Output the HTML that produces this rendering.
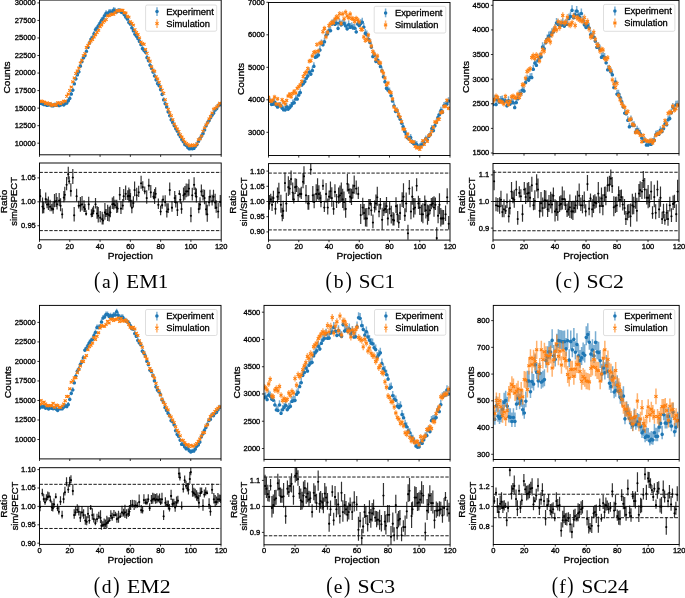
<!DOCTYPE html>
<html><head><meta charset="utf-8"><title>Figure</title>
<style>html,body{margin:0;padding:0;background:#fff;width:685px;height:598px;overflow:hidden;font-family:"Liberation Sans",sans-serif}svg{display:block;position:absolute;left:0;top:0}svg.t{will-change:transform}</style>
</head><body>
<svg width="685" height="598" viewBox="0 0 685 598"><clipPath id="ca"><rect x="39.50" y="0.05" width="181.70" height="154.75"/></clipPath>
<g clip-path="url(#ca)">
<path d="M39.50 100.57V102.35M41.01 100.72V102.49M42.53 101.32V103.09M44.04 101.96V103.72M45.56 102.07V103.83M47.07 102.69V104.45M48.59 102.44V104.19M50.10 101.99V103.75M51.61 103.09V104.84M53.13 103.17V104.92M54.64 102.55V104.30M56.16 102.54V104.30M57.67 102.56V104.32M59.18 102.96V104.72M60.70 102.30V104.06M62.21 101.70V103.46M63.73 102.31V104.07M65.24 100.89V102.66M66.75 100.42V102.20M68.27 98.18V99.97M69.78 95.83V97.64M71.30 91.42V93.26M72.81 87.47V89.34M74.33 81.16V83.08M75.84 76.16V78.11M77.35 72.05V74.03M78.87 69.09V71.10M80.38 63.37V65.41M81.90 58.86V60.94M83.41 55.15V57.25M84.92 52.84V54.96M86.44 48.59V50.73M87.95 44.47V46.64M89.47 40.26V42.46M90.98 36.27V38.50M92.50 34.90V37.13M94.01 30.97V33.23M95.52 26.82V29.10M97.04 25.23V27.52M98.55 22.76V25.06M100.07 20.13V22.45M101.58 17.34V19.68M103.09 15.81V18.15M104.61 12.73V15.09M106.12 10.34V12.72M107.64 11.50V13.88M109.15 9.06V11.45M110.67 9.07V11.46M112.18 9.28V11.66M113.69 7.11V9.51M115.21 7.77V10.17M116.72 9.03V11.42M118.24 8.05V10.44M119.75 7.93V10.32M121.27 9.21V11.60M122.78 9.64V12.02M124.29 11.79V14.16M125.81 14.15V16.51M127.32 16.14V18.49M128.84 19.50V21.83M130.35 21.12V23.43M131.86 24.88V27.18M133.38 27.87V30.14M134.89 31.35V33.60M136.41 33.26V35.50M137.92 35.70V37.92M139.44 38.51V40.72M140.95 41.73V43.92M142.46 45.79V47.95M143.98 47.63V49.78M145.49 49.40V51.54M147.01 54.73V56.84M148.52 57.91V59.99M150.03 62.41V64.47M151.55 65.73V67.75M153.06 69.30V71.30M154.58 73.21V75.19M156.09 77.13V79.08M157.60 80.88V82.80M159.12 82.86V84.77M160.63 86.92V88.80M162.15 91.75V93.59M163.66 97.21V99.01M165.18 101.06V102.83M166.69 104.46V106.20M168.20 109.28V110.98M169.72 113.09V114.76M171.23 117.25V118.89M172.75 119.97V121.58M174.26 123.16V124.74M175.77 126.14V127.70M177.29 128.51V130.05M178.80 131.85V133.36M180.32 134.08V135.57M181.83 137.11V138.57M183.35 139.23V140.66M184.86 142.15V143.56M186.37 143.02V144.42M187.89 145.21V146.58M189.40 146.39V147.75M190.92 146.04V147.40M192.43 146.28V147.65M193.94 145.84V147.21M195.46 144.03V145.42M196.97 142.03V143.44M198.49 138.86V140.30M200.00 136.22V137.69M201.52 133.74V135.23M203.03 131.04V132.56M204.54 127.40V128.94M206.06 123.22V124.80M207.57 120.07V121.69M209.09 118.13V119.76M210.60 115.16V116.81M212.11 112.61V114.28M213.63 110.57V112.26M215.14 107.43V109.15M216.66 105.94V107.66M218.17 103.24V104.99M219.69 102.20V103.96" stroke="#1f77b4" stroke-width="1.50" stroke-opacity="0.60" fill="none"/>
<path d="M39.49 101.46a1.75 1.75 0 1 0 0.01 0zM41.01 101.61a1.75 1.75 0 1 0 0.01 0zM42.52 102.20a1.75 1.75 0 1 0 0.01 0zM44.04 102.84a1.75 1.75 0 1 0 0.01 0zM45.55 102.95a1.75 1.75 0 1 0 0.01 0zM47.07 103.57a1.75 1.75 0 1 0 0.01 0zM48.58 103.31a1.75 1.75 0 1 0 0.01 0zM50.09 102.87a1.75 1.75 0 1 0 0.01 0zM51.61 103.97a1.75 1.75 0 1 0 0.01 0zM53.12 104.05a1.75 1.75 0 1 0 0.01 0zM54.64 103.43a1.75 1.75 0 1 0 0.01 0zM56.15 103.42a1.75 1.75 0 1 0 0.01 0zM57.66 103.44a1.75 1.75 0 1 0 0.01 0zM59.18 103.84a1.75 1.75 0 1 0 0.01 0zM60.69 103.18a1.75 1.75 0 1 0 0.01 0zM62.21 102.58a1.75 1.75 0 1 0 0.01 0zM63.72 103.19a1.75 1.75 0 1 0 0.01 0zM65.24 101.77a1.75 1.75 0 1 0 0.01 0zM66.75 101.31a1.75 1.75 0 1 0 0.01 0zM68.26 99.08a1.75 1.75 0 1 0 0.01 0zM69.78 96.73a1.75 1.75 0 1 0 0.01 0zM71.29 92.34a1.75 1.75 0 1 0 0.01 0zM72.81 88.40a1.75 1.75 0 1 0 0.01 0zM74.32 82.12a1.75 1.75 0 1 0 0.01 0zM75.84 77.14a1.75 1.75 0 1 0 0.01 0zM77.35 73.04a1.75 1.75 0 1 0 0.01 0zM78.86 70.09a1.75 1.75 0 1 0 0.01 0zM80.38 64.39a1.75 1.75 0 1 0 0.01 0zM81.89 59.90a1.75 1.75 0 1 0 0.01 0zM83.41 56.20a1.75 1.75 0 1 0 0.01 0zM84.92 53.90a1.75 1.75 0 1 0 0.01 0zM86.43 49.66a1.75 1.75 0 1 0 0.01 0zM87.95 45.55a1.75 1.75 0 1 0 0.01 0zM89.46 41.36a1.75 1.75 0 1 0 0.01 0zM90.98 37.39a1.75 1.75 0 1 0 0.01 0zM92.49 36.02a1.75 1.75 0 1 0 0.01 0zM94.00 32.10a1.75 1.75 0 1 0 0.01 0zM95.52 27.96a1.75 1.75 0 1 0 0.01 0zM97.03 26.37a1.75 1.75 0 1 0 0.01 0zM98.55 23.91a1.75 1.75 0 1 0 0.01 0zM100.06 21.29a1.75 1.75 0 1 0 0.01 0zM101.58 18.51a1.75 1.75 0 1 0 0.01 0zM103.09 16.98a1.75 1.75 0 1 0 0.01 0zM104.60 13.91a1.75 1.75 0 1 0 0.01 0zM106.12 11.53a1.75 1.75 0 1 0 0.01 0zM107.63 12.69a1.75 1.75 0 1 0 0.01 0zM109.15 10.26a1.75 1.75 0 1 0 0.01 0zM110.66 10.26a1.75 1.75 0 1 0 0.01 0zM112.17 10.47a1.75 1.75 0 1 0 0.01 0zM113.69 8.31a1.75 1.75 0 1 0 0.01 0zM115.20 8.97a1.75 1.75 0 1 0 0.01 0zM116.72 10.22a1.75 1.75 0 1 0 0.01 0zM118.23 9.24a1.75 1.75 0 1 0 0.01 0zM119.75 9.12a1.75 1.75 0 1 0 0.01 0zM121.26 10.40a1.75 1.75 0 1 0 0.01 0zM122.77 10.83a1.75 1.75 0 1 0 0.01 0zM124.29 12.97a1.75 1.75 0 1 0 0.01 0zM125.80 15.33a1.75 1.75 0 1 0 0.01 0zM127.32 17.31a1.75 1.75 0 1 0 0.01 0zM128.83 20.66a1.75 1.75 0 1 0 0.01 0zM130.34 22.28a1.75 1.75 0 1 0 0.01 0zM131.86 26.03a1.75 1.75 0 1 0 0.01 0zM133.37 29.01a1.75 1.75 0 1 0 0.01 0zM134.89 32.47a1.75 1.75 0 1 0 0.01 0zM136.40 34.38a1.75 1.75 0 1 0 0.01 0zM137.92 36.81a1.75 1.75 0 1 0 0.01 0zM139.43 39.61a1.75 1.75 0 1 0 0.01 0zM140.94 42.82a1.75 1.75 0 1 0 0.01 0zM142.46 46.87a1.75 1.75 0 1 0 0.01 0zM143.97 48.70a1.75 1.75 0 1 0 0.01 0zM145.49 50.47a1.75 1.75 0 1 0 0.01 0zM147.00 55.78a1.75 1.75 0 1 0 0.01 0zM148.51 58.95a1.75 1.75 0 1 0 0.01 0zM150.03 63.44a1.75 1.75 0 1 0 0.01 0zM151.54 66.74a1.75 1.75 0 1 0 0.01 0zM153.06 70.30a1.75 1.75 0 1 0 0.01 0zM154.57 74.20a1.75 1.75 0 1 0 0.01 0zM156.09 78.10a1.75 1.75 0 1 0 0.01 0zM157.60 81.84a1.75 1.75 0 1 0 0.01 0zM159.11 83.81a1.75 1.75 0 1 0 0.01 0zM160.63 87.86a1.75 1.75 0 1 0 0.01 0zM162.14 92.67a1.75 1.75 0 1 0 0.01 0zM163.66 98.11a1.75 1.75 0 1 0 0.01 0zM165.17 101.94a1.75 1.75 0 1 0 0.01 0zM166.69 105.33a1.75 1.75 0 1 0 0.01 0zM168.20 110.13a1.75 1.75 0 1 0 0.01 0zM169.71 113.93a1.75 1.75 0 1 0 0.01 0zM171.23 118.07a1.75 1.75 0 1 0 0.01 0zM172.74 120.77a1.75 1.75 0 1 0 0.01 0zM174.26 123.95a1.75 1.75 0 1 0 0.01 0zM175.77 126.92a1.75 1.75 0 1 0 0.01 0zM177.28 129.28a1.75 1.75 0 1 0 0.01 0zM178.80 132.61a1.75 1.75 0 1 0 0.01 0zM180.31 134.82a1.75 1.75 0 1 0 0.01 0zM181.83 137.84a1.75 1.75 0 1 0 0.01 0zM183.34 139.94a1.75 1.75 0 1 0 0.01 0zM184.85 142.85a1.75 1.75 0 1 0 0.01 0zM186.37 143.72a1.75 1.75 0 1 0 0.01 0zM187.88 145.90a1.75 1.75 0 1 0 0.01 0zM189.40 147.07a1.75 1.75 0 1 0 0.01 0zM190.91 146.72a1.75 1.75 0 1 0 0.01 0zM192.43 146.96a1.75 1.75 0 1 0 0.01 0zM193.94 146.53a1.75 1.75 0 1 0 0.01 0zM195.45 144.72a1.75 1.75 0 1 0 0.01 0zM196.97 142.73a1.75 1.75 0 1 0 0.01 0zM198.48 139.58a1.75 1.75 0 1 0 0.01 0zM200.00 136.96a1.75 1.75 0 1 0 0.01 0zM201.51 134.49a1.75 1.75 0 1 0 0.01 0zM203.03 131.80a1.75 1.75 0 1 0 0.01 0zM204.54 128.17a1.75 1.75 0 1 0 0.01 0zM206.05 124.01a1.75 1.75 0 1 0 0.01 0zM207.57 120.88a1.75 1.75 0 1 0 0.01 0zM209.08 118.94a1.75 1.75 0 1 0 0.01 0zM210.60 115.99a1.75 1.75 0 1 0 0.01 0zM212.11 113.44a1.75 1.75 0 1 0 0.01 0zM213.62 111.42a1.75 1.75 0 1 0 0.01 0zM215.14 108.29a1.75 1.75 0 1 0 0.01 0zM216.65 106.80a1.75 1.75 0 1 0 0.01 0zM218.17 104.12a1.75 1.75 0 1 0 0.01 0zM219.68 103.08a1.75 1.75 0 1 0 0.01 0z" fill="#1f77b4"/>
<path d="M39.50 100.54V102.32M41.01 100.08V101.85M42.53 100.49V102.26M44.04 101.10V102.87M45.56 102.62V104.38M47.07 101.98V103.74M48.59 103.50V105.25M50.10 102.57V104.33M51.61 104.72V106.46M53.13 103.86V105.60M54.64 103.68V105.43M56.16 104.57V106.31M57.67 101.93V103.69M59.18 101.82V103.58M60.70 102.95V104.70M62.21 101.49V103.25M63.73 100.38V102.15M65.24 100.18V101.95M66.75 95.38V97.19M68.27 93.01V94.84M69.78 89.59V91.44M71.30 86.10V87.99M72.81 80.82V82.74M74.33 77.01V78.96M75.84 72.46V74.44M77.35 69.93V71.93M78.87 67.06V69.08M80.38 62.02V64.07M81.90 59.18V61.25M83.41 54.58V56.68M84.92 52.60V54.72M86.44 46.40V48.56M87.95 44.33V46.51M89.47 41.90V44.09M90.98 39.97V42.17M92.50 38.39V40.59M94.01 35.84V38.06M95.52 33.75V35.98M97.04 31.31V33.57M98.55 29.03V31.29M100.07 25.50V27.79M101.58 23.85V26.15M103.09 21.16V23.48M104.61 19.78V22.11M106.12 18.44V20.77M107.64 14.76V17.12M109.15 14.45V16.80M110.67 13.46V15.83M112.18 12.80V15.16M113.69 13.07V15.43M115.21 11.52V13.89M116.72 9.57V11.96M118.24 9.83V12.21M119.75 8.99V11.38M121.27 9.07V11.46M122.78 9.13V11.52M124.29 11.59V13.97M125.81 11.82V14.19M127.32 15.12V17.48M128.84 15.96V18.30M130.35 20.58V22.89M131.86 22.17V24.48M133.38 23.98V26.28M134.89 28.49V30.76M136.41 31.39V33.64M137.92 33.39V35.63M139.44 36.77V38.99M140.95 40.99V43.18M142.46 42.39V44.58M143.98 43.27V45.44M145.49 48.33V50.48M147.01 52.23V54.35M148.52 57.17V59.26M150.03 60.20V62.27M151.55 65.76V67.79M153.06 69.14V71.14M154.58 70.23V72.23M156.09 75.80V77.75M157.60 77.96V79.90M159.12 81.32V83.24M160.63 85.83V87.72M162.15 89.28V91.14M163.66 92.42V94.26M165.18 98.74V100.53M166.69 103.51V105.26M168.20 108.47V110.18M169.72 111.79V113.47M171.23 114.86V116.52M172.75 118.87V120.49M174.26 123.24V124.83M175.77 125.86V127.42M177.29 128.33V129.87M178.80 130.69V132.20M180.32 133.91V135.40M181.83 136.26V137.72M183.35 138.72V140.16M184.86 141.36V142.77M186.37 142.78V144.18M187.89 143.89V145.28M189.40 145.04V146.41M190.92 145.01V146.38M192.43 144.16V145.54M193.94 144.95V146.33M195.46 144.54V145.92M196.97 143.00V144.40M198.49 138.95V140.39M200.00 138.07V139.52M201.52 135.13V136.60M203.03 130.55V132.07M204.54 127.10V128.65M206.06 124.09V125.67M207.57 121.99V123.59M209.09 118.16V119.79M210.60 115.71V117.36M212.11 112.13V113.80M213.63 108.27V109.98M215.14 107.38V109.10M216.66 106.10V107.83M218.17 104.68V106.41M219.69 102.34V104.10" stroke="#ff7f0e" stroke-width="1.50" stroke-opacity="0.60" fill="none"/>
<path d="M37.95 100.13l3.10 2.60M37.95 102.73l3.10 -2.60M39.46 99.66l3.10 2.60M39.46 102.26l3.10 -2.60M40.98 100.07l3.10 2.60M40.98 102.67l3.10 -2.60M42.49 100.69l3.10 2.60M42.49 103.29l3.10 -2.60M44.01 102.20l3.10 2.60M44.01 104.80l3.10 -2.60M45.52 101.56l3.10 2.60M45.52 104.16l3.10 -2.60M47.04 103.08l3.10 2.60M47.04 105.68l3.10 -2.60M48.55 102.15l3.10 2.60M48.55 104.75l3.10 -2.60M50.06 104.29l3.10 2.60M50.06 106.89l3.10 -2.60M51.58 103.43l3.10 2.60M51.58 106.03l3.10 -2.60M53.09 103.25l3.10 2.60M53.09 105.85l3.10 -2.60M54.61 104.14l3.10 2.60M54.61 106.74l3.10 -2.60M56.12 101.51l3.10 2.60M56.12 104.11l3.10 -2.60M57.63 101.40l3.10 2.60M57.63 104.00l3.10 -2.60M59.15 102.52l3.10 2.60M59.15 105.12l3.10 -2.60M60.66 101.07l3.10 2.60M60.66 103.67l3.10 -2.60M62.18 99.97l3.10 2.60M62.18 102.57l3.10 -2.60M63.69 99.76l3.10 2.60M63.69 102.36l3.10 -2.60M65.20 94.98l3.10 2.60M65.20 97.58l3.10 -2.60M66.72 92.62l3.10 2.60M66.72 95.22l3.10 -2.60M68.23 89.21l3.10 2.60M68.23 91.81l3.10 -2.60M69.75 85.75l3.10 2.60M69.75 88.35l3.10 -2.60M71.26 80.48l3.10 2.60M71.26 83.08l3.10 -2.60M72.78 76.68l3.10 2.60M72.78 79.28l3.10 -2.60M74.29 72.15l3.10 2.60M74.29 74.75l3.10 -2.60M75.80 69.63l3.10 2.60M75.80 72.23l3.10 -2.60M77.32 66.77l3.10 2.60M77.32 69.37l3.10 -2.60M78.83 61.74l3.10 2.60M78.83 64.34l3.10 -2.60M80.35 58.91l3.10 2.60M80.35 61.51l3.10 -2.60M81.86 54.33l3.10 2.60M81.86 56.93l3.10 -2.60M83.38 52.36l3.10 2.60M83.38 54.96l3.10 -2.60M84.89 46.18l3.10 2.60M84.89 48.78l3.10 -2.60M86.40 44.12l3.10 2.60M86.40 46.72l3.10 -2.60M87.92 41.70l3.10 2.60M87.92 44.30l3.10 -2.60M89.43 39.77l3.10 2.60M89.43 42.37l3.10 -2.60M90.95 38.19l3.10 2.60M90.95 40.79l3.10 -2.60M92.46 35.65l3.10 2.60M92.46 38.25l3.10 -2.60M93.97 33.56l3.10 2.60M93.97 36.16l3.10 -2.60M95.49 31.14l3.10 2.60M95.49 33.74l3.10 -2.60M97.00 28.86l3.10 2.60M97.00 31.46l3.10 -2.60M98.52 25.34l3.10 2.60M98.52 27.94l3.10 -2.60M100.03 23.70l3.10 2.60M100.03 26.30l3.10 -2.60M101.55 21.02l3.10 2.60M101.55 23.62l3.10 -2.60M103.06 19.64l3.10 2.60M103.06 22.24l3.10 -2.60M104.57 18.30l3.10 2.60M104.57 20.90l3.10 -2.60M106.09 14.64l3.10 2.60M106.09 17.24l3.10 -2.60M107.60 14.32l3.10 2.60M107.60 16.92l3.10 -2.60M109.12 13.34l3.10 2.60M109.12 15.94l3.10 -2.60M110.63 12.68l3.10 2.60M110.63 15.28l3.10 -2.60M112.14 12.95l3.10 2.60M112.14 15.55l3.10 -2.60M113.66 11.40l3.10 2.60M113.66 14.00l3.10 -2.60M115.17 9.47l3.10 2.60M115.17 12.07l3.10 -2.60M116.69 9.72l3.10 2.60M116.69 12.32l3.10 -2.60M118.20 8.88l3.10 2.60M118.20 11.48l3.10 -2.60M119.72 8.97l3.10 2.60M119.72 11.57l3.10 -2.60M121.23 9.03l3.10 2.60M121.23 11.63l3.10 -2.60M122.74 11.48l3.10 2.60M122.74 14.08l3.10 -2.60M124.26 11.71l3.10 2.60M124.26 14.31l3.10 -2.60M125.77 15.00l3.10 2.60M125.77 17.60l3.10 -2.60M127.29 15.83l3.10 2.60M127.29 18.43l3.10 -2.60M128.80 20.44l3.10 2.60M128.80 23.04l3.10 -2.60M130.31 22.02l3.10 2.60M130.31 24.62l3.10 -2.60M131.83 23.83l3.10 2.60M131.83 26.43l3.10 -2.60M133.34 28.32l3.10 2.60M133.34 30.92l3.10 -2.60M134.86 31.22l3.10 2.60M134.86 33.82l3.10 -2.60M136.37 33.21l3.10 2.60M136.37 35.81l3.10 -2.60M137.88 36.58l3.10 2.60M137.88 39.18l3.10 -2.60M139.40 40.79l3.10 2.60M139.40 43.39l3.10 -2.60M140.91 42.19l3.10 2.60M140.91 44.79l3.10 -2.60M142.43 43.06l3.10 2.60M142.43 45.66l3.10 -2.60M143.94 48.10l3.10 2.60M143.94 50.70l3.10 -2.60M145.46 51.99l3.10 2.60M145.46 54.59l3.10 -2.60M146.97 56.92l3.10 2.60M146.97 59.52l3.10 -2.60M148.48 59.93l3.10 2.60M148.48 62.53l3.10 -2.60M150.00 65.47l3.10 2.60M150.00 68.07l3.10 -2.60M151.51 68.84l3.10 2.60M151.51 71.44l3.10 -2.60M153.03 69.93l3.10 2.60M153.03 72.53l3.10 -2.60M154.54 75.48l3.10 2.60M154.54 78.08l3.10 -2.60M156.05 77.63l3.10 2.60M156.05 80.23l3.10 -2.60M157.57 80.98l3.10 2.60M157.57 83.58l3.10 -2.60M159.08 85.48l3.10 2.60M159.08 88.08l3.10 -2.60M160.60 88.91l3.10 2.60M160.60 91.51l3.10 -2.60M162.11 92.04l3.10 2.60M162.11 94.64l3.10 -2.60M163.63 98.34l3.10 2.60M163.63 100.94l3.10 -2.60M165.14 103.08l3.10 2.60M165.14 105.68l3.10 -2.60M166.65 108.02l3.10 2.60M166.65 110.62l3.10 -2.60M168.17 111.33l3.10 2.60M168.17 113.93l3.10 -2.60M169.68 114.39l3.10 2.60M169.68 116.99l3.10 -2.60M171.20 118.38l3.10 2.60M171.20 120.98l3.10 -2.60M172.71 122.74l3.10 2.60M172.71 125.34l3.10 -2.60M174.22 125.34l3.10 2.60M174.22 127.94l3.10 -2.60M175.74 127.80l3.10 2.60M175.74 130.40l3.10 -2.60M177.25 130.15l3.10 2.60M177.25 132.75l3.10 -2.60M178.77 133.36l3.10 2.60M178.77 135.96l3.10 -2.60M180.28 135.69l3.10 2.60M180.28 138.29l3.10 -2.60M181.80 138.14l3.10 2.60M181.80 140.74l3.10 -2.60M183.31 140.77l3.10 2.60M183.31 143.37l3.10 -2.60M184.82 142.18l3.10 2.60M184.82 144.78l3.10 -2.60M186.34 143.29l3.10 2.60M186.34 145.89l3.10 -2.60M187.85 144.42l3.10 2.60M187.85 147.02l3.10 -2.60M189.37 144.39l3.10 2.60M189.37 146.99l3.10 -2.60M190.88 143.55l3.10 2.60M190.88 146.15l3.10 -2.60M192.39 144.34l3.10 2.60M192.39 146.94l3.10 -2.60M193.91 143.93l3.10 2.60M193.91 146.53l3.10 -2.60M195.42 142.40l3.10 2.60M195.42 145.00l3.10 -2.60M196.94 138.37l3.10 2.60M196.94 140.97l3.10 -2.60M198.45 137.49l3.10 2.60M198.45 140.09l3.10 -2.60M199.97 134.57l3.10 2.60M199.97 137.17l3.10 -2.60M201.48 130.01l3.10 2.60M201.48 132.61l3.10 -2.60M202.99 126.57l3.10 2.60M202.99 129.17l3.10 -2.60M204.51 123.58l3.10 2.60M204.51 126.18l3.10 -2.60M206.02 121.49l3.10 2.60M206.02 124.09l3.10 -2.60M207.54 117.68l3.10 2.60M207.54 120.28l3.10 -2.60M209.05 115.24l3.10 2.60M209.05 117.84l3.10 -2.60M210.56 111.67l3.10 2.60M210.56 114.27l3.10 -2.60M212.08 107.83l3.10 2.60M212.08 110.43l3.10 -2.60M213.59 106.94l3.10 2.60M213.59 109.54l3.10 -2.60M215.11 105.66l3.10 2.60M215.11 108.26l3.10 -2.60M216.62 104.25l3.10 2.60M216.62 106.85l3.10 -2.60M218.14 101.92l3.10 2.60M218.14 104.52l3.10 -2.60" stroke="#ff7f0e" stroke-width="1.15" fill="none"/>
</g>
<clipPath id="ra"><rect x="39.50" y="163.00" width="181.70" height="76.80"/></clipPath>
<g clip-path="url(#ra)">
<path d="M39.50 230.62H221.20" stroke="#000" stroke-width="0.9" stroke-dasharray="3.4 1.5" fill="none"/>
<path d="M39.50 172.40H221.20" stroke="#000" stroke-width="0.9" stroke-dasharray="3.4 1.5" fill="none"/>
<path d="M39.50 201.80H221.20" stroke="#000" stroke-width="1.0" fill="none"/>
<path d="M40.26 188.92V201.30M43.74 201.72V213.35M45.71 192.56V203.40M48.43 196.50V209.96M51.76 203.73V211.34M54.49 194.00V207.21M57.06 196.91V209.55M59.18 193.04V205.78M60.55 198.16V211.17M62.21 208.13V218.41M63.88 190.88V202.20M64.79 186.83V200.51M66.60 177.07V190.20M68.27 166.85V179.39M69.18 176.29V184.29M70.84 183.14V196.56M72.81 168.92V184.01M74.17 206.90V221.56M76.60 188.80V201.42M78.72 200.72V208.61M82.05 195.99V210.48M84.02 200.30V211.91M86.14 210.14V215.45M88.71 196.74V209.73M91.44 209.24V217.30M93.56 205.64V214.21M95.52 198.07V208.40M98.25 207.03V222.39M100.22 211.11V222.13M102.19 211.69V224.41M104.91 203.05V219.67M107.64 204.69V220.90M110.36 205.50V217.22M112.33 197.55V208.92M115.06 199.85V208.53M117.63 202.45V212.62M119.75 187.11V200.24M120.96 201.01V214.06M123.69 188.96V201.25M125.66 185.40V200.03M127.78 190.13V200.09M129.90 189.18V201.03M130.50 192.92V206.85M131.86 199.81V213.35M134.59 181.48V196.31M136.71 187.63V200.68M138.68 185.69V196.88M141.10 175.72V188.68M142.77 181.35V190.70M144.73 186.49V194.16M146.70 190.25V203.79M148.82 178.66V190.52M150.79 184.88V197.69M153.52 191.83V199.35M155.64 187.20V198.24M158.36 198.50V208.92M160.63 205.54V215.26M163.06 195.43V201.48M165.18 195.29V206.40M166.84 203.22V217.59M169.72 182.39V195.40M171.99 201.37V211.79M174.72 191.04V203.00M177.44 201.97V215.97M179.41 190.36V195.07M181.53 202.18V213.85M183.50 187.43V200.87M186.22 183.43V197.23M188.95 179.22V195.70M190.92 207.21V222.20M192.28 187.74V200.56M194.10 177.24V190.03M196.37 188.55V202.62M198.79 202.73V213.30M201.36 184.38V196.27M204.54 189.82V204.22M207.27 204.69V221.86M210.00 189.80V201.38M213.48 189.65V201.52M216.20 200.32V212.84M218.17 202.63V218.18M220.29 194.88V206.80M42.53 197.60V213.48M47.07 198.72V208.17M50.10 199.85V211.36M53.13 202.32V213.80M56.16 192.95V207.03M80.38 196.97V211.73M84.92 204.01V212.02M92.50 207.51V217.09M97.04 205.94V218.83M103.09 214.32V224.58M106.12 208.91V216.90M109.15 206.72V221.47M113.69 196.17V209.47M116.72 199.72V213.02M122.78 199.09V209.83M128.84 187.49V202.21M133.38 196.21V207.57M154.58 189.06V203.96M162.15 199.26V208.86M168.20 203.28V213.02M175.77 195.05V207.59M180.32 193.62V203.77M184.86 185.95V199.74M187.89 183.85V196.54M195.46 187.45V197.02M200.00 197.33V209.52M203.03 189.33V200.40M206.06 200.95V215.37M209.09 195.97V206.30M212.11 194.77V205.61M215.14 193.80V209.00" stroke="#000" stroke-width="1.2" stroke-opacity="0.8" fill="none"/>
<path d="M40.25 195.11a1.05 1.05 0 1 0 0.01 0zM43.73 207.54a1.05 1.05 0 1 0 0.01 0zM45.70 197.98a1.05 1.05 0 1 0 0.01 0zM48.43 203.23a1.05 1.05 0 1 0 0.01 0zM51.76 207.54a1.05 1.05 0 1 0 0.01 0zM54.49 200.61a1.05 1.05 0 1 0 0.01 0zM57.06 203.23a1.05 1.05 0 1 0 0.01 0zM59.18 199.41a1.05 1.05 0 1 0 0.01 0zM60.54 204.67a1.05 1.05 0 1 0 0.01 0zM62.21 213.27a1.05 1.05 0 1 0 0.01 0zM63.87 196.54a1.05 1.05 0 1 0 0.01 0zM64.78 193.67a1.05 1.05 0 1 0 0.01 0zM66.60 183.64a1.05 1.05 0 1 0 0.01 0zM68.26 173.12a1.05 1.05 0 1 0 0.01 0zM69.17 180.29a1.05 1.05 0 1 0 0.01 0zM70.84 189.85a1.05 1.05 0 1 0 0.01 0zM72.81 176.47a1.05 1.05 0 1 0 0.01 0zM74.17 214.23a1.05 1.05 0 1 0 0.01 0zM76.59 195.11a1.05 1.05 0 1 0 0.01 0zM78.71 204.67a1.05 1.05 0 1 0 0.01 0zM82.04 203.23a1.05 1.05 0 1 0 0.01 0zM84.01 206.10a1.05 1.05 0 1 0 0.01 0zM86.13 212.79a1.05 1.05 0 1 0 0.01 0zM88.71 203.23a1.05 1.05 0 1 0 0.01 0zM91.43 213.27a1.05 1.05 0 1 0 0.01 0zM93.55 209.93a1.05 1.05 0 1 0 0.01 0zM95.52 203.23a1.05 1.05 0 1 0 0.01 0zM98.24 214.71a1.05 1.05 0 1 0 0.01 0zM100.21 216.62a1.05 1.05 0 1 0 0.01 0zM102.18 218.05a1.05 1.05 0 1 0 0.01 0zM104.91 211.36a1.05 1.05 0 1 0 0.01 0zM107.63 212.79a1.05 1.05 0 1 0 0.01 0zM110.36 211.36a1.05 1.05 0 1 0 0.01 0zM112.33 203.23a1.05 1.05 0 1 0 0.01 0zM115.05 204.19a1.05 1.05 0 1 0 0.01 0zM117.63 207.54a1.05 1.05 0 1 0 0.01 0zM119.75 193.67a1.05 1.05 0 1 0 0.01 0zM120.96 207.54a1.05 1.05 0 1 0 0.01 0zM123.68 195.11a1.05 1.05 0 1 0 0.01 0zM125.65 192.72a1.05 1.05 0 1 0 0.01 0zM127.77 195.11a1.05 1.05 0 1 0 0.01 0zM129.89 195.11a1.05 1.05 0 1 0 0.01 0zM130.50 199.89a1.05 1.05 0 1 0 0.01 0zM131.86 206.58a1.05 1.05 0 1 0 0.01 0zM134.58 188.89a1.05 1.05 0 1 0 0.01 0zM136.70 194.15a1.05 1.05 0 1 0 0.01 0zM138.67 191.28a1.05 1.05 0 1 0 0.01 0zM141.10 182.20a1.05 1.05 0 1 0 0.01 0zM142.76 186.03a1.05 1.05 0 1 0 0.01 0zM144.73 190.33a1.05 1.05 0 1 0 0.01 0zM146.70 197.02a1.05 1.05 0 1 0 0.01 0zM148.82 184.59a1.05 1.05 0 1 0 0.01 0zM150.79 191.28a1.05 1.05 0 1 0 0.01 0zM153.51 195.59a1.05 1.05 0 1 0 0.01 0zM155.63 192.72a1.05 1.05 0 1 0 0.01 0zM158.36 203.71a1.05 1.05 0 1 0 0.01 0zM160.63 210.40a1.05 1.05 0 1 0 0.01 0zM163.05 198.45a1.05 1.05 0 1 0 0.01 0zM165.17 200.84a1.05 1.05 0 1 0 0.01 0zM166.84 210.40a1.05 1.05 0 1 0 0.01 0zM169.71 188.89a1.05 1.05 0 1 0 0.01 0zM171.98 206.58a1.05 1.05 0 1 0 0.01 0zM174.71 197.02a1.05 1.05 0 1 0 0.01 0zM177.44 208.97a1.05 1.05 0 1 0 0.01 0zM179.40 192.72a1.05 1.05 0 1 0 0.01 0zM181.52 208.01a1.05 1.05 0 1 0 0.01 0zM183.49 194.15a1.05 1.05 0 1 0 0.01 0zM186.22 190.33a1.05 1.05 0 1 0 0.01 0zM188.94 187.46a1.05 1.05 0 1 0 0.01 0zM190.91 214.71a1.05 1.05 0 1 0 0.01 0zM192.27 194.15a1.05 1.05 0 1 0 0.01 0zM194.09 183.64a1.05 1.05 0 1 0 0.01 0zM196.36 195.59a1.05 1.05 0 1 0 0.01 0zM198.79 208.01a1.05 1.05 0 1 0 0.01 0zM201.36 190.33a1.05 1.05 0 1 0 0.01 0zM204.54 197.02a1.05 1.05 0 1 0 0.01 0zM207.26 213.27a1.05 1.05 0 1 0 0.01 0zM209.99 195.59a1.05 1.05 0 1 0 0.01 0zM213.47 195.59a1.05 1.05 0 1 0 0.01 0zM216.20 206.58a1.05 1.05 0 1 0 0.01 0zM218.17 210.40a1.05 1.05 0 1 0 0.01 0zM220.29 200.84a1.05 1.05 0 1 0 0.01 0zM42.52 205.54a1.05 1.05 0 1 0 0.01 0zM47.07 203.44a1.05 1.05 0 1 0 0.01 0zM50.09 205.61a1.05 1.05 0 1 0 0.01 0zM53.12 208.06a1.05 1.05 0 1 0 0.01 0zM56.15 199.99a1.05 1.05 0 1 0 0.01 0zM80.38 204.35a1.05 1.05 0 1 0 0.01 0zM84.92 208.01a1.05 1.05 0 1 0 0.01 0zM92.49 212.30a1.05 1.05 0 1 0 0.01 0zM97.03 212.39a1.05 1.05 0 1 0 0.01 0zM103.09 219.45a1.05 1.05 0 1 0 0.01 0zM106.12 212.90a1.05 1.05 0 1 0 0.01 0zM109.15 214.10a1.05 1.05 0 1 0 0.01 0zM113.69 202.82a1.05 1.05 0 1 0 0.01 0zM116.72 206.37a1.05 1.05 0 1 0 0.01 0zM122.77 204.46a1.05 1.05 0 1 0 0.01 0zM128.83 194.85a1.05 1.05 0 1 0 0.01 0zM133.37 201.89a1.05 1.05 0 1 0 0.01 0zM154.57 196.51a1.05 1.05 0 1 0 0.01 0zM162.14 204.06a1.05 1.05 0 1 0 0.01 0zM168.20 208.15a1.05 1.05 0 1 0 0.01 0zM175.77 201.32a1.05 1.05 0 1 0 0.01 0zM180.31 198.70a1.05 1.05 0 1 0 0.01 0zM184.85 192.84a1.05 1.05 0 1 0 0.01 0zM187.88 190.20a1.05 1.05 0 1 0 0.01 0zM195.45 192.23a1.05 1.05 0 1 0 0.01 0zM200.00 203.43a1.05 1.05 0 1 0 0.01 0zM203.03 194.86a1.05 1.05 0 1 0 0.01 0zM206.05 208.16a1.05 1.05 0 1 0 0.01 0zM209.08 201.13a1.05 1.05 0 1 0 0.01 0zM212.11 200.19a1.05 1.05 0 1 0 0.01 0zM215.14 201.40a1.05 1.05 0 1 0 0.01 0z" fill="#000"/>
</g>
<rect x="39.50" y="0.05" width="181.70" height="154.75" fill="none" stroke="#000" stroke-width="0.95"/>
<rect x="39.50" y="163.00" width="181.70" height="76.80" fill="none" stroke="#000" stroke-width="0.95"/>
<path d="M39.50 154.80v2.1M39.50 239.80v2.1M69.78 154.80v2.1M69.78 239.80v2.1M100.07 154.80v2.1M100.07 239.80v2.1M130.35 154.80v2.1M130.35 239.80v2.1M160.63 154.80v2.1M160.63 239.80v2.1M190.92 154.80v2.1M190.92 239.80v2.1M221.20 154.80v2.1M221.20 239.80v2.1M39.50 143.20h-2.1M39.50 125.66h-2.1M39.50 108.12h-2.1M39.50 90.59h-2.1M39.50 73.05h-2.1M39.50 55.51h-2.1M39.50 37.97h-2.1M39.50 20.44h-2.1M39.50 2.90h-2.1M39.50 225.70h-2.1M39.50 201.80h-2.1M39.50 177.90h-2.1" stroke="#000" stroke-width="0.8" fill="none"/>
<rect x="145.60" y="5.00" width="71.10" height="26.20" rx="1.6" fill="#fff" fill-opacity="0.85" stroke="#d6d6d6" stroke-width="0.8"/>
<path d="M157.00 7.20V16.00" stroke="#1f77b4" stroke-width="1.50" stroke-opacity="0.60"/>
<circle cx="157.00" cy="11.60" r="1.75" fill="#1f77b4"/>
<path d="M157.00 19.20V28.00" stroke="#ff7f0e" stroke-width="1.50" stroke-opacity="0.60"/>
<path d="M155.45 22.30l3.10 2.60M155.45 24.90l3.10 -2.60" stroke="#ff7f0e" stroke-width="1.15"/>
<clipPath id="cb"><rect x="268.50" y="2.50" width="181.50" height="153.00"/></clipPath>
<g clip-path="url(#cb)">
<path d="M268.50 97.36V101.47M270.01 97.57V101.68M271.52 100.67V104.73M273.04 100.40V104.47M274.55 98.37V102.47M276.06 101.44V105.49M277.57 103.32V107.34M279.09 102.05V106.09M280.60 101.92V105.97M282.11 104.38V108.39M283.62 106.12V110.09M285.14 106.15V110.12M286.65 103.02V107.04M288.16 105.42V109.41M289.68 103.95V107.97M291.19 102.11V106.15M292.70 99.59V103.67M294.21 98.96V103.05M295.73 95.24V99.39M297.24 95.18V99.33M298.75 91.20V95.41M300.26 88.73V92.98M301.77 81.19V85.55M303.29 79.57V83.96M304.80 77.71V82.13M306.31 74.48V78.95M307.82 72.01V76.51M309.34 68.19V72.74M310.85 70.14V74.66M312.36 66.53V71.11M313.88 62.20V66.84M315.39 53.19V57.95M316.90 52.48V57.25M318.41 50.96V55.75M319.93 45.82V50.67M321.44 39.57V44.51M322.95 40.58V45.51M324.46 37.57V42.54M325.98 31.31V36.35M327.49 29.63V34.70M329.00 26.37V31.48M330.51 26.40V31.51M332.02 19.73V24.92M333.54 18.79V23.99M335.05 19.97V25.16M336.56 18.86V24.06M338.07 24.16V29.30M339.59 18.65V23.86M341.10 20.59V25.77M342.61 19.53V24.73M344.12 19.27V24.47M345.64 21.60V26.77M347.15 24.57V29.70M348.66 20.43V25.61M350.18 22.93V28.08M351.69 22.34V27.51M353.20 23.71V28.86M354.71 23.83V28.97M356.23 27.67V32.77M357.74 19.75V24.94M359.25 21.16V26.33M360.76 19.19V24.39M362.27 17.87V23.09M363.79 22.91V28.07M365.30 28.99V34.06M366.81 30.48V35.54M368.32 34.96V39.96M369.84 38.19V43.15M371.35 43.04V47.93M372.86 52.47V57.24M374.38 51.33V56.11M375.89 57.32V62.02M377.40 55.98V60.70M378.91 59.07V63.75M380.43 62.51V67.14M381.94 66.67V71.24M383.45 72.83V77.32M384.96 77.81V82.22M386.48 84.43V88.75M387.99 86.16V90.45M389.50 87.47V91.74M391.01 91.78V95.98M392.52 97.20V101.32M394.04 102.14V106.18M395.55 107.72V111.67M397.06 107.28V111.24M398.57 112.49V116.36M400.09 115.57V119.39M401.60 119.58V123.33M403.11 123.10V126.79M404.62 127.79V131.40M406.14 130.41V133.98M407.65 134.39V137.88M409.16 135.70V139.17M410.68 134.01V137.51M412.19 138.88V142.28M413.70 140.30V143.68M415.21 140.34V143.72M416.73 141.06V144.43M418.24 144.22V147.52M419.75 143.32V146.64M421.26 141.47V144.83M422.77 141.11V144.47M424.29 139.48V142.87M425.80 135.39V138.86M427.31 136.40V139.85M428.82 132.93V136.45M430.34 130.98V134.53M431.85 125.02V128.68M433.36 127.03V130.65M434.88 122.15V125.86M436.39 118.84V122.60M437.90 113.87V117.72M439.41 110.95V114.85M440.93 106.81V110.78M442.44 108.55V112.49M443.95 101.96V106.00M445.46 101.26V105.32M446.98 100.22V104.29M448.49 97.19V101.31" stroke="#1f77b4" stroke-width="1.50" stroke-opacity="0.60" fill="none"/>
<path d="M268.50 99.42a1.75 1.75 0 1 0 0.01 0zM270.01 99.62a1.75 1.75 0 1 0 0.01 0zM271.52 102.70a1.75 1.75 0 1 0 0.01 0zM273.03 102.43a1.75 1.75 0 1 0 0.01 0zM274.55 100.42a1.75 1.75 0 1 0 0.01 0zM276.06 103.47a1.75 1.75 0 1 0 0.01 0zM277.57 105.33a1.75 1.75 0 1 0 0.01 0zM279.08 104.07a1.75 1.75 0 1 0 0.01 0zM280.60 103.95a1.75 1.75 0 1 0 0.01 0zM282.11 106.39a1.75 1.75 0 1 0 0.01 0zM283.62 108.11a1.75 1.75 0 1 0 0.01 0zM285.13 108.14a1.75 1.75 0 1 0 0.01 0zM286.64 105.03a1.75 1.75 0 1 0 0.01 0zM288.16 107.42a1.75 1.75 0 1 0 0.01 0zM289.67 105.96a1.75 1.75 0 1 0 0.01 0zM291.18 104.13a1.75 1.75 0 1 0 0.01 0zM292.69 101.63a1.75 1.75 0 1 0 0.01 0zM294.21 101.00a1.75 1.75 0 1 0 0.01 0zM295.72 97.32a1.75 1.75 0 1 0 0.01 0zM297.23 97.25a1.75 1.75 0 1 0 0.01 0zM298.75 93.31a1.75 1.75 0 1 0 0.01 0zM300.26 90.85a1.75 1.75 0 1 0 0.01 0zM301.77 83.37a1.75 1.75 0 1 0 0.01 0zM303.28 81.77a1.75 1.75 0 1 0 0.01 0zM304.80 79.92a1.75 1.75 0 1 0 0.01 0zM306.31 76.72a1.75 1.75 0 1 0 0.01 0zM307.82 74.26a1.75 1.75 0 1 0 0.01 0zM309.33 70.46a1.75 1.75 0 1 0 0.01 0zM310.85 72.40a1.75 1.75 0 1 0 0.01 0zM312.36 68.82a1.75 1.75 0 1 0 0.01 0zM313.87 64.52a1.75 1.75 0 1 0 0.01 0zM315.38 55.57a1.75 1.75 0 1 0 0.01 0zM316.89 54.87a1.75 1.75 0 1 0 0.01 0zM318.41 53.36a1.75 1.75 0 1 0 0.01 0zM319.92 48.25a1.75 1.75 0 1 0 0.01 0zM321.43 42.04a1.75 1.75 0 1 0 0.01 0zM322.94 43.04a1.75 1.75 0 1 0 0.01 0zM324.46 40.05a1.75 1.75 0 1 0 0.01 0zM325.97 33.83a1.75 1.75 0 1 0 0.01 0zM327.48 32.17a1.75 1.75 0 1 0 0.01 0zM329.00 28.92a1.75 1.75 0 1 0 0.01 0zM330.51 28.96a1.75 1.75 0 1 0 0.01 0zM332.02 22.33a1.75 1.75 0 1 0 0.01 0zM333.53 21.39a1.75 1.75 0 1 0 0.01 0zM335.05 22.56a1.75 1.75 0 1 0 0.01 0zM336.56 21.46a1.75 1.75 0 1 0 0.01 0zM338.07 26.73a1.75 1.75 0 1 0 0.01 0zM339.58 21.26a1.75 1.75 0 1 0 0.01 0zM341.10 23.18a1.75 1.75 0 1 0 0.01 0zM342.61 22.13a1.75 1.75 0 1 0 0.01 0zM344.12 21.87a1.75 1.75 0 1 0 0.01 0zM345.63 24.19a1.75 1.75 0 1 0 0.01 0zM347.14 27.13a1.75 1.75 0 1 0 0.01 0zM348.66 23.02a1.75 1.75 0 1 0 0.01 0zM350.17 25.50a1.75 1.75 0 1 0 0.01 0zM351.68 24.93a1.75 1.75 0 1 0 0.01 0zM353.19 26.29a1.75 1.75 0 1 0 0.01 0zM354.71 26.40a1.75 1.75 0 1 0 0.01 0zM356.22 30.22a1.75 1.75 0 1 0 0.01 0zM357.73 22.34a1.75 1.75 0 1 0 0.01 0zM359.25 23.75a1.75 1.75 0 1 0 0.01 0zM360.76 21.79a1.75 1.75 0 1 0 0.01 0zM362.27 20.48a1.75 1.75 0 1 0 0.01 0zM363.78 25.49a1.75 1.75 0 1 0 0.01 0zM365.30 31.53a1.75 1.75 0 1 0 0.01 0zM366.81 33.01a1.75 1.75 0 1 0 0.01 0zM368.32 37.46a1.75 1.75 0 1 0 0.01 0zM369.83 40.67a1.75 1.75 0 1 0 0.01 0zM371.35 45.48a1.75 1.75 0 1 0 0.01 0zM372.86 54.86a1.75 1.75 0 1 0 0.01 0zM374.37 53.72a1.75 1.75 0 1 0 0.01 0zM375.88 59.67a1.75 1.75 0 1 0 0.01 0zM377.39 58.34a1.75 1.75 0 1 0 0.01 0zM378.91 61.41a1.75 1.75 0 1 0 0.01 0zM380.42 64.83a1.75 1.75 0 1 0 0.01 0zM381.93 68.95a1.75 1.75 0 1 0 0.01 0zM383.44 75.07a1.75 1.75 0 1 0 0.01 0zM384.96 80.01a1.75 1.75 0 1 0 0.01 0zM386.47 86.59a1.75 1.75 0 1 0 0.01 0zM387.98 88.30a1.75 1.75 0 1 0 0.01 0zM389.50 89.60a1.75 1.75 0 1 0 0.01 0zM391.01 93.88a1.75 1.75 0 1 0 0.01 0zM392.52 99.26a1.75 1.75 0 1 0 0.01 0zM394.03 104.16a1.75 1.75 0 1 0 0.01 0zM395.55 109.69a1.75 1.75 0 1 0 0.01 0zM397.06 109.26a1.75 1.75 0 1 0 0.01 0zM398.57 114.43a1.75 1.75 0 1 0 0.01 0zM400.08 117.48a1.75 1.75 0 1 0 0.01 0zM401.60 121.45a1.75 1.75 0 1 0 0.01 0zM403.11 124.95a1.75 1.75 0 1 0 0.01 0zM404.62 129.60a1.75 1.75 0 1 0 0.01 0zM406.13 132.20a1.75 1.75 0 1 0 0.01 0zM407.64 136.14a1.75 1.75 0 1 0 0.01 0zM409.16 137.43a1.75 1.75 0 1 0 0.01 0zM410.67 135.76a1.75 1.75 0 1 0 0.01 0zM412.18 140.58a1.75 1.75 0 1 0 0.01 0zM413.69 141.99a1.75 1.75 0 1 0 0.01 0zM415.21 142.03a1.75 1.75 0 1 0 0.01 0zM416.72 142.75a1.75 1.75 0 1 0 0.01 0zM418.23 145.87a1.75 1.75 0 1 0 0.01 0zM419.75 144.98a1.75 1.75 0 1 0 0.01 0zM421.26 143.15a1.75 1.75 0 1 0 0.01 0zM422.77 142.79a1.75 1.75 0 1 0 0.01 0zM424.28 141.18a1.75 1.75 0 1 0 0.01 0zM425.80 137.12a1.75 1.75 0 1 0 0.01 0zM427.31 138.13a1.75 1.75 0 1 0 0.01 0zM428.82 134.69a1.75 1.75 0 1 0 0.01 0zM430.33 132.76a1.75 1.75 0 1 0 0.01 0zM431.85 126.85a1.75 1.75 0 1 0 0.01 0zM433.36 128.84a1.75 1.75 0 1 0 0.01 0zM434.87 124.01a1.75 1.75 0 1 0 0.01 0zM436.38 120.72a1.75 1.75 0 1 0 0.01 0zM437.89 115.80a1.75 1.75 0 1 0 0.01 0zM439.41 112.90a1.75 1.75 0 1 0 0.01 0zM440.92 108.79a1.75 1.75 0 1 0 0.01 0zM442.43 110.52a1.75 1.75 0 1 0 0.01 0zM443.94 103.98a1.75 1.75 0 1 0 0.01 0zM445.46 103.29a1.75 1.75 0 1 0 0.01 0zM446.97 102.26a1.75 1.75 0 1 0 0.01 0zM448.48 99.25a1.75 1.75 0 1 0 0.01 0z" fill="#1f77b4"/>
<path d="M268.50 95.17V99.32M270.01 98.68V102.77M271.52 99.22V103.31M273.04 97.92V102.03M274.55 94.81V98.97M276.06 102.08V106.12M277.57 96.78V100.91M279.09 102.21V106.25M280.60 103.72V107.74M282.11 97.64V101.75M283.62 100.22V104.29M285.14 102.11V106.15M286.65 98.49V102.59M288.16 93.90V98.07M289.68 91.93V96.13M291.19 94.76V98.92M292.70 91.31V95.52M294.21 89.03V93.28M295.73 90.79V95.01M297.24 86.17V90.46M298.75 84.50V88.81M300.26 82.69V87.03M301.77 79.20V83.59M303.29 74.29V78.76M304.80 71.17V75.68M306.31 69.73V74.26M307.82 66.25V70.83M309.34 58.87V63.55M310.85 58.39V63.08M312.36 53.61V58.36M313.88 50.08V54.88M315.39 49.44V54.25M316.90 42.16V47.07M318.41 48.62V53.44M319.93 40.85V45.78M321.44 40.19V45.13M322.95 29.12V34.19M324.46 25.70V30.82M325.98 34.48V39.49M327.49 29.62V34.69M329.00 23.01V28.16M330.51 21.09V26.27M332.02 19.57V24.77M333.54 20.11V25.30M335.05 16.42V21.66M336.56 14.04V19.30M338.07 15.20V20.45M339.59 11.06V16.36M341.10 20.94V26.11M342.61 11.24V16.54M344.12 16.15V21.39M345.64 9.51V14.83M347.15 13.13V18.41M348.66 15.21V20.46M350.18 11.34V16.64M351.69 15.78V21.02M353.20 16.27V21.51M354.71 18.98V24.18M356.23 15.66V20.91M357.74 17.20V22.42M359.25 19.42V24.61M360.76 26.61V31.71M362.27 26.97V32.07M363.79 34.46V39.47M365.30 38.11V43.07M366.81 36.93V41.90M368.32 32.55V37.58M369.84 38.42V43.37M371.35 43.63V48.52M372.86 49.06V53.87M374.38 51.65V56.43M375.89 56.89V61.60M377.40 53.53V58.29M378.91 59.97V64.64M380.43 60.63V65.29M381.94 68.81V73.36M383.45 70.88V75.39M384.96 75.67V80.11M386.48 82.58V86.93M387.99 80.87V85.24M389.50 89.66V93.90M391.01 90.63V94.85M392.52 97.01V101.13M394.04 104.90V108.89M395.55 107.55V111.51M397.06 108.53V112.47M398.57 112.26V116.13M400.09 115.35V119.18M401.60 119.76V123.51M403.11 127.20V130.82M404.62 127.57V131.18M406.14 135.10V138.57M407.65 132.32V135.84M409.16 137.25V140.68M410.68 139.47V142.86M412.19 140.18V143.57M413.70 140.33V143.71M415.21 144.80V148.09M416.73 146.27V149.54M418.24 145.50V148.78M419.75 147.73V150.97M421.26 145.27V148.55M422.77 138.97V142.38M424.29 142.68V146.01M425.80 137.25V140.69M427.31 139.57V142.96M428.82 133.95V137.45M430.34 132.80V136.32M431.85 129.57V133.15M433.36 125.44V129.09M434.88 120.01V123.75M436.39 120.49V124.23M437.90 117.60V121.39M439.41 117.21V121.00M440.93 110.80V114.71M442.44 109.88V113.80M443.95 104.56V108.56M445.46 104.32V108.32M446.98 98.28V102.38M448.49 106.27V110.24" stroke="#ff7f0e" stroke-width="1.50" stroke-opacity="0.60" fill="none"/>
<path d="M266.95 95.94l3.10 2.60M266.95 98.54l3.10 -2.60M268.46 99.43l3.10 2.60M268.46 102.03l3.10 -2.60M269.97 99.97l3.10 2.60M269.97 102.57l3.10 -2.60M271.49 98.67l3.10 2.60M271.49 101.27l3.10 -2.60M273.00 95.59l3.10 2.60M273.00 98.19l3.10 -2.60M274.51 102.80l3.10 2.60M274.51 105.40l3.10 -2.60M276.02 97.54l3.10 2.60M276.02 100.14l3.10 -2.60M277.54 102.93l3.10 2.60M277.54 105.53l3.10 -2.60M279.05 104.43l3.10 2.60M279.05 107.03l3.10 -2.60M280.56 98.40l3.10 2.60M280.56 101.00l3.10 -2.60M282.07 100.96l3.10 2.60M282.07 103.56l3.10 -2.60M283.59 102.83l3.10 2.60M283.59 105.43l3.10 -2.60M285.10 99.24l3.10 2.60M285.10 101.84l3.10 -2.60M286.61 94.69l3.10 2.60M286.61 97.29l3.10 -2.60M288.12 92.73l3.10 2.60M288.12 95.33l3.10 -2.60M289.64 95.54l3.10 2.60M289.64 98.14l3.10 -2.60M291.15 92.12l3.10 2.60M291.15 94.72l3.10 -2.60M292.66 89.85l3.10 2.60M292.66 92.45l3.10 -2.60M294.18 91.60l3.10 2.60M294.18 94.20l3.10 -2.60M295.69 87.02l3.10 2.60M295.69 89.62l3.10 -2.60M297.20 85.36l3.10 2.60M297.20 87.96l3.10 -2.60M298.71 83.56l3.10 2.60M298.71 86.16l3.10 -2.60M300.22 80.10l3.10 2.60M300.22 82.70l3.10 -2.60M301.74 75.23l3.10 2.60M301.74 77.83l3.10 -2.60M303.25 72.13l3.10 2.60M303.25 74.73l3.10 -2.60M304.76 70.69l3.10 2.60M304.76 73.29l3.10 -2.60M306.27 67.24l3.10 2.60M306.27 69.84l3.10 -2.60M307.79 59.91l3.10 2.60M307.79 62.51l3.10 -2.60M309.30 59.43l3.10 2.60M309.30 62.03l3.10 -2.60M310.81 54.69l3.10 2.60M310.81 57.29l3.10 -2.60M312.32 51.18l3.10 2.60M312.32 53.78l3.10 -2.60M313.84 50.55l3.10 2.60M313.84 53.15l3.10 -2.60M315.35 43.31l3.10 2.60M315.35 45.91l3.10 -2.60M316.86 49.73l3.10 2.60M316.86 52.33l3.10 -2.60M318.38 42.02l3.10 2.60M318.38 44.62l3.10 -2.60M319.89 41.36l3.10 2.60M319.89 43.96l3.10 -2.60M321.40 30.35l3.10 2.60M321.40 32.95l3.10 -2.60M322.91 26.96l3.10 2.60M322.91 29.56l3.10 -2.60M324.43 35.68l3.10 2.60M324.43 38.28l3.10 -2.60M325.94 30.86l3.10 2.60M325.94 33.46l3.10 -2.60M327.45 24.28l3.10 2.60M327.45 26.88l3.10 -2.60M328.96 22.38l3.10 2.60M328.96 24.98l3.10 -2.60M330.47 20.87l3.10 2.60M330.47 23.47l3.10 -2.60M331.99 21.40l3.10 2.60M331.99 24.00l3.10 -2.60M333.50 17.74l3.10 2.60M333.50 20.34l3.10 -2.60M335.01 15.37l3.10 2.60M335.01 17.97l3.10 -2.60M336.52 16.52l3.10 2.60M336.52 19.12l3.10 -2.60M338.04 12.41l3.10 2.60M338.04 15.01l3.10 -2.60M339.55 22.22l3.10 2.60M339.55 24.82l3.10 -2.60M341.06 12.59l3.10 2.60M341.06 15.19l3.10 -2.60M342.57 17.47l3.10 2.60M342.57 20.07l3.10 -2.60M344.09 10.87l3.10 2.60M344.09 13.47l3.10 -2.60M345.60 14.47l3.10 2.60M345.60 17.07l3.10 -2.60M347.11 16.53l3.10 2.60M347.11 19.13l3.10 -2.60M348.62 12.69l3.10 2.60M348.62 15.29l3.10 -2.60M350.14 17.10l3.10 2.60M350.14 19.70l3.10 -2.60M351.65 17.59l3.10 2.60M351.65 20.19l3.10 -2.60M353.16 20.28l3.10 2.60M353.16 22.88l3.10 -2.60M354.68 16.99l3.10 2.60M354.68 19.59l3.10 -2.60M356.19 18.51l3.10 2.60M356.19 21.11l3.10 -2.60M357.70 20.72l3.10 2.60M357.70 23.32l3.10 -2.60M359.21 27.86l3.10 2.60M359.21 30.46l3.10 -2.60M360.72 28.22l3.10 2.60M360.72 30.82l3.10 -2.60M362.24 35.66l3.10 2.60M362.24 38.26l3.10 -2.60M363.75 39.29l3.10 2.60M363.75 41.89l3.10 -2.60M365.26 38.12l3.10 2.60M365.26 40.72l3.10 -2.60M366.77 33.76l3.10 2.60M366.77 36.36l3.10 -2.60M368.29 39.60l3.10 2.60M368.29 42.20l3.10 -2.60M369.80 44.77l3.10 2.60M369.80 47.37l3.10 -2.60M371.31 50.17l3.10 2.60M371.31 52.77l3.10 -2.60M372.82 52.74l3.10 2.60M372.82 55.34l3.10 -2.60M374.34 57.94l3.10 2.60M374.34 60.54l3.10 -2.60M375.85 54.61l3.10 2.60M375.85 57.21l3.10 -2.60M377.36 61.00l3.10 2.60M377.36 63.60l3.10 -2.60M378.88 61.66l3.10 2.60M378.88 64.26l3.10 -2.60M380.39 69.79l3.10 2.60M380.39 72.39l3.10 -2.60M381.90 71.83l3.10 2.60M381.90 74.43l3.10 -2.60M383.41 76.59l3.10 2.60M383.41 79.19l3.10 -2.60M384.93 83.46l3.10 2.60M384.93 86.06l3.10 -2.60M386.44 81.75l3.10 2.60M386.44 84.35l3.10 -2.60M387.95 90.48l3.10 2.60M387.95 93.08l3.10 -2.60M389.46 91.44l3.10 2.60M389.46 94.04l3.10 -2.60M390.97 97.77l3.10 2.60M390.97 100.37l3.10 -2.60M392.49 105.59l3.10 2.60M392.49 108.19l3.10 -2.60M394.00 108.23l3.10 2.60M394.00 110.83l3.10 -2.60M395.51 109.20l3.10 2.60M395.51 111.80l3.10 -2.60M397.02 112.90l3.10 2.60M397.02 115.50l3.10 -2.60M398.54 115.96l3.10 2.60M398.54 118.56l3.10 -2.60M400.05 120.34l3.10 2.60M400.05 122.94l3.10 -2.60M401.56 127.71l3.10 2.60M401.56 130.31l3.10 -2.60M403.07 128.07l3.10 2.60M403.07 130.67l3.10 -2.60M404.59 135.54l3.10 2.60M404.59 138.14l3.10 -2.60M406.10 132.78l3.10 2.60M406.10 135.38l3.10 -2.60M407.61 137.66l3.10 2.60M407.61 140.26l3.10 -2.60M409.12 139.87l3.10 2.60M409.12 142.47l3.10 -2.60M410.64 140.58l3.10 2.60M410.64 143.18l3.10 -2.60M412.15 140.72l3.10 2.60M412.15 143.32l3.10 -2.60M413.66 145.14l3.10 2.60M413.66 147.74l3.10 -2.60M415.18 146.61l3.10 2.60M415.18 149.21l3.10 -2.60M416.69 145.84l3.10 2.60M416.69 148.44l3.10 -2.60M418.20 148.05l3.10 2.60M418.20 150.65l3.10 -2.60M419.71 145.61l3.10 2.60M419.71 148.21l3.10 -2.60M421.22 139.37l3.10 2.60M421.22 141.97l3.10 -2.60M422.74 143.05l3.10 2.60M422.74 145.65l3.10 -2.60M424.25 137.67l3.10 2.60M424.25 140.27l3.10 -2.60M425.76 139.97l3.10 2.60M425.76 142.57l3.10 -2.60M427.27 134.40l3.10 2.60M427.27 137.00l3.10 -2.60M428.79 133.26l3.10 2.60M428.79 135.86l3.10 -2.60M430.30 130.06l3.10 2.60M430.30 132.66l3.10 -2.60M431.81 125.97l3.10 2.60M431.81 128.57l3.10 -2.60M433.32 120.58l3.10 2.60M433.32 123.18l3.10 -2.60M434.84 121.06l3.10 2.60M434.84 123.66l3.10 -2.60M436.35 118.19l3.10 2.60M436.35 120.79l3.10 -2.60M437.86 117.81l3.10 2.60M437.86 120.41l3.10 -2.60M439.38 111.45l3.10 2.60M439.38 114.05l3.10 -2.60M440.89 110.54l3.10 2.60M440.89 113.14l3.10 -2.60M442.40 105.26l3.10 2.60M442.40 107.86l3.10 -2.60M443.91 105.02l3.10 2.60M443.91 107.62l3.10 -2.60M445.43 99.03l3.10 2.60M445.43 101.63l3.10 -2.60M446.94 106.96l3.10 2.60M446.94 109.56l3.10 -2.60" stroke="#ff7f0e" stroke-width="1.15" fill="none"/>
</g>
<clipPath id="rb"><rect x="268.50" y="163.60" width="181.50" height="76.50"/></clipPath>
<g clip-path="url(#rb)">
<path d="M268.50 229.92H450.00" stroke="#000" stroke-width="0.9" stroke-dasharray="3.4 1.5" fill="none"/>
<path d="M268.50 173.08H450.00" stroke="#000" stroke-width="0.9" stroke-dasharray="3.4 1.5" fill="none"/>
<path d="M268.50 201.50H450.00" stroke="#000" stroke-width="1.0" fill="none"/>
<path d="M269.36 194.91V209.83M270.72 193.84V202.76M272.07 196.37V211.08M273.43 190.77V203.11M275.47 201.12V214.48M277.50 187.60V203.56M278.86 182.84V200.18M280.90 194.63V212.83M282.25 207.82V221.36M283.20 200.69V218.98M284.97 172.44V191.57M286.33 192.87V211.87M288.36 176.16V196.00M289.72 180.08V194.79M291.08 170.62V185.24M292.71 182.53V200.49M293.79 192.98V203.61M295.15 178.13V194.03M296.51 178.69V192.11M298.14 187.24V201.21M299.90 188.18V197.56M301.26 186.76V198.98M303.03 173.08V188.21M303.98 166.13V184.30M306.01 184.97V203.48M308.05 194.90V209.84M308.73 195.09V209.65M310.76 162.22V174.64M312.80 185.95V202.50M314.16 193.83V208.20M316.19 184.25V201.48M317.55 178.27V199.32M318.91 185.32V200.41M320.27 191.84V202.04M320.95 194.85V207.17M322.98 179.56V189.88M324.34 200.84V212.04M326.10 183.08V202.65M327.73 198.46V214.42M329.09 190.52V200.64M330.45 181.46V198.84M331.81 187.23V206.65M333.57 200.80V214.80M334.93 184.36V197.30M336.56 193.98V208.05M338.59 187.51V203.66M339.95 185.55V202.89M341.31 182.61V201.76M342.67 188.67V207.92M344.02 191.43V210.59M345.65 197.92V217.68M347.42 173.98V191.39M348.78 183.75V193.83M350.13 188.20V202.96M351.49 188.81V205.06M352.85 184.55V198.47M354.21 175.60V193.85M356.24 180.44V194.43M358.28 186.81V198.92M360.72 203.89V223.92M362.75 197.73V215.16M364.11 203.91V219.84M365.47 208.15V226.45M366.82 207.93V226.68M368.86 198.95V215.29M370.22 198.88V205.86M371.30 202.69V215.63M372.93 214.54V228.21M374.56 200.49V212.40M375.92 194.44V210.30M377.28 186.67V205.85M379.04 203.73V217.30M380.40 198.03V209.43M382.17 207.67V229.65M383.79 202.31V216.00M385.15 202.26V213.34M386.51 197.09V213.08M387.87 208.99V225.62M389.63 201.38V214.22M391.26 205.67V223.51M393.03 211.88V225.45M393.98 213.28V225.40M396.01 197.19V212.98M397.37 204.34V222.12M398.73 214.84V227.92M400.09 203.72V220.03M402.12 192.21V207.10M403.48 183.26V207.90M404.84 208.17V221.00M406.19 192.46V212.28M407.96 224.72V239.75M409.32 180.05V194.82M410.95 201.71V219.32M412.30 186.49V204.68M413.66 198.08V217.52M415.02 198.29V214.59M416.65 178.13V191.32M418.41 195.67V209.07M419.77 197.99V214.89M421.54 204.66V221.80M422.89 203.29V223.17M424.79 195.43V212.03M425.88 199.79V218.53M427.51 204.45V224.72M428.59 205.36V221.11M429.95 204.04V214.27M431.31 198.10V209.36M432.67 197.17V207.57M434.02 196.18V216.70M435.38 197.54V209.91M436.74 227.33V246.65M438.10 206.01V223.17M439.46 193.26V214.20M440.81 208.03V226.58M442.17 209.87V224.73M443.53 210.04V224.57M445.56 205.49V220.97M447.19 188.37V204.15M448.69 216.02V229.45" stroke="#000" stroke-width="1.2" stroke-opacity="0.8" fill="none"/>
<path d="M269.35 202.37a1.05 1.05 0 1 0 0.01 0zM270.71 198.30a1.05 1.05 0 1 0 0.01 0zM272.07 203.73a1.05 1.05 0 1 0 0.01 0zM273.43 196.94a1.05 1.05 0 1 0 0.01 0zM275.46 207.80a1.05 1.05 0 1 0 0.01 0zM277.50 195.58a1.05 1.05 0 1 0 0.01 0zM278.86 191.51a1.05 1.05 0 1 0 0.01 0zM280.89 203.73a1.05 1.05 0 1 0 0.01 0zM282.25 214.59a1.05 1.05 0 1 0 0.01 0zM283.20 209.84a1.05 1.05 0 1 0 0.01 0zM284.96 182.01a1.05 1.05 0 1 0 0.01 0zM286.32 202.37a1.05 1.05 0 1 0 0.01 0zM288.36 186.08a1.05 1.05 0 1 0 0.01 0zM289.72 187.44a1.05 1.05 0 1 0 0.01 0zM291.07 177.93a1.05 1.05 0 1 0 0.01 0zM292.70 191.51a1.05 1.05 0 1 0 0.01 0zM293.79 198.30a1.05 1.05 0 1 0 0.01 0zM295.15 186.08a1.05 1.05 0 1 0 0.01 0zM296.50 185.40a1.05 1.05 0 1 0 0.01 0zM298.13 194.22a1.05 1.05 0 1 0 0.01 0zM299.90 192.87a1.05 1.05 0 1 0 0.01 0zM301.26 192.87a1.05 1.05 0 1 0 0.01 0zM303.02 180.65a1.05 1.05 0 1 0 0.01 0zM303.97 175.22a1.05 1.05 0 1 0 0.01 0zM306.01 194.22a1.05 1.05 0 1 0 0.01 0zM308.04 202.37a1.05 1.05 0 1 0 0.01 0zM308.72 202.37a1.05 1.05 0 1 0 0.01 0zM310.76 168.43a1.05 1.05 0 1 0 0.01 0zM312.80 194.22a1.05 1.05 0 1 0 0.01 0zM314.15 201.01a1.05 1.05 0 1 0 0.01 0zM316.19 192.87a1.05 1.05 0 1 0 0.01 0zM317.55 188.79a1.05 1.05 0 1 0 0.01 0zM318.90 192.87a1.05 1.05 0 1 0 0.01 0zM320.26 196.94a1.05 1.05 0 1 0 0.01 0zM320.94 201.01a1.05 1.05 0 1 0 0.01 0zM322.98 184.72a1.05 1.05 0 1 0 0.01 0zM324.33 206.44a1.05 1.05 0 1 0 0.01 0zM326.10 192.87a1.05 1.05 0 1 0 0.01 0zM327.73 206.44a1.05 1.05 0 1 0 0.01 0zM329.09 195.58a1.05 1.05 0 1 0 0.01 0zM330.44 190.15a1.05 1.05 0 1 0 0.01 0zM331.80 196.94a1.05 1.05 0 1 0 0.01 0zM333.57 207.80a1.05 1.05 0 1 0 0.01 0zM334.92 190.83a1.05 1.05 0 1 0 0.01 0zM336.55 201.01a1.05 1.05 0 1 0 0.01 0zM338.59 195.58a1.05 1.05 0 1 0 0.01 0zM339.95 194.22a1.05 1.05 0 1 0 0.01 0zM341.30 192.19a1.05 1.05 0 1 0 0.01 0zM342.66 198.30a1.05 1.05 0 1 0 0.01 0zM344.02 201.01a1.05 1.05 0 1 0 0.01 0zM345.65 207.80a1.05 1.05 0 1 0 0.01 0zM347.41 182.69a1.05 1.05 0 1 0 0.01 0zM348.77 188.79a1.05 1.05 0 1 0 0.01 0zM350.13 195.58a1.05 1.05 0 1 0 0.01 0zM351.49 196.94a1.05 1.05 0 1 0 0.01 0zM352.84 191.51a1.05 1.05 0 1 0 0.01 0zM354.20 184.72a1.05 1.05 0 1 0 0.01 0zM356.24 187.44a1.05 1.05 0 1 0 0.01 0zM358.27 192.87a1.05 1.05 0 1 0 0.01 0zM360.71 213.91a1.05 1.05 0 1 0 0.01 0zM362.75 206.44a1.05 1.05 0 1 0 0.01 0zM364.10 211.87a1.05 1.05 0 1 0 0.01 0zM365.46 217.30a1.05 1.05 0 1 0 0.01 0zM366.82 217.30a1.05 1.05 0 1 0 0.01 0zM368.86 207.12a1.05 1.05 0 1 0 0.01 0zM370.21 202.37a1.05 1.05 0 1 0 0.01 0zM371.30 209.16a1.05 1.05 0 1 0 0.01 0zM372.93 221.38a1.05 1.05 0 1 0 0.01 0zM374.56 206.44a1.05 1.05 0 1 0 0.01 0zM375.92 202.37a1.05 1.05 0 1 0 0.01 0zM377.27 196.26a1.05 1.05 0 1 0 0.01 0zM379.04 210.52a1.05 1.05 0 1 0 0.01 0zM380.40 203.73a1.05 1.05 0 1 0 0.01 0zM382.16 218.66a1.05 1.05 0 1 0 0.01 0zM383.79 209.16a1.05 1.05 0 1 0 0.01 0zM385.15 207.80a1.05 1.05 0 1 0 0.01 0zM386.50 205.09a1.05 1.05 0 1 0 0.01 0zM387.86 217.30a1.05 1.05 0 1 0 0.01 0zM389.63 207.80a1.05 1.05 0 1 0 0.01 0zM391.26 214.59a1.05 1.05 0 1 0 0.01 0zM393.02 218.66a1.05 1.05 0 1 0 0.01 0zM393.97 219.34a1.05 1.05 0 1 0 0.01 0zM396.01 205.09a1.05 1.05 0 1 0 0.01 0zM397.37 213.23a1.05 1.05 0 1 0 0.01 0zM398.72 221.38a1.05 1.05 0 1 0 0.01 0zM400.08 211.87a1.05 1.05 0 1 0 0.01 0zM402.12 199.65a1.05 1.05 0 1 0 0.01 0zM403.47 195.58a1.05 1.05 0 1 0 0.01 0zM404.83 214.59a1.05 1.05 0 1 0 0.01 0zM406.19 202.37a1.05 1.05 0 1 0 0.01 0zM407.95 232.24a1.05 1.05 0 1 0 0.01 0zM409.31 187.44a1.05 1.05 0 1 0 0.01 0zM410.94 210.52a1.05 1.05 0 1 0 0.01 0zM412.30 195.58a1.05 1.05 0 1 0 0.01 0zM413.66 207.80a1.05 1.05 0 1 0 0.01 0zM415.01 206.44a1.05 1.05 0 1 0 0.01 0zM416.64 184.72a1.05 1.05 0 1 0 0.01 0zM418.41 202.37a1.05 1.05 0 1 0 0.01 0zM419.77 206.44a1.05 1.05 0 1 0 0.01 0zM421.53 213.23a1.05 1.05 0 1 0 0.01 0zM422.89 213.23a1.05 1.05 0 1 0 0.01 0zM424.79 203.73a1.05 1.05 0 1 0 0.01 0zM425.87 209.16a1.05 1.05 0 1 0 0.01 0zM427.50 214.59a1.05 1.05 0 1 0 0.01 0zM428.59 213.23a1.05 1.05 0 1 0 0.01 0zM429.95 209.16a1.05 1.05 0 1 0 0.01 0zM431.30 203.73a1.05 1.05 0 1 0 0.01 0zM432.66 202.37a1.05 1.05 0 1 0 0.01 0zM434.02 206.44a1.05 1.05 0 1 0 0.01 0zM435.38 203.73a1.05 1.05 0 1 0 0.01 0zM436.74 236.99a1.05 1.05 0 1 0 0.01 0zM438.09 214.59a1.05 1.05 0 1 0 0.01 0zM439.45 203.73a1.05 1.05 0 1 0 0.01 0zM440.81 217.30a1.05 1.05 0 1 0 0.01 0zM442.17 217.30a1.05 1.05 0 1 0 0.01 0zM443.52 217.30a1.05 1.05 0 1 0 0.01 0zM445.56 213.23a1.05 1.05 0 1 0 0.01 0zM447.19 196.26a1.05 1.05 0 1 0 0.01 0zM448.68 222.73a1.05 1.05 0 1 0 0.01 0z" fill="#000"/>
</g>
<rect x="268.50" y="2.50" width="181.50" height="153.00" fill="none" stroke="#000" stroke-width="0.95"/>
<rect x="268.50" y="163.60" width="181.50" height="76.50" fill="none" stroke="#000" stroke-width="0.95"/>
<path d="M268.50 155.50v2.1M268.50 240.10v2.1M298.75 155.50v2.1M298.75 240.10v2.1M329.00 155.50v2.1M329.00 240.10v2.1M359.25 155.50v2.1M359.25 240.10v2.1M389.50 155.50v2.1M389.50 240.10v2.1M419.75 155.50v2.1M419.75 240.10v2.1M450.00 155.50v2.1M450.00 240.10v2.1M268.50 132.30h-2.1M268.50 99.80h-2.1M268.50 67.30h-2.1M268.50 34.80h-2.1M268.50 2.30h-2.1M268.50 231.90h-2.1M268.50 216.70h-2.1M268.50 201.50h-2.1M268.50 186.30h-2.1M268.50 171.10h-2.1" stroke="#000" stroke-width="0.8" fill="none"/>
<rect x="374.20" y="6.30" width="71.60" height="26.70" rx="1.6" fill="#fff" fill-opacity="0.85" stroke="#d6d6d6" stroke-width="0.8"/>
<path d="M385.60 8.50V17.30" stroke="#1f77b4" stroke-width="1.50" stroke-opacity="0.60"/>
<circle cx="385.60" cy="12.90" r="1.75" fill="#1f77b4"/>
<path d="M385.60 20.50V29.30" stroke="#ff7f0e" stroke-width="1.50" stroke-opacity="0.60"/>
<path d="M384.05 23.60l3.10 2.60M384.05 26.20l3.10 -2.60" stroke="#ff7f0e" stroke-width="1.15"/>
<clipPath id="cc"><rect x="493.00" y="0.40" width="186.00" height="153.20"/></clipPath>
<g clip-path="url(#cc)">
<path d="M493.00 100.38V105.32M494.55 95.15V100.19M496.10 100.35V105.29M497.65 95.51V100.55M499.20 97.78V102.77M500.75 96.04V101.07M502.30 95.44V100.48M503.85 97.89V102.88M505.40 96.54V101.55M506.95 101.56V106.48M508.50 96.37V101.39M510.05 99.99V104.94M511.60 97.64V102.64M513.15 98.51V103.49M514.70 103.36V108.24M516.25 98.29V103.27M517.80 94.53V99.59M519.35 89.75V94.90M520.90 89.18V94.34M522.45 85.84V91.06M524.00 86.67V91.87M525.55 78.13V83.49M527.10 74.77V80.20M528.65 75.77V81.18M530.20 73.14V78.59M531.75 73.10V78.56M533.30 64.78V70.38M534.85 58.50V64.21M536.40 60.67V66.34M537.95 56.00V61.75M539.50 53.10V58.91M541.05 52.18V58.00M542.60 42.15V48.13M544.15 43.92V49.87M545.70 37.96V44.01M547.25 34.57V40.67M548.80 31.45V37.61M550.35 30.86V37.03M551.90 28.24V34.44M553.45 26.99V33.22M555.00 24.19V30.46M556.55 18.05V24.42M558.10 19.48V25.82M559.65 20.78V27.11M561.20 20.51V26.83M562.75 18.26V24.62M564.30 21.31V27.62M565.85 19.32V25.67M567.40 19.21V25.56M568.95 13.53V19.97M570.50 11.49V17.95M572.05 5.29V11.84M573.60 12.65V19.10M575.15 9.73V16.22M576.70 6.06V12.60M578.25 10.28V16.77M579.80 12.21V18.67M581.35 8.58V15.09M582.90 15.68V22.08M584.45 19.85V26.18M586.00 22.48V28.77M587.55 20.55V26.88M589.10 22.99V29.28M590.65 29.83V36.01M592.20 32.05V38.20M593.75 32.33V38.47M595.30 36.31V42.39M596.85 42.56V48.53M598.40 42.18V48.16M599.95 44.71V50.65M601.50 52.67V58.47M603.05 51.75V57.57M604.60 52.91V58.71M606.15 58.25V63.96M607.70 65.22V70.81M609.25 64.99V70.59M610.80 67.35V72.91M612.35 70.36V75.86M613.90 83.15V88.42M615.45 77.44V82.82M617.00 89.87V95.01M618.55 89.79V94.93M620.10 93.17V98.25M621.65 97.40V102.40M623.20 102.72V107.61M624.75 109.01V113.78M626.30 109.65V114.41M627.85 116.20V120.82M629.40 122.76V127.24M630.95 115.39V120.03M632.50 121.40V125.91M634.05 121.34V125.85M635.60 128.09V132.45M637.15 125.83V130.24M638.70 127.68V132.05M640.25 129.74V134.06M641.80 134.19V138.41M643.35 137.53V141.68M644.90 136.90V141.06M646.45 141.34V145.39M648.00 141.32V145.37M649.55 138.81V142.93M651.10 140.53V144.61M652.65 138.12V142.26M654.20 136.32V140.49M655.75 130.81V135.11M657.30 129.90V134.22M658.85 130.39V134.70M660.40 126.24V130.65M661.95 127.67V132.04M663.50 124.61V129.05M665.05 119.84V124.38M666.60 120.82V125.34M668.15 115.77V120.40M669.70 114.46V119.12M671.25 108.65V113.43M672.80 102.97V107.86M674.35 105.05V109.90M675.90 100.67V105.61M677.45 100.62V105.56" stroke="#1f77b4" stroke-width="1.50" stroke-opacity="0.60" fill="none"/>
<path d="M493.00 102.85a1.75 1.75 0 1 0 0.01 0zM494.55 97.67a1.75 1.75 0 1 0 0.01 0zM496.10 102.82a1.75 1.75 0 1 0 0.01 0zM497.64 98.03a1.75 1.75 0 1 0 0.01 0zM499.19 100.28a1.75 1.75 0 1 0 0.01 0zM500.75 98.55a1.75 1.75 0 1 0 0.01 0zM502.30 97.96a1.75 1.75 0 1 0 0.01 0zM503.85 100.38a1.75 1.75 0 1 0 0.01 0zM505.39 99.05a1.75 1.75 0 1 0 0.01 0zM506.94 104.02a1.75 1.75 0 1 0 0.01 0zM508.50 98.88a1.75 1.75 0 1 0 0.01 0zM510.05 102.47a1.75 1.75 0 1 0 0.01 0zM511.60 100.14a1.75 1.75 0 1 0 0.01 0zM513.14 101.00a1.75 1.75 0 1 0 0.01 0zM514.70 105.80a1.75 1.75 0 1 0 0.01 0zM516.25 100.78a1.75 1.75 0 1 0 0.01 0zM517.79 97.06a1.75 1.75 0 1 0 0.01 0zM519.35 92.32a1.75 1.75 0 1 0 0.01 0zM520.89 91.76a1.75 1.75 0 1 0 0.01 0zM522.45 88.45a1.75 1.75 0 1 0 0.01 0zM524.00 89.27a1.75 1.75 0 1 0 0.01 0zM525.54 80.81a1.75 1.75 0 1 0 0.01 0zM527.10 77.49a1.75 1.75 0 1 0 0.01 0zM528.64 78.47a1.75 1.75 0 1 0 0.01 0zM530.20 75.86a1.75 1.75 0 1 0 0.01 0zM531.75 75.83a1.75 1.75 0 1 0 0.01 0zM533.29 67.58a1.75 1.75 0 1 0 0.01 0zM534.85 61.35a1.75 1.75 0 1 0 0.01 0zM536.39 63.51a1.75 1.75 0 1 0 0.01 0zM537.95 58.88a1.75 1.75 0 1 0 0.01 0zM539.50 56.01a1.75 1.75 0 1 0 0.01 0zM541.04 55.09a1.75 1.75 0 1 0 0.01 0zM542.60 45.14a1.75 1.75 0 1 0 0.01 0zM544.14 46.90a1.75 1.75 0 1 0 0.01 0zM545.70 40.98a1.75 1.75 0 1 0 0.01 0zM547.25 37.62a1.75 1.75 0 1 0 0.01 0zM548.79 34.53a1.75 1.75 0 1 0 0.01 0zM550.35 33.95a1.75 1.75 0 1 0 0.01 0zM551.89 31.34a1.75 1.75 0 1 0 0.01 0zM553.45 30.11a1.75 1.75 0 1 0 0.01 0zM555.00 27.32a1.75 1.75 0 1 0 0.01 0zM556.54 21.24a1.75 1.75 0 1 0 0.01 0zM558.10 22.65a1.75 1.75 0 1 0 0.01 0zM559.64 23.94a1.75 1.75 0 1 0 0.01 0zM561.20 23.67a1.75 1.75 0 1 0 0.01 0zM562.75 21.44a1.75 1.75 0 1 0 0.01 0zM564.29 24.47a1.75 1.75 0 1 0 0.01 0zM565.85 22.50a1.75 1.75 0 1 0 0.01 0zM567.39 22.38a1.75 1.75 0 1 0 0.01 0zM568.95 16.75a1.75 1.75 0 1 0 0.01 0zM570.50 14.72a1.75 1.75 0 1 0 0.01 0zM572.04 8.56a1.75 1.75 0 1 0 0.01 0zM573.60 15.88a1.75 1.75 0 1 0 0.01 0zM575.14 12.98a1.75 1.75 0 1 0 0.01 0zM576.70 9.33a1.75 1.75 0 1 0 0.01 0zM578.25 13.52a1.75 1.75 0 1 0 0.01 0zM579.79 15.44a1.75 1.75 0 1 0 0.01 0zM581.35 11.84a1.75 1.75 0 1 0 0.01 0zM582.89 18.88a1.75 1.75 0 1 0 0.01 0zM584.45 23.01a1.75 1.75 0 1 0 0.01 0zM586.00 25.63a1.75 1.75 0 1 0 0.01 0zM587.54 23.72a1.75 1.75 0 1 0 0.01 0zM589.10 26.13a1.75 1.75 0 1 0 0.01 0zM590.64 32.92a1.75 1.75 0 1 0 0.01 0zM592.20 35.12a1.75 1.75 0 1 0 0.01 0zM593.75 35.40a1.75 1.75 0 1 0 0.01 0zM595.29 39.35a1.75 1.75 0 1 0 0.01 0zM596.85 45.55a1.75 1.75 0 1 0 0.01 0zM598.39 45.17a1.75 1.75 0 1 0 0.01 0zM599.95 47.68a1.75 1.75 0 1 0 0.01 0zM601.50 55.57a1.75 1.75 0 1 0 0.01 0zM603.04 54.66a1.75 1.75 0 1 0 0.01 0zM604.60 55.81a1.75 1.75 0 1 0 0.01 0zM606.14 61.11a1.75 1.75 0 1 0 0.01 0zM607.70 68.02a1.75 1.75 0 1 0 0.01 0zM609.25 67.79a1.75 1.75 0 1 0 0.01 0zM610.79 70.13a1.75 1.75 0 1 0 0.01 0zM612.35 73.11a1.75 1.75 0 1 0 0.01 0zM613.89 85.78a1.75 1.75 0 1 0 0.01 0zM615.45 80.13a1.75 1.75 0 1 0 0.01 0zM617.00 92.44a1.75 1.75 0 1 0 0.01 0zM618.54 92.36a1.75 1.75 0 1 0 0.01 0zM620.10 95.71a1.75 1.75 0 1 0 0.01 0zM621.64 99.90a1.75 1.75 0 1 0 0.01 0zM623.20 105.16a1.75 1.75 0 1 0 0.01 0zM624.75 111.39a1.75 1.75 0 1 0 0.01 0zM626.29 112.03a1.75 1.75 0 1 0 0.01 0zM627.85 118.51a1.75 1.75 0 1 0 0.01 0zM629.39 125.00a1.75 1.75 0 1 0 0.01 0zM630.95 117.71a1.75 1.75 0 1 0 0.01 0zM632.50 123.66a1.75 1.75 0 1 0 0.01 0zM634.04 123.59a1.75 1.75 0 1 0 0.01 0zM635.60 130.27a1.75 1.75 0 1 0 0.01 0zM637.14 128.04a1.75 1.75 0 1 0 0.01 0zM638.70 129.87a1.75 1.75 0 1 0 0.01 0zM640.25 131.90a1.75 1.75 0 1 0 0.01 0zM641.79 136.30a1.75 1.75 0 1 0 0.01 0zM643.35 139.61a1.75 1.75 0 1 0 0.01 0zM644.89 138.98a1.75 1.75 0 1 0 0.01 0zM646.45 143.36a1.75 1.75 0 1 0 0.01 0zM648.00 143.35a1.75 1.75 0 1 0 0.01 0zM649.54 140.87a1.75 1.75 0 1 0 0.01 0zM651.10 142.57a1.75 1.75 0 1 0 0.01 0zM652.64 140.19a1.75 1.75 0 1 0 0.01 0zM654.20 138.40a1.75 1.75 0 1 0 0.01 0zM655.75 132.96a1.75 1.75 0 1 0 0.01 0zM657.29 132.06a1.75 1.75 0 1 0 0.01 0zM658.85 132.55a1.75 1.75 0 1 0 0.01 0zM660.39 128.44a1.75 1.75 0 1 0 0.01 0zM661.95 129.85a1.75 1.75 0 1 0 0.01 0zM663.50 126.83a1.75 1.75 0 1 0 0.01 0zM665.04 122.11a1.75 1.75 0 1 0 0.01 0zM666.60 123.08a1.75 1.75 0 1 0 0.01 0zM668.14 118.09a1.75 1.75 0 1 0 0.01 0zM669.70 116.79a1.75 1.75 0 1 0 0.01 0zM671.25 111.04a1.75 1.75 0 1 0 0.01 0zM672.79 105.42a1.75 1.75 0 1 0 0.01 0zM674.35 107.48a1.75 1.75 0 1 0 0.01 0zM675.89 103.14a1.75 1.75 0 1 0 0.01 0zM677.45 103.09a1.75 1.75 0 1 0 0.01 0z" fill="#1f77b4"/>
<path d="M493.00 98.65V103.63M494.55 96.88V101.89M496.10 93.55V98.63M497.65 95.08V100.12M499.20 98.52V103.50M500.75 98.91V103.88M502.30 99.86V104.82M503.85 101.57V106.49M505.40 93.77V98.84M506.95 99.27V104.24M508.50 102.06V106.97M510.05 99.11V104.08M511.60 94.33V99.39M513.15 93.56V98.64M514.70 94.87V99.92M516.25 95.21V100.25M517.80 91.45V96.57M519.35 95.08V100.12M520.90 91.81V96.92M522.45 82.02V87.31M524.00 82.38V87.66M525.55 75.42V80.84M527.10 68.72V74.25M528.65 67.28V72.84M530.20 66.04V71.62M531.75 54.54V60.32M533.30 52.60V58.41M534.85 55.52V61.28M536.40 52.12V57.94M537.95 53.77V59.56M539.50 58.04V63.75M541.05 51.16V56.99M542.60 46.59V52.50M544.15 48.25V54.13M545.70 38.68V44.72M547.25 37.22V43.28M548.80 36.21V42.29M550.35 39.10V45.13M551.90 31.92V38.07M553.45 27.83V34.04M555.00 24.36V30.63M556.55 26.88V33.10M558.10 18.46V24.81M559.65 24.37V30.63M561.20 19.28V25.62M562.75 12.33V18.78M564.30 19.74V26.08M565.85 19.13V25.48M567.40 14.01V20.44M568.95 21.28V27.59M570.50 22.00V28.30M572.05 19.44V25.78M573.60 13.10V19.54M575.15 22.30V28.59M576.70 14.38V20.80M578.25 15.23V21.63M579.80 16.69V23.08M581.35 17.20V23.57M582.90 18.21V24.57M584.45 14.41V20.83M586.00 20.08V26.41M587.55 18.23V24.59M589.10 25.95V32.19M590.65 33.87V39.98M592.20 33.03V39.16M593.75 29.27V35.45M595.30 36.15V42.22M596.85 42.09V48.07M598.40 42.45V48.43M599.95 48.12V54.01M601.50 46.38V52.29M603.05 46.95V52.85M604.60 55.75V61.51M606.15 56.35V62.10M607.70 54.91V60.68M609.25 64.81V70.41M610.80 67.72V73.27M612.35 77.18V82.56M613.90 81.23V86.53M615.45 84.79V90.03M617.00 80.71V86.03M618.55 93.03V98.11M620.10 97.29V102.29M621.65 101.07V106.00M623.20 103.50V108.38M624.75 104.84V109.69M626.30 110.31V115.05M627.85 109.06V113.83M629.40 117.50V122.09M630.95 116.59V121.20M632.50 121.93V126.43M634.05 122.97V127.45M635.60 130.32V134.63M637.15 128.75V133.10M638.70 130.63V134.94M640.25 133.05V137.29M641.80 139.67V143.77M643.35 133.25V137.50M644.90 137.58V141.72M646.45 138.74V142.86M648.00 139.12V143.22M649.55 139.53V143.63M651.10 137.87V142.00M652.65 141.04V145.10M654.20 138.50V142.62M655.75 133.36V137.60M657.30 131.76V136.04M658.85 131.30V135.59M660.40 129.89V134.21M661.95 128.51V132.86M663.50 124.16V128.61M665.05 118.27V122.85M666.60 121.46V125.96M668.15 110.97V115.69M669.70 109.54V114.30M671.25 110.19V114.93M672.80 103.86V108.74M674.35 107.90V112.70M675.90 106.29V111.12M677.45 102.71V107.60" stroke="#ff7f0e" stroke-width="1.50" stroke-opacity="0.60" fill="none"/>
<path d="M491.45 99.84l3.10 2.60M491.45 102.44l3.10 -2.60M493.00 98.08l3.10 2.60M493.00 100.68l3.10 -2.60M494.55 94.79l3.10 2.60M494.55 97.39l3.10 -2.60M496.10 96.30l3.10 2.60M496.10 98.90l3.10 -2.60M497.65 99.71l3.10 2.60M497.65 102.31l3.10 -2.60M499.20 100.09l3.10 2.60M499.20 102.69l3.10 -2.60M500.75 101.04l3.10 2.60M500.75 103.64l3.10 -2.60M502.30 102.73l3.10 2.60M502.30 105.33l3.10 -2.60M503.85 95.01l3.10 2.60M503.85 97.61l3.10 -2.60M505.40 100.45l3.10 2.60M505.40 103.05l3.10 -2.60M506.95 103.22l3.10 2.60M506.95 105.82l3.10 -2.60M508.50 100.29l3.10 2.60M508.50 102.89l3.10 -2.60M510.05 95.56l3.10 2.60M510.05 98.16l3.10 -2.60M511.60 94.80l3.10 2.60M511.60 97.40l3.10 -2.60M513.15 96.09l3.10 2.60M513.15 98.69l3.10 -2.60M514.70 96.43l3.10 2.60M514.70 99.03l3.10 -2.60M516.25 92.71l3.10 2.60M516.25 95.31l3.10 -2.60M517.80 96.30l3.10 2.60M517.80 98.90l3.10 -2.60M519.35 93.06l3.10 2.60M519.35 95.66l3.10 -2.60M520.90 83.36l3.10 2.60M520.90 85.96l3.10 -2.60M522.45 83.72l3.10 2.60M522.45 86.32l3.10 -2.60M524.00 76.83l3.10 2.60M524.00 79.43l3.10 -2.60M525.55 70.18l3.10 2.60M525.55 72.78l3.10 -2.60M527.10 68.76l3.10 2.60M527.10 71.36l3.10 -2.60M528.65 67.53l3.10 2.60M528.65 70.13l3.10 -2.60M530.20 56.13l3.10 2.60M530.20 58.73l3.10 -2.60M531.75 54.21l3.10 2.60M531.75 56.81l3.10 -2.60M533.30 57.10l3.10 2.60M533.30 59.70l3.10 -2.60M534.85 53.73l3.10 2.60M534.85 56.33l3.10 -2.60M536.40 55.37l3.10 2.60M536.40 57.97l3.10 -2.60M537.95 59.59l3.10 2.60M537.95 62.19l3.10 -2.60M539.50 52.77l3.10 2.60M539.50 55.37l3.10 -2.60M541.05 48.25l3.10 2.60M541.05 50.85l3.10 -2.60M542.60 49.89l3.10 2.60M542.60 52.49l3.10 -2.60M544.15 40.40l3.10 2.60M544.15 43.00l3.10 -2.60M545.70 38.95l3.10 2.60M545.70 41.55l3.10 -2.60M547.25 37.95l3.10 2.60M547.25 40.55l3.10 -2.60M548.80 40.81l3.10 2.60M548.80 43.41l3.10 -2.60M550.35 33.69l3.10 2.60M550.35 36.29l3.10 -2.60M551.90 29.63l3.10 2.60M551.90 32.23l3.10 -2.60M553.45 26.20l3.10 2.60M553.45 28.80l3.10 -2.60M555.00 28.69l3.10 2.60M555.00 31.29l3.10 -2.60M556.55 20.33l3.10 2.60M556.55 22.93l3.10 -2.60M558.10 26.20l3.10 2.60M558.10 28.80l3.10 -2.60M559.65 21.15l3.10 2.60M559.65 23.75l3.10 -2.60M561.20 14.25l3.10 2.60M561.20 16.85l3.10 -2.60M562.75 21.61l3.10 2.60M562.75 24.21l3.10 -2.60M564.30 21.01l3.10 2.60M564.30 23.61l3.10 -2.60M565.85 15.92l3.10 2.60M565.85 18.52l3.10 -2.60M567.40 23.14l3.10 2.60M567.40 25.74l3.10 -2.60M568.95 23.85l3.10 2.60M568.95 26.45l3.10 -2.60M570.50 21.31l3.10 2.60M570.50 23.91l3.10 -2.60M572.05 15.02l3.10 2.60M572.05 17.62l3.10 -2.60M573.60 24.15l3.10 2.60M573.60 26.75l3.10 -2.60M575.15 16.29l3.10 2.60M575.15 18.89l3.10 -2.60M576.70 17.13l3.10 2.60M576.70 19.73l3.10 -2.60M578.25 18.59l3.10 2.60M578.25 21.19l3.10 -2.60M579.80 19.08l3.10 2.60M579.80 21.68l3.10 -2.60M581.35 20.09l3.10 2.60M581.35 22.69l3.10 -2.60M582.90 16.32l3.10 2.60M582.90 18.92l3.10 -2.60M584.45 21.95l3.10 2.60M584.45 24.55l3.10 -2.60M586.00 20.11l3.10 2.60M586.00 22.71l3.10 -2.60M587.55 27.77l3.10 2.60M587.55 30.37l3.10 -2.60M589.10 35.63l3.10 2.60M589.10 38.23l3.10 -2.60M590.65 34.80l3.10 2.60M590.65 37.40l3.10 -2.60M592.20 31.06l3.10 2.60M592.20 33.66l3.10 -2.60M593.75 37.88l3.10 2.60M593.75 40.48l3.10 -2.60M595.30 43.78l3.10 2.60M595.30 46.38l3.10 -2.60M596.85 44.14l3.10 2.60M596.85 46.74l3.10 -2.60M598.40 49.77l3.10 2.60M598.40 52.37l3.10 -2.60M599.95 48.03l3.10 2.60M599.95 50.63l3.10 -2.60M601.50 48.60l3.10 2.60M601.50 51.20l3.10 -2.60M603.05 57.33l3.10 2.60M603.05 59.93l3.10 -2.60M604.60 57.92l3.10 2.60M604.60 60.52l3.10 -2.60M606.15 56.49l3.10 2.60M606.15 59.09l3.10 -2.60M607.70 66.31l3.10 2.60M607.70 68.91l3.10 -2.60M609.25 69.20l3.10 2.60M609.25 71.80l3.10 -2.60M610.80 78.57l3.10 2.60M610.80 81.17l3.10 -2.60M612.35 82.58l3.10 2.60M612.35 85.18l3.10 -2.60M613.90 86.11l3.10 2.60M613.90 88.71l3.10 -2.60M615.45 82.07l3.10 2.60M615.45 84.67l3.10 -2.60M617.00 94.27l3.10 2.60M617.00 96.87l3.10 -2.60M618.55 98.49l3.10 2.60M618.55 101.09l3.10 -2.60M620.10 102.23l3.10 2.60M620.10 104.83l3.10 -2.60M621.65 104.64l3.10 2.60M621.65 107.24l3.10 -2.60M623.20 105.96l3.10 2.60M623.20 108.56l3.10 -2.60M624.75 111.38l3.10 2.60M624.75 113.98l3.10 -2.60M626.30 110.15l3.10 2.60M626.30 112.75l3.10 -2.60M627.85 118.49l3.10 2.60M627.85 121.09l3.10 -2.60M629.40 117.60l3.10 2.60M629.40 120.20l3.10 -2.60M630.95 122.88l3.10 2.60M630.95 125.48l3.10 -2.60M632.50 123.91l3.10 2.60M632.50 126.51l3.10 -2.60M634.05 131.17l3.10 2.60M634.05 133.77l3.10 -2.60M635.60 129.62l3.10 2.60M635.60 132.22l3.10 -2.60M637.15 131.48l3.10 2.60M637.15 134.08l3.10 -2.60M638.70 133.87l3.10 2.60M638.70 136.47l3.10 -2.60M640.25 140.42l3.10 2.60M640.25 143.02l3.10 -2.60M641.80 134.07l3.10 2.60M641.80 136.67l3.10 -2.60M643.35 138.35l3.10 2.60M643.35 140.95l3.10 -2.60M644.90 139.50l3.10 2.60M644.90 142.10l3.10 -2.60M646.45 139.87l3.10 2.60M646.45 142.47l3.10 -2.60M648.00 140.28l3.10 2.60M648.00 142.88l3.10 -2.60M649.55 138.64l3.10 2.60M649.55 141.24l3.10 -2.60M651.10 141.77l3.10 2.60M651.10 144.37l3.10 -2.60M652.65 139.26l3.10 2.60M652.65 141.86l3.10 -2.60M654.20 134.18l3.10 2.60M654.20 136.78l3.10 -2.60M655.75 132.60l3.10 2.60M655.75 135.20l3.10 -2.60M657.30 132.15l3.10 2.60M657.30 134.75l3.10 -2.60M658.85 130.75l3.10 2.60M658.85 133.35l3.10 -2.60M660.40 129.38l3.10 2.60M660.40 131.98l3.10 -2.60M661.95 125.09l3.10 2.60M661.95 127.69l3.10 -2.60M663.50 119.26l3.10 2.60M663.50 121.86l3.10 -2.60M665.05 122.41l3.10 2.60M665.05 125.01l3.10 -2.60M666.60 112.03l3.10 2.60M666.60 114.63l3.10 -2.60M668.15 110.62l3.10 2.60M668.15 113.22l3.10 -2.60M669.70 111.26l3.10 2.60M669.70 113.86l3.10 -2.60M671.25 105.00l3.10 2.60M671.25 107.60l3.10 -2.60M672.80 109.00l3.10 2.60M672.80 111.60l3.10 -2.60M674.35 107.41l3.10 2.60M674.35 110.01l3.10 -2.60M675.90 103.85l3.10 2.60M675.90 106.45l3.10 -2.60" stroke="#ff7f0e" stroke-width="1.15" fill="none"/>
</g>
<clipPath id="rc"><rect x="493.00" y="163.50" width="186.00" height="76.50"/></clipPath>
<g clip-path="url(#rc)">
<path d="M493.00 230.76H679.00" stroke="#000" stroke-width="0.9" stroke-dasharray="3.4 1.5" fill="none"/>
<path d="M493.00 172.24H679.00" stroke="#000" stroke-width="0.9" stroke-dasharray="3.4 1.5" fill="none"/>
<path d="M493.00 201.50H679.00" stroke="#000" stroke-width="1.0" fill="none"/>
<path d="M494.10 170.03V190.28M496.02 197.18V211.16M497.80 197.96V211.75M499.59 197.23V213.85M500.96 190.66V206.70M502.33 204.75V217.31M503.98 199.29V217.29M505.63 205.25V214.06M507.00 193.50V207.98M508.78 207.86V222.44M509.88 199.39V214.43M511.53 181.91V198.99M512.90 191.47V203.15M514.27 189.64V207.72M516.33 180.70V196.07M517.70 211.04V224.75M519.35 186.22V197.41M520.86 189.33V201.17M522.50 204.46V221.72M524.29 182.08V194.69M525.66 187.82V204.05M527.31 182.64V202.37M528.68 182.00V201.64M530.05 185.88V207.37M531.84 176.79V191.75M533.48 198.08V210.26M534.86 190.26V209.85M536.64 174.35V191.44M538.01 178.41V198.37M539.66 201.64V217.68M541.03 192.01V212.22M542.68 197.42V216.40M544.46 190.11V208.63M545.83 190.48V208.25M547.62 199.59V216.99M548.99 195.07V211.89M550.64 191.65V208.45M552.01 193.74V213.23M553.38 187.46V201.66M555.03 199.29V221.40M556.40 200.47V216.10M557.77 201.30V220.77M559.56 196.33V212.01M560.93 195.23V210.36M562.30 186.42V209.57M564.09 190.54V205.45M565.46 198.42V209.92M567.10 203.60V217.09M568.48 200.84V215.73M569.85 194.43V218.02M571.50 201.98V218.71M572.87 200.70V219.99M574.24 200.68V213.15M575.61 195.55V212.79M577.40 190.87V209.23M579.18 183.39V205.73M580.83 197.39V210.94M582.47 195.11V213.23M584.26 191.52V208.58M585.69 204.14V216.55M587.47 174.93V190.86M589.12 200.06V215.14M590.49 193.40V201.22M592.14 199.23V217.34M593.51 195.22V213.12M594.88 194.20V208.65M596.25 196.47V207.75M598.31 181.90V203.11M599.82 196.39V213.32M601.47 187.52V207.10M602.84 194.37V215.34M604.49 186.79V200.96M605.86 186.51V205.36M607.64 176.70V191.85M609.43 175.69V191.47M610.80 169.56V185.26M612.17 176.96V192.95M613.82 196.27V216.19M615.47 196.64V213.07M616.84 196.44V211.90M618.62 186.36V201.39M619.99 190.08V207.28M621.37 189.51V202.36M622.74 196.37V210.60M624.52 199.01V214.82M625.89 210.89V224.90M627.54 204.61V220.19M628.91 204.11V217.96M630.56 203.62V226.67M632.34 193.83V214.51M633.72 196.75V214.33M635.50 192.83V208.64M636.87 197.80V221.51M638.93 183.94V201.07M640.17 181.23V196.92M641.95 181.91V198.98M643.32 170.93V188.01M644.70 177.91V198.87M646.75 188.65V204.59M648.13 184.93V208.32M649.50 194.29V207.19M651.15 181.22V199.67M652.52 206.17V218.64M654.30 184.74V207.13M655.67 204.30V219.14M657.46 180.49V196.29M659.10 198.66V217.91M660.48 186.41V206.83M662.12 211.85V223.94M663.50 203.64V218.42M664.87 213.72V224.81M666.65 203.48V219.96M668.02 210.07V225.71M669.81 196.78V211.56M671.46 208.35V221.94M673.10 195.48V210.12M674.47 194.74V208.11M676.26 204.16V222.02M677.63 179.78V201.11" stroke="#000" stroke-width="1.2" stroke-opacity="0.8" fill="none"/>
<path d="M494.09 180.15a1.05 1.05 0 1 0 0.01 0zM496.01 204.17a1.05 1.05 0 1 0 0.01 0zM497.80 204.86a1.05 1.05 0 1 0 0.01 0zM499.58 205.54a1.05 1.05 0 1 0 0.01 0zM500.95 198.68a1.05 1.05 0 1 0 0.01 0zM502.33 211.03a1.05 1.05 0 1 0 0.01 0zM503.97 208.29a1.05 1.05 0 1 0 0.01 0zM505.62 209.66a1.05 1.05 0 1 0 0.01 0zM506.99 200.74a1.05 1.05 0 1 0 0.01 0zM508.78 215.15a1.05 1.05 0 1 0 0.01 0zM509.87 206.91a1.05 1.05 0 1 0 0.01 0zM511.52 190.45a1.05 1.05 0 1 0 0.01 0zM512.89 197.31a1.05 1.05 0 1 0 0.01 0zM514.27 198.68a1.05 1.05 0 1 0 0.01 0zM516.32 188.39a1.05 1.05 0 1 0 0.01 0zM517.70 217.89a1.05 1.05 0 1 0 0.01 0zM519.34 191.82a1.05 1.05 0 1 0 0.01 0zM520.85 195.25a1.05 1.05 0 1 0 0.01 0zM522.50 213.09a1.05 1.05 0 1 0 0.01 0zM524.28 188.39a1.05 1.05 0 1 0 0.01 0zM525.66 195.94a1.05 1.05 0 1 0 0.01 0zM527.30 192.50a1.05 1.05 0 1 0 0.01 0zM528.67 191.82a1.05 1.05 0 1 0 0.01 0zM530.05 196.62a1.05 1.05 0 1 0 0.01 0zM531.83 184.27a1.05 1.05 0 1 0 0.01 0zM533.48 204.17a1.05 1.05 0 1 0 0.01 0zM534.85 200.05a1.05 1.05 0 1 0 0.01 0zM536.63 182.90a1.05 1.05 0 1 0 0.01 0zM538.01 188.39a1.05 1.05 0 1 0 0.01 0zM539.65 209.66a1.05 1.05 0 1 0 0.01 0zM541.03 202.11a1.05 1.05 0 1 0 0.01 0zM542.67 206.91a1.05 1.05 0 1 0 0.01 0zM544.46 199.37a1.05 1.05 0 1 0 0.01 0zM545.83 199.37a1.05 1.05 0 1 0 0.01 0zM547.61 208.29a1.05 1.05 0 1 0 0.01 0zM548.99 203.48a1.05 1.05 0 1 0 0.01 0zM550.63 200.05a1.05 1.05 0 1 0 0.01 0zM552.00 203.48a1.05 1.05 0 1 0 0.01 0zM553.38 194.56a1.05 1.05 0 1 0 0.01 0zM555.02 210.34a1.05 1.05 0 1 0 0.01 0zM556.40 208.29a1.05 1.05 0 1 0 0.01 0zM557.77 211.03a1.05 1.05 0 1 0 0.01 0zM559.55 204.17a1.05 1.05 0 1 0 0.01 0zM560.92 202.80a1.05 1.05 0 1 0 0.01 0zM562.30 197.99a1.05 1.05 0 1 0 0.01 0zM564.08 197.99a1.05 1.05 0 1 0 0.01 0zM565.45 204.17a1.05 1.05 0 1 0 0.01 0zM567.10 210.34a1.05 1.05 0 1 0 0.01 0zM568.47 208.29a1.05 1.05 0 1 0 0.01 0zM569.84 206.23a1.05 1.05 0 1 0 0.01 0zM571.49 210.34a1.05 1.05 0 1 0 0.01 0zM572.86 210.34a1.05 1.05 0 1 0 0.01 0zM574.24 206.91a1.05 1.05 0 1 0 0.01 0zM575.61 204.17a1.05 1.05 0 1 0 0.01 0zM577.39 200.05a1.05 1.05 0 1 0 0.01 0zM579.18 194.56a1.05 1.05 0 1 0 0.01 0zM580.82 204.17a1.05 1.05 0 1 0 0.01 0zM582.47 204.17a1.05 1.05 0 1 0 0.01 0zM584.25 200.05a1.05 1.05 0 1 0 0.01 0zM585.68 210.34a1.05 1.05 0 1 0 0.01 0zM587.47 182.90a1.05 1.05 0 1 0 0.01 0zM589.11 207.60a1.05 1.05 0 1 0 0.01 0zM590.48 197.31a1.05 1.05 0 1 0 0.01 0zM592.13 208.29a1.05 1.05 0 1 0 0.01 0zM593.50 204.17a1.05 1.05 0 1 0 0.01 0zM594.88 201.42a1.05 1.05 0 1 0 0.01 0zM596.25 202.11a1.05 1.05 0 1 0 0.01 0zM598.31 192.50a1.05 1.05 0 1 0 0.01 0zM599.82 204.86a1.05 1.05 0 1 0 0.01 0zM601.46 197.31a1.05 1.05 0 1 0 0.01 0zM602.83 204.86a1.05 1.05 0 1 0 0.01 0zM604.48 193.88a1.05 1.05 0 1 0 0.01 0zM605.85 195.94a1.05 1.05 0 1 0 0.01 0zM607.64 184.27a1.05 1.05 0 1 0 0.01 0zM609.42 183.58a1.05 1.05 0 1 0 0.01 0zM610.79 177.41a1.05 1.05 0 1 0 0.01 0zM612.17 184.96a1.05 1.05 0 1 0 0.01 0zM613.81 206.23a1.05 1.05 0 1 0 0.01 0zM615.46 204.86a1.05 1.05 0 1 0 0.01 0zM616.83 204.17a1.05 1.05 0 1 0 0.01 0zM618.62 193.88a1.05 1.05 0 1 0 0.01 0zM619.99 198.68a1.05 1.05 0 1 0 0.01 0zM621.36 195.94a1.05 1.05 0 1 0 0.01 0zM622.73 203.48a1.05 1.05 0 1 0 0.01 0zM624.52 206.91a1.05 1.05 0 1 0 0.01 0zM625.89 217.89a1.05 1.05 0 1 0 0.01 0zM627.54 212.40a1.05 1.05 0 1 0 0.01 0zM628.91 211.03a1.05 1.05 0 1 0 0.01 0zM630.56 215.15a1.05 1.05 0 1 0 0.01 0zM632.34 204.17a1.05 1.05 0 1 0 0.01 0zM633.71 205.54a1.05 1.05 0 1 0 0.01 0zM635.50 200.74a1.05 1.05 0 1 0 0.01 0zM636.87 209.66a1.05 1.05 0 1 0 0.01 0zM638.93 192.50a1.05 1.05 0 1 0 0.01 0zM640.16 189.07a1.05 1.05 0 1 0 0.01 0zM641.95 190.45a1.05 1.05 0 1 0 0.01 0zM643.32 179.47a1.05 1.05 0 1 0 0.01 0zM644.69 188.39a1.05 1.05 0 1 0 0.01 0zM646.75 196.62a1.05 1.05 0 1 0 0.01 0zM648.12 196.62a1.05 1.05 0 1 0 0.01 0zM649.49 200.74a1.05 1.05 0 1 0 0.01 0zM651.14 190.45a1.05 1.05 0 1 0 0.01 0zM652.51 212.40a1.05 1.05 0 1 0 0.01 0zM654.30 195.94a1.05 1.05 0 1 0 0.01 0zM655.67 211.72a1.05 1.05 0 1 0 0.01 0zM657.45 188.39a1.05 1.05 0 1 0 0.01 0zM659.10 208.29a1.05 1.05 0 1 0 0.01 0zM660.47 196.62a1.05 1.05 0 1 0 0.01 0zM662.12 217.89a1.05 1.05 0 1 0 0.01 0zM663.49 211.03a1.05 1.05 0 1 0 0.01 0zM664.86 219.26a1.05 1.05 0 1 0 0.01 0zM666.65 211.72a1.05 1.05 0 1 0 0.01 0zM668.02 217.89a1.05 1.05 0 1 0 0.01 0zM669.80 204.17a1.05 1.05 0 1 0 0.01 0zM671.45 215.15a1.05 1.05 0 1 0 0.01 0zM673.10 202.80a1.05 1.05 0 1 0 0.01 0zM674.47 201.42a1.05 1.05 0 1 0 0.01 0zM676.25 213.09a1.05 1.05 0 1 0 0.01 0zM677.63 190.45a1.05 1.05 0 1 0 0.01 0z" fill="#000"/>
</g>
<rect x="493.00" y="0.40" width="186.00" height="153.20" fill="none" stroke="#000" stroke-width="0.95"/>
<rect x="493.00" y="163.50" width="186.00" height="76.50" fill="none" stroke="#000" stroke-width="0.95"/>
<path d="M493.00 153.60v2.1M493.00 240.00v2.1M524.00 153.60v2.1M524.00 240.00v2.1M555.00 153.60v2.1M555.00 240.00v2.1M586.00 153.60v2.1M586.00 240.00v2.1M617.00 153.60v2.1M617.00 240.00v2.1M648.00 153.60v2.1M648.00 240.00v2.1M679.00 153.60v2.1M679.00 240.00v2.1M493.00 153.00h-2.1M493.00 128.38h-2.1M493.00 103.77h-2.1M493.00 79.15h-2.1M493.00 54.53h-2.1M493.00 29.92h-2.1M493.00 5.30h-2.1M493.00 228.10h-2.1M493.00 201.50h-2.1M493.00 174.90h-2.1" stroke="#000" stroke-width="0.8" fill="none"/>
<rect x="603.50" y="4.40" width="71.40" height="26.90" rx="1.6" fill="#fff" fill-opacity="0.85" stroke="#d6d6d6" stroke-width="0.8"/>
<path d="M614.90 6.60V15.40" stroke="#1f77b4" stroke-width="1.50" stroke-opacity="0.60"/>
<circle cx="614.90" cy="11.00" r="1.75" fill="#1f77b4"/>
<path d="M614.90 18.60V27.40" stroke="#ff7f0e" stroke-width="1.50" stroke-opacity="0.60"/>
<path d="M613.35 21.70l3.10 2.60M613.35 24.30l3.10 -2.60" stroke="#ff7f0e" stroke-width="1.15"/>
<clipPath id="cd"><rect x="39.50" y="305.40" width="181.50" height="153.50"/></clipPath>
<g clip-path="url(#cd)">
<path d="M39.50 405.49V407.35M41.01 403.94V405.82M42.52 404.43V406.30M44.04 403.80V405.68M45.55 405.46V407.32M47.06 405.05V406.92M48.58 406.21V408.06M50.09 404.83V406.69M51.60 405.59V407.45M53.11 406.00V407.86M54.62 405.66V407.52M56.14 406.38V408.24M57.65 407.74V409.59M59.16 405.84V407.70M60.67 406.11V407.97M62.19 406.19V408.04M63.70 404.52V406.39M65.21 403.40V405.28M66.72 403.91V405.79M68.24 401.88V403.77M69.75 396.75V398.68M71.26 390.73V392.72M72.78 387.18V389.19M74.29 380.01V382.07M75.80 373.35V375.46M77.31 368.54V370.69M78.83 366.20V368.37M80.34 361.66V363.86M81.85 359.37V361.59M83.36 354.92V357.17M84.88 347.26V349.55M86.39 345.59V347.90M87.90 342.58V344.91M89.41 339.84V342.18M90.92 337.70V340.06M92.44 336.54V338.91M93.95 332.67V335.07M95.46 329.46V331.87M96.97 324.55V327.00M98.49 324.56V327.01M100.00 323.96V326.41M101.51 319.02V321.50M103.03 315.02V317.53M104.54 314.07V316.59M106.05 311.45V313.98M107.56 311.39V313.92M109.08 313.44V315.96M110.59 312.68V315.21M112.10 314.04V316.55M113.61 311.98V314.50M115.12 312.01V314.54M116.64 308.74V311.29M118.15 312.12V314.65M119.66 315.36V317.87M121.17 314.32V316.83M122.69 314.23V316.74M124.20 316.96V319.46M125.71 317.87V320.36M127.22 318.95V321.43M128.74 319.96V322.44M130.25 322.60V325.06M131.76 325.77V328.21M133.28 326.25V328.68M134.79 330.59V333.00M136.30 333.42V335.81M137.81 337.48V339.84M139.32 340.06V342.41M140.84 341.94V344.27M142.35 348.30V350.59M143.86 350.31V352.58M145.38 353.23V355.49M146.89 358.41V360.64M148.40 361.77V363.96M149.91 367.31V369.47M151.43 368.72V370.87M152.94 372.99V375.11M154.45 377.97V380.05M155.96 384.06V386.10M157.47 387.27V389.28M158.99 389.05V391.05M160.50 392.07V394.04M162.01 397.11V399.04M163.53 399.75V401.66M165.04 404.94V406.81M166.55 407.80V409.64M168.06 410.68V412.50M169.57 413.27V415.07M171.09 418.03V419.79M172.60 419.03V420.78M174.11 422.23V423.95M175.62 428.05V429.72M177.14 431.89V433.52M178.65 433.90V435.51M180.16 437.65V439.23M181.68 441.79V443.32M183.19 441.89V443.42M184.70 444.46V445.96M186.21 446.38V447.86M187.72 445.74V447.23M189.24 448.23V449.70M190.75 449.46V450.91M192.26 448.71V450.16M193.78 448.52V449.98M195.29 446.63V448.11M196.80 443.71V445.22M198.31 442.25V443.78M199.82 439.50V441.05M201.34 434.38V435.99M202.85 431.35V432.98M204.36 427.98V429.65M205.88 424.97V426.67M207.39 421.80V423.52M208.90 417.95V419.71M210.41 416.64V418.41M211.93 412.66V414.46M213.44 413.09V414.88M214.95 410.51V412.33M216.46 409.74V411.57M217.97 407.10V408.94M219.49 404.76V406.63" stroke="#1f77b4" stroke-width="1.50" stroke-opacity="0.60" fill="none"/>
<path d="M39.49 406.42a1.75 1.75 0 1 0 0.01 0zM41.01 404.88a1.75 1.75 0 1 0 0.01 0zM42.52 405.36a1.75 1.75 0 1 0 0.01 0zM44.03 404.74a1.75 1.75 0 1 0 0.01 0zM45.54 406.39a1.75 1.75 0 1 0 0.01 0zM47.06 405.98a1.75 1.75 0 1 0 0.01 0zM48.57 407.14a1.75 1.75 0 1 0 0.01 0zM50.08 405.76a1.75 1.75 0 1 0 0.01 0zM51.59 406.52a1.75 1.75 0 1 0 0.01 0zM53.11 406.93a1.75 1.75 0 1 0 0.01 0zM54.62 406.59a1.75 1.75 0 1 0 0.01 0zM56.13 407.31a1.75 1.75 0 1 0 0.01 0zM57.64 408.66a1.75 1.75 0 1 0 0.01 0zM59.16 406.77a1.75 1.75 0 1 0 0.01 0zM60.67 407.04a1.75 1.75 0 1 0 0.01 0zM62.18 407.11a1.75 1.75 0 1 0 0.01 0zM63.70 405.45a1.75 1.75 0 1 0 0.01 0zM65.21 404.34a1.75 1.75 0 1 0 0.01 0zM66.72 404.85a1.75 1.75 0 1 0 0.01 0zM68.23 402.83a1.75 1.75 0 1 0 0.01 0zM69.75 397.72a1.75 1.75 0 1 0 0.01 0zM71.26 391.73a1.75 1.75 0 1 0 0.01 0zM72.77 388.18a1.75 1.75 0 1 0 0.01 0zM74.28 381.04a1.75 1.75 0 1 0 0.01 0zM75.80 374.40a1.75 1.75 0 1 0 0.01 0zM77.31 369.61a1.75 1.75 0 1 0 0.01 0zM78.82 367.29a1.75 1.75 0 1 0 0.01 0zM80.33 362.76a1.75 1.75 0 1 0 0.01 0zM81.84 360.48a1.75 1.75 0 1 0 0.01 0zM83.36 356.05a1.75 1.75 0 1 0 0.01 0zM84.87 348.41a1.75 1.75 0 1 0 0.01 0zM86.38 346.75a1.75 1.75 0 1 0 0.01 0zM87.90 343.75a1.75 1.75 0 1 0 0.01 0zM89.41 341.01a1.75 1.75 0 1 0 0.01 0zM90.92 338.88a1.75 1.75 0 1 0 0.01 0zM92.43 337.73a1.75 1.75 0 1 0 0.01 0zM93.95 333.87a1.75 1.75 0 1 0 0.01 0zM95.46 330.67a1.75 1.75 0 1 0 0.01 0zM96.97 325.77a1.75 1.75 0 1 0 0.01 0zM98.48 325.78a1.75 1.75 0 1 0 0.01 0zM100.00 325.19a1.75 1.75 0 1 0 0.01 0zM101.51 320.26a1.75 1.75 0 1 0 0.01 0zM103.02 316.28a1.75 1.75 0 1 0 0.01 0zM104.53 315.33a1.75 1.75 0 1 0 0.01 0zM106.05 312.71a1.75 1.75 0 1 0 0.01 0zM107.56 312.65a1.75 1.75 0 1 0 0.01 0zM109.07 314.70a1.75 1.75 0 1 0 0.01 0zM110.58 313.95a1.75 1.75 0 1 0 0.01 0zM112.09 315.29a1.75 1.75 0 1 0 0.01 0zM113.61 313.24a1.75 1.75 0 1 0 0.01 0zM115.12 313.28a1.75 1.75 0 1 0 0.01 0zM116.63 310.01a1.75 1.75 0 1 0 0.01 0zM118.15 313.39a1.75 1.75 0 1 0 0.01 0zM119.66 316.62a1.75 1.75 0 1 0 0.01 0zM121.17 315.58a1.75 1.75 0 1 0 0.01 0zM122.68 315.49a1.75 1.75 0 1 0 0.01 0zM124.20 318.21a1.75 1.75 0 1 0 0.01 0zM125.71 319.11a1.75 1.75 0 1 0 0.01 0zM127.22 320.19a1.75 1.75 0 1 0 0.01 0zM128.73 321.20a1.75 1.75 0 1 0 0.01 0zM130.25 323.83a1.75 1.75 0 1 0 0.01 0zM131.76 326.99a1.75 1.75 0 1 0 0.01 0zM133.27 327.46a1.75 1.75 0 1 0 0.01 0zM134.78 331.79a1.75 1.75 0 1 0 0.01 0zM136.30 334.62a1.75 1.75 0 1 0 0.01 0zM137.81 338.66a1.75 1.75 0 1 0 0.01 0zM139.32 341.23a1.75 1.75 0 1 0 0.01 0zM140.83 343.11a1.75 1.75 0 1 0 0.01 0zM142.34 349.45a1.75 1.75 0 1 0 0.01 0zM143.86 351.45a1.75 1.75 0 1 0 0.01 0zM145.37 354.36a1.75 1.75 0 1 0 0.01 0zM146.88 359.52a1.75 1.75 0 1 0 0.01 0zM148.40 362.86a1.75 1.75 0 1 0 0.01 0zM149.91 368.39a1.75 1.75 0 1 0 0.01 0zM151.42 369.79a1.75 1.75 0 1 0 0.01 0zM152.93 374.05a1.75 1.75 0 1 0 0.01 0zM154.44 379.01a1.75 1.75 0 1 0 0.01 0zM155.96 385.08a1.75 1.75 0 1 0 0.01 0zM157.47 388.28a1.75 1.75 0 1 0 0.01 0zM158.98 390.05a1.75 1.75 0 1 0 0.01 0zM160.50 393.06a1.75 1.75 0 1 0 0.01 0zM162.01 398.08a1.75 1.75 0 1 0 0.01 0zM163.52 400.71a1.75 1.75 0 1 0 0.01 0zM165.03 405.87a1.75 1.75 0 1 0 0.01 0zM166.55 408.72a1.75 1.75 0 1 0 0.01 0zM168.06 411.59a1.75 1.75 0 1 0 0.01 0zM169.57 414.17a1.75 1.75 0 1 0 0.01 0zM171.08 418.91a1.75 1.75 0 1 0 0.01 0zM172.59 419.91a1.75 1.75 0 1 0 0.01 0zM174.11 423.09a1.75 1.75 0 1 0 0.01 0zM175.62 428.89a1.75 1.75 0 1 0 0.01 0zM177.13 432.71a1.75 1.75 0 1 0 0.01 0zM178.65 434.71a1.75 1.75 0 1 0 0.01 0zM180.16 438.44a1.75 1.75 0 1 0 0.01 0zM181.67 442.56a1.75 1.75 0 1 0 0.01 0zM183.18 442.65a1.75 1.75 0 1 0 0.01 0zM184.69 445.21a1.75 1.75 0 1 0 0.01 0zM186.21 447.12a1.75 1.75 0 1 0 0.01 0zM187.72 446.48a1.75 1.75 0 1 0 0.01 0zM189.23 448.96a1.75 1.75 0 1 0 0.01 0zM190.75 450.19a1.75 1.75 0 1 0 0.01 0zM192.26 449.44a1.75 1.75 0 1 0 0.01 0zM193.77 449.25a1.75 1.75 0 1 0 0.01 0zM195.28 447.37a1.75 1.75 0 1 0 0.01 0zM196.80 444.46a1.75 1.75 0 1 0 0.01 0zM198.31 443.02a1.75 1.75 0 1 0 0.01 0zM199.82 440.28a1.75 1.75 0 1 0 0.01 0zM201.33 435.19a1.75 1.75 0 1 0 0.01 0zM202.84 432.16a1.75 1.75 0 1 0 0.01 0zM204.36 428.81a1.75 1.75 0 1 0 0.01 0zM205.87 425.82a1.75 1.75 0 1 0 0.01 0zM207.38 422.66a1.75 1.75 0 1 0 0.01 0zM208.90 418.83a1.75 1.75 0 1 0 0.01 0zM210.41 417.53a1.75 1.75 0 1 0 0.01 0zM211.92 413.56a1.75 1.75 0 1 0 0.01 0zM213.43 413.98a1.75 1.75 0 1 0 0.01 0zM214.94 411.42a1.75 1.75 0 1 0 0.01 0zM216.46 410.65a1.75 1.75 0 1 0 0.01 0zM217.97 408.02a1.75 1.75 0 1 0 0.01 0zM219.48 405.69a1.75 1.75 0 1 0 0.01 0z" fill="#1f77b4"/>
<path d="M39.50 403.33V405.21M41.01 399.45V401.36M42.52 402.51V404.40M44.04 401.13V403.03M45.55 403.04V404.93M47.06 405.06V406.93M48.58 404.48V406.35M50.09 404.60V406.47M51.60 405.08V406.95M53.11 402.37V404.26M54.62 406.34V408.20M56.14 403.98V405.86M57.65 404.57V406.44M59.16 406.44V408.30M60.67 406.36V408.22M62.19 404.95V406.82M63.70 403.09V404.97M65.21 399.75V401.66M66.72 395.64V397.58M68.24 395.38V397.33M69.75 387.78V389.78M71.26 381.14V383.20M72.78 379.65V381.71M74.29 376.74V378.83M75.80 376.67V378.76M77.31 371.57V373.70M78.83 368.34V370.49M80.34 364.87V367.05M81.85 360.27V362.48M83.36 360.40V362.60M84.88 356.66V358.89M86.39 354.47V356.72M87.90 348.68V350.97M89.41 345.50V347.81M90.92 344.10V346.42M92.44 341.86V344.19M93.95 336.38V338.75M95.46 338.28V340.64M96.97 335.13V337.51M98.49 331.54V333.94M100.00 326.85V329.29M101.51 324.25V326.70M103.03 325.08V327.52M104.54 324.97V327.41M106.05 323.32V325.78M107.56 320.11V322.59M109.08 321.83V324.30M110.59 318.04V320.53M112.10 317.76V320.25M113.61 319.32V321.80M115.12 318.30V320.78M116.64 317.99V320.47M118.15 316.79V319.28M119.66 320.34V322.81M121.17 317.28V319.77M122.69 319.41V321.89M124.20 319.95V322.42M125.71 318.82V321.31M127.22 320.33V322.81M128.74 323.24V325.70M130.25 326.04V328.47M131.76 327.08V329.51M133.28 326.04V328.47M134.79 327.76V330.19M136.30 332.11V334.51M137.81 334.23V336.62M139.32 339.68V342.03M140.84 342.70V345.03M142.35 346.03V348.33M143.86 351.58V353.85M145.38 355.27V357.52M146.89 357.87V360.10M148.40 362.42V364.61M149.91 367.37V369.52M151.43 369.67V371.81M152.94 374.46V376.57M154.45 377.05V379.13M155.96 382.26V384.31M157.47 386.55V388.56M158.99 389.89V391.88M160.50 393.98V395.94M162.01 398.20V400.12M163.53 401.47V403.37M165.04 403.63V405.51M166.55 406.83V408.68M168.06 408.99V410.83M169.57 414.66V416.44M171.09 416.09V417.86M172.60 419.03V420.78M174.11 421.76V423.48M175.62 425.86V427.54M177.14 429.42V431.07M178.65 431.54V433.17M180.16 435.00V436.60M181.68 439.13V440.69M183.19 439.71V441.26M184.70 442.01V443.54M186.21 444.30V445.81M187.72 443.84V445.35M189.24 445.66V447.15M190.75 444.39V445.90M192.26 445.42V446.91M193.78 445.28V446.77M195.29 443.87V445.37M196.80 442.84V444.36M198.31 440.52V442.06M199.82 438.26V439.82M201.34 435.11V436.70M202.85 432.03V433.65M204.36 431.58V433.21M205.88 425.05V426.74M207.39 423.87V425.57M208.90 418.94V420.69M210.41 415.53V417.31M211.93 414.08V415.87M213.44 412.63V414.44M214.95 410.47V412.29M216.46 408.60V410.44M217.97 407.34V409.18M219.49 405.85V407.71" stroke="#ff7f0e" stroke-width="1.50" stroke-opacity="0.60" fill="none"/>
<path d="M37.95 402.97l3.10 2.60M37.95 405.57l3.10 -2.60M39.46 399.11l3.10 2.60M39.46 401.71l3.10 -2.60M40.98 402.16l3.10 2.60M40.98 404.76l3.10 -2.60M42.49 400.78l3.10 2.60M42.49 403.38l3.10 -2.60M44.00 402.68l3.10 2.60M44.00 405.28l3.10 -2.60M45.51 404.69l3.10 2.60M45.51 407.29l3.10 -2.60M47.03 404.12l3.10 2.60M47.03 406.72l3.10 -2.60M48.54 404.23l3.10 2.60M48.54 406.83l3.10 -2.60M50.05 404.72l3.10 2.60M50.05 407.32l3.10 -2.60M51.56 402.02l3.10 2.60M51.56 404.62l3.10 -2.60M53.08 405.97l3.10 2.60M53.08 408.57l3.10 -2.60M54.59 403.62l3.10 2.60M54.59 406.22l3.10 -2.60M56.10 404.20l3.10 2.60M56.10 406.80l3.10 -2.60M57.61 406.07l3.10 2.60M57.61 408.67l3.10 -2.60M59.12 405.99l3.10 2.60M59.12 408.59l3.10 -2.60M60.64 404.58l3.10 2.60M60.64 407.18l3.10 -2.60M62.15 402.73l3.10 2.60M62.15 405.33l3.10 -2.60M63.66 399.40l3.10 2.60M63.66 402.00l3.10 -2.60M65.17 395.31l3.10 2.60M65.17 397.91l3.10 -2.60M66.69 395.06l3.10 2.60M66.69 397.66l3.10 -2.60M68.20 387.48l3.10 2.60M68.20 390.08l3.10 -2.60M69.71 380.87l3.10 2.60M69.71 383.47l3.10 -2.60M71.23 379.38l3.10 2.60M71.23 381.98l3.10 -2.60M72.74 376.49l3.10 2.60M72.74 379.09l3.10 -2.60M74.25 376.41l3.10 2.60M74.25 379.01l3.10 -2.60M75.76 371.34l3.10 2.60M75.76 373.94l3.10 -2.60M77.28 368.11l3.10 2.60M77.28 370.71l3.10 -2.60M78.79 364.66l3.10 2.60M78.79 367.26l3.10 -2.60M80.30 360.08l3.10 2.60M80.30 362.68l3.10 -2.60M81.81 360.20l3.10 2.60M81.81 362.80l3.10 -2.60M83.33 356.48l3.10 2.60M83.33 359.08l3.10 -2.60M84.84 354.30l3.10 2.60M84.84 356.90l3.10 -2.60M86.35 348.53l3.10 2.60M86.35 351.13l3.10 -2.60M87.86 345.36l3.10 2.60M87.86 347.96l3.10 -2.60M89.38 343.96l3.10 2.60M89.38 346.56l3.10 -2.60M90.89 341.72l3.10 2.60M90.89 344.32l3.10 -2.60M92.40 336.27l3.10 2.60M92.40 338.87l3.10 -2.60M93.91 338.16l3.10 2.60M93.91 340.76l3.10 -2.60M95.42 335.02l3.10 2.60M95.42 337.62l3.10 -2.60M96.94 331.44l3.10 2.60M96.94 334.04l3.10 -2.60M98.45 326.77l3.10 2.60M98.45 329.37l3.10 -2.60M99.96 324.18l3.10 2.60M99.96 326.78l3.10 -2.60M101.48 325.00l3.10 2.60M101.48 327.60l3.10 -2.60M102.99 324.89l3.10 2.60M102.99 327.49l3.10 -2.60M104.50 323.25l3.10 2.60M104.50 325.85l3.10 -2.60M106.01 320.05l3.10 2.60M106.01 322.65l3.10 -2.60M107.53 321.77l3.10 2.60M107.53 324.37l3.10 -2.60M109.04 317.99l3.10 2.60M109.04 320.59l3.10 -2.60M110.55 317.71l3.10 2.60M110.55 320.31l3.10 -2.60M112.06 319.26l3.10 2.60M112.06 321.86l3.10 -2.60M113.58 318.24l3.10 2.60M113.58 320.84l3.10 -2.60M115.09 317.93l3.10 2.60M115.09 320.53l3.10 -2.60M116.60 316.73l3.10 2.60M116.60 319.33l3.10 -2.60M118.11 320.27l3.10 2.60M118.11 322.87l3.10 -2.60M119.62 317.22l3.10 2.60M119.62 319.82l3.10 -2.60M121.14 319.35l3.10 2.60M121.14 321.95l3.10 -2.60M122.65 319.88l3.10 2.60M122.65 322.48l3.10 -2.60M124.16 318.77l3.10 2.60M124.16 321.37l3.10 -2.60M125.67 320.27l3.10 2.60M125.67 322.87l3.10 -2.60M127.19 323.17l3.10 2.60M127.19 325.77l3.10 -2.60M128.70 325.95l3.10 2.60M128.70 328.55l3.10 -2.60M130.21 326.99l3.10 2.60M130.21 329.59l3.10 -2.60M131.72 325.96l3.10 2.60M131.72 328.56l3.10 -2.60M133.24 327.67l3.10 2.60M133.24 330.27l3.10 -2.60M134.75 332.01l3.10 2.60M134.75 334.61l3.10 -2.60M136.26 334.12l3.10 2.60M136.26 336.72l3.10 -2.60M137.77 339.56l3.10 2.60M137.77 342.16l3.10 -2.60M139.29 342.56l3.10 2.60M139.29 345.16l3.10 -2.60M140.80 345.88l3.10 2.60M140.80 348.48l3.10 -2.60M142.31 351.42l3.10 2.60M142.31 354.02l3.10 -2.60M143.82 355.09l3.10 2.60M143.82 357.69l3.10 -2.60M145.34 357.69l3.10 2.60M145.34 360.29l3.10 -2.60M146.85 362.21l3.10 2.60M146.85 364.81l3.10 -2.60M148.36 367.14l3.10 2.60M148.36 369.74l3.10 -2.60M149.88 369.44l3.10 2.60M149.88 372.04l3.10 -2.60M151.39 374.21l3.10 2.60M151.39 376.81l3.10 -2.60M152.90 376.79l3.10 2.60M152.90 379.39l3.10 -2.60M154.41 381.99l3.10 2.60M154.41 384.59l3.10 -2.60M155.92 386.25l3.10 2.60M155.92 388.85l3.10 -2.60M157.44 389.59l3.10 2.60M157.44 392.19l3.10 -2.60M158.95 393.66l3.10 2.60M158.95 396.26l3.10 -2.60M160.46 397.86l3.10 2.60M160.46 400.46l3.10 -2.60M161.97 401.12l3.10 2.60M161.97 403.72l3.10 -2.60M163.49 403.27l3.10 2.60M163.49 405.87l3.10 -2.60M165.00 406.45l3.10 2.60M165.00 409.05l3.10 -2.60M166.51 408.61l3.10 2.60M166.51 411.21l3.10 -2.60M168.02 414.25l3.10 2.60M168.02 416.85l3.10 -2.60M169.54 415.67l3.10 2.60M169.54 418.27l3.10 -2.60M171.05 418.61l3.10 2.60M171.05 421.21l3.10 -2.60M172.56 421.32l3.10 2.60M172.56 423.92l3.10 -2.60M174.07 425.40l3.10 2.60M174.07 428.00l3.10 -2.60M175.59 428.95l3.10 2.60M175.59 431.55l3.10 -2.60M177.10 431.05l3.10 2.60M177.10 433.65l3.10 -2.60M178.61 434.50l3.10 2.60M178.61 437.10l3.10 -2.60M180.12 438.61l3.10 2.60M180.12 441.21l3.10 -2.60M181.64 439.18l3.10 2.60M181.64 441.78l3.10 -2.60M183.15 441.47l3.10 2.60M183.15 444.07l3.10 -2.60M184.66 443.76l3.10 2.60M184.66 446.36l3.10 -2.60M186.17 443.29l3.10 2.60M186.17 445.89l3.10 -2.60M187.69 445.10l3.10 2.60M187.69 447.70l3.10 -2.60M189.20 443.85l3.10 2.60M189.20 446.45l3.10 -2.60M190.71 444.86l3.10 2.60M190.71 447.46l3.10 -2.60M192.22 444.73l3.10 2.60M192.22 447.33l3.10 -2.60M193.74 443.32l3.10 2.60M193.74 445.92l3.10 -2.60M195.25 442.30l3.10 2.60M195.25 444.90l3.10 -2.60M196.76 439.99l3.10 2.60M196.76 442.59l3.10 -2.60M198.27 437.74l3.10 2.60M198.27 440.34l3.10 -2.60M199.79 434.61l3.10 2.60M199.79 437.21l3.10 -2.60M201.30 431.54l3.10 2.60M201.30 434.14l3.10 -2.60M202.81 431.10l3.10 2.60M202.81 433.70l3.10 -2.60M204.32 424.59l3.10 2.60M204.32 427.19l3.10 -2.60M205.84 423.42l3.10 2.60M205.84 426.02l3.10 -2.60M207.35 418.52l3.10 2.60M207.35 421.12l3.10 -2.60M208.86 415.12l3.10 2.60M208.86 417.72l3.10 -2.60M210.38 413.68l3.10 2.60M210.38 416.28l3.10 -2.60M211.89 412.24l3.10 2.60M211.89 414.84l3.10 -2.60M213.40 410.08l3.10 2.60M213.40 412.68l3.10 -2.60M214.91 408.22l3.10 2.60M214.91 410.82l3.10 -2.60M216.42 406.96l3.10 2.60M216.42 409.56l3.10 -2.60M217.94 405.48l3.10 2.60M217.94 408.08l3.10 -2.60" stroke="#ff7f0e" stroke-width="1.15" fill="none"/>
</g>
<clipPath id="rd"><rect x="39.50" y="467.70" width="181.50" height="76.70"/></clipPath>
<g clip-path="url(#rd)">
<path d="M39.50 528.48H221.00" stroke="#000" stroke-width="0.9" stroke-dasharray="3.4 1.5" fill="none"/>
<path d="M39.50 484.32H221.00" stroke="#000" stroke-width="0.9" stroke-dasharray="3.4 1.5" fill="none"/>
<path d="M39.50 506.40H221.00" stroke="#000" stroke-width="1.0" fill="none"/>
<path d="M40.07 500.64V511.25M42.36 488.81V496.22M43.70 494.06V501.72M45.04 497.65V504.85M46.39 494.22V501.56M47.73 491.57V500.18M49.07 492.21V498.20M50.42 495.84V502.62M51.76 500.99V510.91M52.83 502.96V511.62M54.04 498.49V508.03M55.79 493.30V498.45M57.53 503.65V510.93M58.88 506.79V514.51M60.49 496.14V505.01M62.10 510.84V518.51M63.58 492.59V503.19M64.92 486.83V495.52M66.53 477.36V486.19M68.28 484.07V492.90M69.62 476.69V486.86M70.96 475.14V483.03M72.84 484.34V495.32M74.19 509.16V518.85M75.53 506.77V515.87M77.28 504.19V513.07M78.75 505.74V515.55M80.36 511.31V522.07M81.98 506.00V516.63M83.59 509.24V518.77M85.33 514.13V524.63M86.68 516.21V525.23M88.02 507.05V518.27M89.36 515.00V523.75M90.71 504.90V509.68M92.32 508.31V519.70M93.79 513.53V522.54M95.41 518.80V525.33M97.02 513.83V522.24M98.76 511.80V518.89M100.51 510.26V523.12M101.45 519.87V529.63M102.79 521.20V526.96M104.14 518.48V528.33M105.48 519.39V527.42M106.82 515.81V528.32M108.16 517.34V524.10M109.51 517.15V521.60M110.85 510.21V519.14M112.19 512.63V520.75M113.94 510.01V518.00M115.55 511.68V516.33M116.89 513.22V522.85M118.51 510.67V522.71M120.25 512.80V517.90M122.00 505.79V516.85M123.61 508.81V516.51M124.95 504.65V517.99M126.56 509.18V518.83M128.31 508.44V516.88M129.41 504.97V515.91M130.63 500.10V509.92M132.39 499.83V507.48M134.16 499.92V510.10M135.79 500.43V508.24M137.42 502.34V507.68M139.18 494.57V507.31M141.22 505.02V513.15M142.58 505.95V513.57M143.93 494.18V503.63M145.56 498.73V504.51M146.92 498.53V504.71M148.28 494.31V502.14M149.64 503.15V510.95M151.40 495.11V504.05M152.76 492.74V503.71M154.12 493.60V501.49M155.47 494.03V503.78M156.83 493.24V503.21M158.19 495.55V502.25M159.55 493.60V502.85M160.63 498.13V505.11M161.99 492.79V503.65M163.62 510.35V520.03M165.38 497.20V506.03M167.01 500.55V506.76M168.37 500.50V509.52M169.46 504.07V511.39M171.09 489.75V499.91M172.44 498.69V507.26M173.80 498.68V505.91M175.16 501.07V511.67M176.52 496.52V506.72M177.87 495.76V503.41M178.96 466.91V477.96M179.91 472.39V480.61M181.67 501.59V509.79M183.30 483.52V492.56M184.66 475.55V482.89M186.02 480.68V488.62M187.38 483.12V491.61M188.46 482.84V494.60M189.82 472.01V483.71M190.77 466.92V475.22M192.54 484.80V496.72M193.89 487.76V496.47M195.25 488.70V498.24M196.61 490.25V500.76M197.97 492.18V501.55M198.92 494.88V508.36M200.27 487.48V496.75M201.63 487.52V494.00M202.99 499.35V510.68M204.35 489.47V497.47M205.70 487.33V495.54M207.06 490.61V493.62M209.10 498.29V509.02M210.46 505.25V515.64M212.08 483.55V493.89M213.85 492.88V503.57M215.21 494.90V506.98M216.56 496.58V505.30M217.92 492.92V503.53M219.28 494.54V501.90M220.64 494.85V502.96" stroke="#000" stroke-width="1.2" stroke-opacity="0.8" fill="none"/>
<path d="M40.07 505.95a1.05 1.05 0 1 0 0.01 0zM42.35 492.52a1.05 1.05 0 1 0 0.01 0zM43.70 497.89a1.05 1.05 0 1 0 0.01 0zM45.04 501.25a1.05 1.05 0 1 0 0.01 0zM46.38 497.89a1.05 1.05 0 1 0 0.01 0zM47.72 495.87a1.05 1.05 0 1 0 0.01 0zM49.07 495.20a1.05 1.05 0 1 0 0.01 0zM50.41 499.23a1.05 1.05 0 1 0 0.01 0zM51.75 505.95a1.05 1.05 0 1 0 0.01 0zM52.83 507.29a1.05 1.05 0 1 0 0.01 0zM54.04 503.26a1.05 1.05 0 1 0 0.01 0zM55.78 495.87a1.05 1.05 0 1 0 0.01 0zM57.53 507.29a1.05 1.05 0 1 0 0.01 0zM58.87 510.65a1.05 1.05 0 1 0 0.01 0zM60.48 500.58a1.05 1.05 0 1 0 0.01 0zM62.09 514.68a1.05 1.05 0 1 0 0.01 0zM63.57 497.89a1.05 1.05 0 1 0 0.01 0zM64.91 491.17a1.05 1.05 0 1 0 0.01 0zM66.53 481.77a1.05 1.05 0 1 0 0.01 0zM68.27 488.49a1.05 1.05 0 1 0 0.01 0zM69.62 481.77a1.05 1.05 0 1 0 0.01 0zM70.96 479.09a1.05 1.05 0 1 0 0.01 0zM72.84 489.83a1.05 1.05 0 1 0 0.01 0zM74.18 514.01a1.05 1.05 0 1 0 0.01 0zM75.52 511.32a1.05 1.05 0 1 0 0.01 0zM77.27 508.63a1.05 1.05 0 1 0 0.01 0zM78.75 510.65a1.05 1.05 0 1 0 0.01 0zM80.36 516.69a1.05 1.05 0 1 0 0.01 0zM81.97 511.32a1.05 1.05 0 1 0 0.01 0zM83.58 514.01a1.05 1.05 0 1 0 0.01 0zM85.33 519.38a1.05 1.05 0 1 0 0.01 0zM86.67 520.72a1.05 1.05 0 1 0 0.01 0zM88.01 512.66a1.05 1.05 0 1 0 0.01 0zM89.36 519.38a1.05 1.05 0 1 0 0.01 0zM90.70 507.29a1.05 1.05 0 1 0 0.01 0zM92.31 514.01a1.05 1.05 0 1 0 0.01 0zM93.79 518.03a1.05 1.05 0 1 0 0.01 0zM95.40 522.06a1.05 1.05 0 1 0 0.01 0zM97.01 518.03a1.05 1.05 0 1 0 0.01 0zM98.76 515.35a1.05 1.05 0 1 0 0.01 0zM100.50 516.69a1.05 1.05 0 1 0 0.01 0zM101.44 524.75a1.05 1.05 0 1 0 0.01 0zM102.79 524.08a1.05 1.05 0 1 0 0.01 0zM104.13 523.41a1.05 1.05 0 1 0 0.01 0zM105.47 523.41a1.05 1.05 0 1 0 0.01 0zM106.82 522.06a1.05 1.05 0 1 0 0.01 0zM108.16 520.72a1.05 1.05 0 1 0 0.01 0zM109.50 519.38a1.05 1.05 0 1 0 0.01 0zM110.85 514.68a1.05 1.05 0 1 0 0.01 0zM112.19 516.69a1.05 1.05 0 1 0 0.01 0zM113.93 514.01a1.05 1.05 0 1 0 0.01 0zM115.55 514.01a1.05 1.05 0 1 0 0.01 0zM116.89 518.03a1.05 1.05 0 1 0 0.01 0zM118.50 516.69a1.05 1.05 0 1 0 0.01 0zM120.25 515.35a1.05 1.05 0 1 0 0.01 0zM121.99 511.32a1.05 1.05 0 1 0 0.01 0zM123.60 512.66a1.05 1.05 0 1 0 0.01 0zM124.95 511.32a1.05 1.05 0 1 0 0.01 0zM126.56 514.01a1.05 1.05 0 1 0 0.01 0zM128.30 512.66a1.05 1.05 0 1 0 0.01 0zM129.40 510.44a1.05 1.05 0 1 0 0.01 0zM130.62 505.01a1.05 1.05 0 1 0 0.01 0zM132.39 503.65a1.05 1.05 0 1 0 0.01 0zM134.15 505.01a1.05 1.05 0 1 0 0.01 0zM135.78 504.33a1.05 1.05 0 1 0 0.01 0zM137.41 505.01a1.05 1.05 0 1 0 0.01 0zM139.18 500.94a1.05 1.05 0 1 0 0.01 0zM141.21 509.09a1.05 1.05 0 1 0 0.01 0zM142.57 509.76a1.05 1.05 0 1 0 0.01 0zM143.93 498.90a1.05 1.05 0 1 0 0.01 0zM145.56 501.62a1.05 1.05 0 1 0 0.01 0zM146.92 501.62a1.05 1.05 0 1 0 0.01 0zM148.27 498.22a1.05 1.05 0 1 0 0.01 0zM149.63 507.05a1.05 1.05 0 1 0 0.01 0zM151.40 499.58a1.05 1.05 0 1 0 0.01 0zM152.75 498.22a1.05 1.05 0 1 0 0.01 0zM154.11 497.55a1.05 1.05 0 1 0 0.01 0zM155.47 498.90a1.05 1.05 0 1 0 0.01 0zM156.83 498.22a1.05 1.05 0 1 0 0.01 0zM158.18 498.90a1.05 1.05 0 1 0 0.01 0zM159.54 498.22a1.05 1.05 0 1 0 0.01 0zM160.63 501.62a1.05 1.05 0 1 0 0.01 0zM161.98 498.22a1.05 1.05 0 1 0 0.01 0zM163.61 515.19a1.05 1.05 0 1 0 0.01 0zM165.38 501.62a1.05 1.05 0 1 0 0.01 0zM167.01 503.65a1.05 1.05 0 1 0 0.01 0zM168.37 505.01a1.05 1.05 0 1 0 0.01 0zM169.45 507.73a1.05 1.05 0 1 0 0.01 0zM171.08 494.83a1.05 1.05 0 1 0 0.01 0zM172.44 502.98a1.05 1.05 0 1 0 0.01 0zM173.80 502.30a1.05 1.05 0 1 0 0.01 0zM175.15 506.37a1.05 1.05 0 1 0 0.01 0zM176.51 501.62a1.05 1.05 0 1 0 0.01 0zM177.87 499.58a1.05 1.05 0 1 0 0.01 0zM178.95 472.43a1.05 1.05 0 1 0 0.01 0zM179.90 476.50a1.05 1.05 0 1 0 0.01 0zM181.67 505.69a1.05 1.05 0 1 0 0.01 0zM183.30 488.04a1.05 1.05 0 1 0 0.01 0zM184.66 479.22a1.05 1.05 0 1 0 0.01 0zM186.01 484.65a1.05 1.05 0 1 0 0.01 0zM187.37 487.36a1.05 1.05 0 1 0 0.01 0zM188.46 488.72a1.05 1.05 0 1 0 0.01 0zM189.81 477.86a1.05 1.05 0 1 0 0.01 0zM190.77 471.07a1.05 1.05 0 1 0 0.01 0zM192.53 490.76a1.05 1.05 0 1 0 0.01 0zM193.89 492.12a1.05 1.05 0 1 0 0.01 0zM195.25 493.47a1.05 1.05 0 1 0 0.01 0zM196.60 495.51a1.05 1.05 0 1 0 0.01 0zM197.96 496.87a1.05 1.05 0 1 0 0.01 0zM198.91 501.62a1.05 1.05 0 1 0 0.01 0zM200.27 492.12a1.05 1.05 0 1 0 0.01 0zM201.63 490.76a1.05 1.05 0 1 0 0.01 0zM202.98 505.01a1.05 1.05 0 1 0 0.01 0zM204.34 493.47a1.05 1.05 0 1 0 0.01 0zM205.70 491.44a1.05 1.05 0 1 0 0.01 0zM207.06 492.12a1.05 1.05 0 1 0 0.01 0zM209.09 503.65a1.05 1.05 0 1 0 0.01 0zM210.45 510.44a1.05 1.05 0 1 0 0.01 0zM212.08 488.72a1.05 1.05 0 1 0 0.01 0zM213.84 498.22a1.05 1.05 0 1 0 0.01 0zM215.20 500.94a1.05 1.05 0 1 0 0.01 0zM216.56 500.94a1.05 1.05 0 1 0 0.01 0zM217.92 498.22a1.05 1.05 0 1 0 0.01 0zM219.27 498.22a1.05 1.05 0 1 0 0.01 0zM220.63 498.90a1.05 1.05 0 1 0 0.01 0z" fill="#000"/>
</g>
<rect x="39.50" y="305.40" width="181.50" height="153.50" fill="none" stroke="#000" stroke-width="0.95"/>
<rect x="39.50" y="467.70" width="181.50" height="76.70" fill="none" stroke="#000" stroke-width="0.95"/>
<path d="M39.50 458.90v2.1M39.50 544.40v2.1M69.75 458.90v2.1M69.75 544.40v2.1M100.00 458.90v2.1M100.00 544.40v2.1M130.25 458.90v2.1M130.25 544.40v2.1M160.50 458.90v2.1M160.50 544.40v2.1M190.75 458.90v2.1M190.75 544.40v2.1M221.00 458.90v2.1M221.00 544.40v2.1M39.50 439.50h-2.1M39.50 419.98h-2.1M39.50 400.47h-2.1M39.50 380.95h-2.1M39.50 361.43h-2.1M39.50 341.92h-2.1M39.50 322.40h-2.1M39.50 543.20h-2.1M39.50 524.80h-2.1M39.50 506.40h-2.1M39.50 488.00h-2.1M39.50 469.60h-2.1" stroke="#000" stroke-width="0.8" fill="none"/>
<rect x="145.50" y="309.50" width="71.60" height="26.00" rx="1.6" fill="#fff" fill-opacity="0.85" stroke="#d6d6d6" stroke-width="0.8"/>
<path d="M156.90 311.70V320.50" stroke="#1f77b4" stroke-width="1.50" stroke-opacity="0.60"/>
<circle cx="156.90" cy="316.10" r="1.75" fill="#1f77b4"/>
<path d="M156.90 323.70V332.50" stroke="#ff7f0e" stroke-width="1.50" stroke-opacity="0.60"/>
<path d="M155.35 326.80l3.10 2.60M155.35 329.40l3.10 -2.60" stroke="#ff7f0e" stroke-width="1.15"/>
<clipPath id="ce"><rect x="264.00" y="305.40" width="186.10" height="154.00"/></clipPath>
<g clip-path="url(#ce)">
<path d="M264.00 392.94V398.87M265.55 392.21V398.16M267.10 394.81V400.71M268.65 390.26V396.25M270.20 391.44V397.41M271.75 394.51V400.42M273.31 395.47V401.36M274.86 400.25V406.05M276.41 405.33V411.04M277.96 405.83V411.53M279.51 400.23V406.03M281.06 408.71V414.36M282.61 405.12V410.83M284.16 402.75V408.50M285.71 400.81V406.60M287.26 405.07V410.78M288.81 402.97V408.72M290.36 401.62V407.40M291.92 396.57V402.44M293.47 395.94V401.82M295.02 395.77V401.66M296.57 389.62V395.61M298.12 387.72V393.75M299.67 381.74V387.88M301.22 377.85V384.05M302.77 370.49V376.82M304.32 367.58V373.97M305.87 363.00V369.46M307.42 366.14V372.54M308.97 360.16V366.67M310.52 358.00V364.54M312.08 357.40V363.95M313.63 350.67V357.34M315.18 347.75V354.46M316.73 345.75V352.50M318.28 341.02V347.84M319.83 343.85V350.63M321.38 338.13V344.99M322.93 334.87V341.78M324.48 333.18V340.12M326.03 328.67V335.68M327.58 333.12V340.07M329.13 332.90V339.84M330.69 327.64V334.67M332.24 326.82V333.86M333.79 321.95V329.07M335.34 326.07V333.12M336.89 330.14V337.12M338.44 325.16V332.23M339.99 329.58V336.58M341.54 331.13V338.11M343.09 319.29V326.45M344.64 325.65V332.71M346.19 324.72V331.79M347.75 326.03V333.08M349.30 323.61V330.70M350.85 328.70V335.71M352.40 326.04V333.09M353.95 331.69V338.65M355.50 331.41V338.38M357.05 321.44V328.56M358.60 312.36V319.62M360.15 313.04V320.29M361.70 320.20V327.34M363.25 324.15V331.23M364.80 329.83V336.82M366.36 326.47V333.51M367.91 331.73V338.69M369.46 334.94V341.86M371.01 337.94V344.81M372.56 338.61V345.47M374.11 342.59V349.38M375.66 344.45V351.21M377.21 351.99V358.63M378.76 349.67V356.34M380.31 347.75V354.46M381.86 358.49V365.02M383.41 363.76V370.21M384.97 366.08V372.48M386.52 369.77V376.11M388.07 374.14V380.41M389.62 383.46V389.56M391.17 382.40V388.53M392.72 390.96V396.93M394.27 394.52V400.43M395.82 395.50V401.39M397.37 401.59V407.37M398.92 402.99V408.74M400.47 401.33V407.11M402.02 410.05V415.66M403.58 413.25V418.81M405.13 419.84V425.27M406.68 422.34V427.72M408.23 426.37V431.66M409.78 428.34V433.60M411.33 432.59V437.75M412.88 434.84V439.96M414.43 437.63V442.69M415.98 441.85V446.82M417.53 442.95V447.90M419.08 442.66V447.61M420.63 438.65V443.69M422.19 438.99V444.02M423.74 435.57V440.67M425.29 432.13V437.30M426.84 431.19V436.39M428.39 425.87V431.17M429.94 427.30V432.58M431.49 416.04V421.54M433.04 415.05V420.57M434.59 414.60V420.13M436.14 413.01V418.57M437.69 405.65V411.35M439.24 406.98V412.66M440.80 400.09V405.89M442.35 392.25V398.20M443.90 390.97V396.94M445.45 390.26V396.25M447.00 385.20V391.28M448.55 389.35V395.35" stroke="#1f77b4" stroke-width="1.50" stroke-opacity="0.60" fill="none"/>
<path d="M264.00 395.91a1.75 1.75 0 1 0 0.01 0zM265.55 395.18a1.75 1.75 0 1 0 0.01 0zM267.10 397.76a1.75 1.75 0 1 0 0.01 0zM268.65 393.25a1.75 1.75 0 1 0 0.01 0zM270.20 394.43a1.75 1.75 0 1 0 0.01 0zM271.75 397.46a1.75 1.75 0 1 0 0.01 0zM273.30 398.41a1.75 1.75 0 1 0 0.01 0zM274.85 403.15a1.75 1.75 0 1 0 0.01 0zM276.40 408.19a1.75 1.75 0 1 0 0.01 0zM277.95 408.68a1.75 1.75 0 1 0 0.01 0zM279.50 403.13a1.75 1.75 0 1 0 0.01 0zM281.05 411.53a1.75 1.75 0 1 0 0.01 0zM282.61 407.97a1.75 1.75 0 1 0 0.01 0zM284.16 405.62a1.75 1.75 0 1 0 0.01 0zM285.71 403.71a1.75 1.75 0 1 0 0.01 0zM287.26 407.93a1.75 1.75 0 1 0 0.01 0zM288.81 405.84a1.75 1.75 0 1 0 0.01 0zM290.36 404.51a1.75 1.75 0 1 0 0.01 0zM291.91 399.51a1.75 1.75 0 1 0 0.01 0zM293.46 398.88a1.75 1.75 0 1 0 0.01 0zM295.01 398.72a1.75 1.75 0 1 0 0.01 0zM296.56 392.62a1.75 1.75 0 1 0 0.01 0zM298.11 390.74a1.75 1.75 0 1 0 0.01 0zM299.66 384.81a1.75 1.75 0 1 0 0.01 0zM301.22 380.95a1.75 1.75 0 1 0 0.01 0zM302.77 373.66a1.75 1.75 0 1 0 0.01 0zM304.32 370.78a1.75 1.75 0 1 0 0.01 0zM305.87 366.23a1.75 1.75 0 1 0 0.01 0zM307.42 369.34a1.75 1.75 0 1 0 0.01 0zM308.97 363.41a1.75 1.75 0 1 0 0.01 0zM310.52 361.27a1.75 1.75 0 1 0 0.01 0zM312.07 360.67a1.75 1.75 0 1 0 0.01 0zM313.62 354.00a1.75 1.75 0 1 0 0.01 0zM315.17 351.10a1.75 1.75 0 1 0 0.01 0zM316.72 349.12a1.75 1.75 0 1 0 0.01 0zM318.27 344.43a1.75 1.75 0 1 0 0.01 0zM319.82 347.24a1.75 1.75 0 1 0 0.01 0zM321.38 341.56a1.75 1.75 0 1 0 0.01 0zM322.93 338.33a1.75 1.75 0 1 0 0.01 0zM324.48 336.65a1.75 1.75 0 1 0 0.01 0zM326.03 332.18a1.75 1.75 0 1 0 0.01 0zM327.58 336.60a1.75 1.75 0 1 0 0.01 0zM329.13 336.37a1.75 1.75 0 1 0 0.01 0zM330.68 331.16a1.75 1.75 0 1 0 0.01 0zM332.23 330.34a1.75 1.75 0 1 0 0.01 0zM333.78 325.51a1.75 1.75 0 1 0 0.01 0zM335.33 329.60a1.75 1.75 0 1 0 0.01 0zM336.88 333.63a1.75 1.75 0 1 0 0.01 0zM338.44 328.70a1.75 1.75 0 1 0 0.01 0zM339.99 333.08a1.75 1.75 0 1 0 0.01 0zM341.54 334.62a1.75 1.75 0 1 0 0.01 0zM343.09 322.87a1.75 1.75 0 1 0 0.01 0zM344.64 329.18a1.75 1.75 0 1 0 0.01 0zM346.19 328.25a1.75 1.75 0 1 0 0.01 0zM347.74 329.55a1.75 1.75 0 1 0 0.01 0zM349.29 327.16a1.75 1.75 0 1 0 0.01 0zM350.84 332.20a1.75 1.75 0 1 0 0.01 0zM352.39 329.56a1.75 1.75 0 1 0 0.01 0zM353.94 335.17a1.75 1.75 0 1 0 0.01 0zM355.49 334.89a1.75 1.75 0 1 0 0.01 0zM357.05 325.00a1.75 1.75 0 1 0 0.01 0zM358.60 315.99a1.75 1.75 0 1 0 0.01 0zM360.15 316.67a1.75 1.75 0 1 0 0.01 0zM361.70 323.77a1.75 1.75 0 1 0 0.01 0zM363.25 327.69a1.75 1.75 0 1 0 0.01 0zM364.80 333.32a1.75 1.75 0 1 0 0.01 0zM366.35 329.99a1.75 1.75 0 1 0 0.01 0zM367.90 335.21a1.75 1.75 0 1 0 0.01 0zM369.45 338.40a1.75 1.75 0 1 0 0.01 0zM371.00 341.37a1.75 1.75 0 1 0 0.01 0zM372.55 342.04a1.75 1.75 0 1 0 0.01 0zM374.10 345.98a1.75 1.75 0 1 0 0.01 0zM375.66 347.83a1.75 1.75 0 1 0 0.01 0zM377.21 355.31a1.75 1.75 0 1 0 0.01 0zM378.76 353.01a1.75 1.75 0 1 0 0.01 0zM380.31 351.11a1.75 1.75 0 1 0 0.01 0zM381.86 361.76a1.75 1.75 0 1 0 0.01 0zM383.41 366.98a1.75 1.75 0 1 0 0.01 0zM384.96 369.28a1.75 1.75 0 1 0 0.01 0zM386.51 372.94a1.75 1.75 0 1 0 0.01 0zM388.06 377.27a1.75 1.75 0 1 0 0.01 0zM389.61 386.51a1.75 1.75 0 1 0 0.01 0zM391.16 385.46a1.75 1.75 0 1 0 0.01 0zM392.71 393.95a1.75 1.75 0 1 0 0.01 0zM394.26 397.47a1.75 1.75 0 1 0 0.01 0zM395.82 398.45a1.75 1.75 0 1 0 0.01 0zM397.37 404.48a1.75 1.75 0 1 0 0.01 0zM398.92 405.87a1.75 1.75 0 1 0 0.01 0zM400.47 404.22a1.75 1.75 0 1 0 0.01 0zM402.02 412.86a1.75 1.75 0 1 0 0.01 0zM403.57 416.03a1.75 1.75 0 1 0 0.01 0zM405.12 422.55a1.75 1.75 0 1 0 0.01 0zM406.67 425.03a1.75 1.75 0 1 0 0.01 0zM408.22 429.02a1.75 1.75 0 1 0 0.01 0zM409.77 430.97a1.75 1.75 0 1 0 0.01 0zM411.32 435.17a1.75 1.75 0 1 0 0.01 0zM412.88 437.40a1.75 1.75 0 1 0 0.01 0zM414.43 440.16a1.75 1.75 0 1 0 0.01 0zM415.98 444.33a1.75 1.75 0 1 0 0.01 0zM417.53 445.42a1.75 1.75 0 1 0 0.01 0zM419.08 445.13a1.75 1.75 0 1 0 0.01 0zM420.63 441.17a1.75 1.75 0 1 0 0.01 0zM422.18 441.51a1.75 1.75 0 1 0 0.01 0zM423.73 438.12a1.75 1.75 0 1 0 0.01 0zM425.28 434.72a1.75 1.75 0 1 0 0.01 0zM426.83 433.79a1.75 1.75 0 1 0 0.01 0zM428.38 428.52a1.75 1.75 0 1 0 0.01 0zM429.93 429.94a1.75 1.75 0 1 0 0.01 0zM431.49 418.79a1.75 1.75 0 1 0 0.01 0zM433.04 417.81a1.75 1.75 0 1 0 0.01 0zM434.59 417.37a1.75 1.75 0 1 0 0.01 0zM436.14 415.79a1.75 1.75 0 1 0 0.01 0zM437.69 408.50a1.75 1.75 0 1 0 0.01 0zM439.24 409.82a1.75 1.75 0 1 0 0.01 0zM440.79 402.99a1.75 1.75 0 1 0 0.01 0zM442.34 395.23a1.75 1.75 0 1 0 0.01 0zM443.89 393.96a1.75 1.75 0 1 0 0.01 0zM445.44 393.26a1.75 1.75 0 1 0 0.01 0zM446.99 388.24a1.75 1.75 0 1 0 0.01 0zM448.54 392.35a1.75 1.75 0 1 0 0.01 0z" fill="#1f77b4"/>
<path d="M264.00 384.00V390.10M265.55 384.77V390.85M267.10 387.07V393.12M268.65 380.86V387.01M270.20 376.17V382.40M271.75 392.98V398.91M273.31 393.83V399.75M274.86 386.99V393.04M276.41 385.29V391.37M277.96 388.05V394.08M279.51 383.48V389.58M281.06 392.21V398.16M282.61 397.69V403.54M284.16 395.44V401.33M285.71 397.52V403.37M287.26 396.38V402.25M288.81 390.10V396.09M290.36 392.47V398.42M291.92 388.21V394.23M293.47 389.90V395.89M295.02 375.33V381.58M296.57 382.08V388.21M298.12 371.40V377.72M299.67 373.54V379.82M301.22 371.46V377.78M302.77 366.52V372.92M304.32 362.63V369.09M305.87 359.18V365.71M307.42 353.08V359.70M308.97 355.18V361.76M310.52 350.28V356.95M312.08 351.53V358.18M313.63 343.28V350.06M315.18 341.51V348.32M316.73 339.76V346.60M318.28 335.09V342.00M319.83 332.73V339.67M321.38 330.32V337.30M322.93 328.34V335.36M324.48 330.30V337.29M326.03 329.50V336.50M327.58 321.98V329.09M329.13 328.37V335.39M330.69 322.63V329.73M332.24 313.94V321.18M333.79 329.42V336.42M335.34 322.58V329.68M336.89 318.18V325.35M338.44 327.17V334.20M339.99 312.44V319.69M341.54 331.47V338.44M343.09 317.53V324.72M344.64 317.72V324.90M346.19 321.10V328.23M347.75 327.29V334.32M349.30 327.56V334.59M350.85 333.51V340.45M352.40 326.57V333.62M353.95 329.79V336.78M355.50 326.32V333.37M357.05 323.66V330.74M358.60 334.00V340.93M360.15 335.51V342.42M361.70 336.82V343.70M363.25 343.49V350.27M364.80 335.87V342.77M366.36 339.73V346.56M367.91 347.54V354.25M369.46 344.67V351.43M371.01 349.79V356.47M372.56 352.24V358.88M374.11 352.62V359.25M375.66 358.20V364.74M377.21 355.81V362.38M378.76 364.56V370.99M380.31 362.46V368.93M381.86 369.22V375.57M383.41 370.08V376.42M384.97 378.75V384.94M386.52 384.20V390.29M388.07 393.06V399.00M389.62 394.65V400.56M391.17 398.79V404.62M392.72 398.90V404.73M394.27 404.24V409.96M395.82 410.20V415.81M397.37 414.81V420.33M398.92 416.51V422.00M400.47 420.81V426.22M402.02 419.49V424.93M403.58 423.26V428.62M405.13 430.18V435.40M406.68 431.98V437.16M408.23 429.28V434.52M409.78 434.81V439.93M411.33 438.44V443.48M412.88 435.95V441.05M414.43 439.89V444.90M415.98 439.22V444.25M417.53 439.08V444.11M419.08 442.18V447.14M420.63 434.09V439.22M422.19 438.16V443.21M423.74 434.77V439.89M425.29 433.16V438.31M426.84 426.96V432.24M428.39 426.63V431.92M429.94 423.95V429.29M431.49 425.82V431.13M433.04 418.43V423.89M434.59 419.06V424.50M436.14 410.73V416.33M437.69 406.98V412.66M439.24 403.98V409.71M440.80 393.80V399.73M442.35 394.61V400.52M443.90 391.81V397.77M445.45 391.21V397.18M447.00 390.68V396.66M448.55 386.23V392.29" stroke="#ff7f0e" stroke-width="1.50" stroke-opacity="0.60" fill="none"/>
<path d="M262.45 385.75l3.10 2.60M262.45 388.35l3.10 -2.60M264.00 386.51l3.10 2.60M264.00 389.11l3.10 -2.60M265.55 388.80l3.10 2.60M265.55 391.40l3.10 -2.60M267.10 382.63l3.10 2.60M267.10 385.23l3.10 -2.60M268.65 377.98l3.10 2.60M268.65 380.58l3.10 -2.60M270.20 394.65l3.10 2.60M270.20 397.25l3.10 -2.60M271.75 395.49l3.10 2.60M271.75 398.09l3.10 -2.60M273.31 388.72l3.10 2.60M273.31 391.32l3.10 -2.60M274.86 387.03l3.10 2.60M274.86 389.63l3.10 -2.60M276.41 389.77l3.10 2.60M276.41 392.37l3.10 -2.60M277.96 385.23l3.10 2.60M277.96 387.83l3.10 -2.60M279.51 393.88l3.10 2.60M279.51 396.48l3.10 -2.60M281.06 399.32l3.10 2.60M281.06 401.92l3.10 -2.60M282.61 397.09l3.10 2.60M282.61 399.69l3.10 -2.60M284.16 399.14l3.10 2.60M284.16 401.74l3.10 -2.60M285.71 398.02l3.10 2.60M285.71 400.62l3.10 -2.60M287.26 391.79l3.10 2.60M287.26 394.39l3.10 -2.60M288.81 394.15l3.10 2.60M288.81 396.75l3.10 -2.60M290.37 389.92l3.10 2.60M290.37 392.52l3.10 -2.60M291.92 391.59l3.10 2.60M291.92 394.19l3.10 -2.60M293.47 377.16l3.10 2.60M293.47 379.76l3.10 -2.60M295.02 383.84l3.10 2.60M295.02 386.44l3.10 -2.60M296.57 373.26l3.10 2.60M296.57 375.86l3.10 -2.60M298.12 375.38l3.10 2.60M298.12 377.98l3.10 -2.60M299.67 373.32l3.10 2.60M299.67 375.92l3.10 -2.60M301.22 368.42l3.10 2.60M301.22 371.02l3.10 -2.60M302.77 364.56l3.10 2.60M302.77 367.16l3.10 -2.60M304.32 361.15l3.10 2.60M304.32 363.75l3.10 -2.60M305.87 355.09l3.10 2.60M305.87 357.69l3.10 -2.60M307.42 357.17l3.10 2.60M307.42 359.77l3.10 -2.60M308.97 352.32l3.10 2.60M308.97 354.92l3.10 -2.60M310.53 353.55l3.10 2.60M310.53 356.15l3.10 -2.60M312.08 345.37l3.10 2.60M312.08 347.97l3.10 -2.60M313.63 343.61l3.10 2.60M313.63 346.21l3.10 -2.60M315.18 341.88l3.10 2.60M315.18 344.48l3.10 -2.60M316.73 337.25l3.10 2.60M316.73 339.85l3.10 -2.60M318.28 334.90l3.10 2.60M318.28 337.50l3.10 -2.60M319.83 332.51l3.10 2.60M319.83 335.11l3.10 -2.60M321.38 330.55l3.10 2.60M321.38 333.15l3.10 -2.60M322.93 332.49l3.10 2.60M322.93 335.09l3.10 -2.60M324.48 331.70l3.10 2.60M324.48 334.30l3.10 -2.60M326.03 324.23l3.10 2.60M326.03 326.83l3.10 -2.60M327.58 330.58l3.10 2.60M327.58 333.18l3.10 -2.60M329.14 324.88l3.10 2.60M329.14 327.48l3.10 -2.60M330.69 316.26l3.10 2.60M330.69 318.86l3.10 -2.60M332.24 331.62l3.10 2.60M332.24 334.22l3.10 -2.60M333.79 324.83l3.10 2.60M333.79 327.43l3.10 -2.60M335.34 320.46l3.10 2.60M335.34 323.06l3.10 -2.60M336.89 329.38l3.10 2.60M336.89 331.98l3.10 -2.60M338.44 314.76l3.10 2.60M338.44 317.36l3.10 -2.60M339.99 333.65l3.10 2.60M339.99 336.25l3.10 -2.60M341.54 319.83l3.10 2.60M341.54 322.43l3.10 -2.60M343.09 320.01l3.10 2.60M343.09 322.61l3.10 -2.60M344.64 323.36l3.10 2.60M344.64 325.96l3.10 -2.60M346.19 329.50l3.10 2.60M346.19 332.10l3.10 -2.60M347.75 329.78l3.10 2.60M347.75 332.38l3.10 -2.60M349.30 335.68l3.10 2.60M349.30 338.28l3.10 -2.60M350.85 328.79l3.10 2.60M350.85 331.39l3.10 -2.60M352.40 331.99l3.10 2.60M352.40 334.59l3.10 -2.60M353.95 328.55l3.10 2.60M353.95 331.15l3.10 -2.60M355.50 325.90l3.10 2.60M355.50 328.50l3.10 -2.60M357.05 336.17l3.10 2.60M357.05 338.77l3.10 -2.60M358.60 337.66l3.10 2.60M358.60 340.26l3.10 -2.60M360.15 338.96l3.10 2.60M360.15 341.56l3.10 -2.60M361.70 345.58l3.10 2.60M361.70 348.18l3.10 -2.60M363.25 338.02l3.10 2.60M363.25 340.62l3.10 -2.60M364.81 341.85l3.10 2.60M364.81 344.45l3.10 -2.60M366.36 349.60l3.10 2.60M366.36 352.20l3.10 -2.60M367.91 346.75l3.10 2.60M367.91 349.35l3.10 -2.60M369.46 351.83l3.10 2.60M369.46 354.43l3.10 -2.60M371.01 354.26l3.10 2.60M371.01 356.86l3.10 -2.60M372.56 354.64l3.10 2.60M372.56 357.24l3.10 -2.60M374.11 360.17l3.10 2.60M374.11 362.77l3.10 -2.60M375.66 357.79l3.10 2.60M375.66 360.39l3.10 -2.60M377.21 366.48l3.10 2.60M377.21 369.08l3.10 -2.60M378.76 364.40l3.10 2.60M378.76 367.00l3.10 -2.60M380.31 371.09l3.10 2.60M380.31 373.69l3.10 -2.60M381.86 371.95l3.10 2.60M381.86 374.55l3.10 -2.60M383.42 380.55l3.10 2.60M383.42 383.15l3.10 -2.60M384.97 385.95l3.10 2.60M384.97 388.55l3.10 -2.60M386.52 394.73l3.10 2.60M386.52 397.33l3.10 -2.60M388.07 396.31l3.10 2.60M388.07 398.91l3.10 -2.60M389.62 400.41l3.10 2.60M389.62 403.01l3.10 -2.60M391.17 400.52l3.10 2.60M391.17 403.12l3.10 -2.60M392.72 405.80l3.10 2.60M392.72 408.40l3.10 -2.60M394.27 411.71l3.10 2.60M394.27 414.31l3.10 -2.60M395.82 416.27l3.10 2.60M395.82 418.87l3.10 -2.60M397.37 417.95l3.10 2.60M397.37 420.55l3.10 -2.60M398.92 422.21l3.10 2.60M398.92 424.81l3.10 -2.60M400.47 420.91l3.10 2.60M400.47 423.51l3.10 -2.60M402.03 424.64l3.10 2.60M402.03 427.24l3.10 -2.60M403.58 431.49l3.10 2.60M403.58 434.09l3.10 -2.60M405.13 433.27l3.10 2.60M405.13 435.87l3.10 -2.60M406.68 430.60l3.10 2.60M406.68 433.20l3.10 -2.60M408.23 436.07l3.10 2.60M408.23 438.67l3.10 -2.60M409.78 439.66l3.10 2.60M409.78 442.26l3.10 -2.60M411.33 437.20l3.10 2.60M411.33 439.80l3.10 -2.60M412.88 441.09l3.10 2.60M412.88 443.69l3.10 -2.60M414.43 440.43l3.10 2.60M414.43 443.03l3.10 -2.60M415.98 440.29l3.10 2.60M415.98 442.89l3.10 -2.60M417.53 443.36l3.10 2.60M417.53 445.96l3.10 -2.60M419.08 435.35l3.10 2.60M419.08 437.95l3.10 -2.60M420.63 439.38l3.10 2.60M420.63 441.98l3.10 -2.60M422.19 436.03l3.10 2.60M422.19 438.63l3.10 -2.60M423.74 434.44l3.10 2.60M423.74 437.04l3.10 -2.60M425.29 428.30l3.10 2.60M425.29 430.90l3.10 -2.60M426.84 427.98l3.10 2.60M426.84 430.58l3.10 -2.60M428.39 425.32l3.10 2.60M428.39 427.92l3.10 -2.60M429.94 427.18l3.10 2.60M429.94 429.78l3.10 -2.60M431.49 419.86l3.10 2.60M431.49 422.46l3.10 -2.60M433.04 420.48l3.10 2.60M433.04 423.08l3.10 -2.60M434.59 412.23l3.10 2.60M434.59 414.83l3.10 -2.60M436.14 408.52l3.10 2.60M436.14 411.12l3.10 -2.60M437.69 405.55l3.10 2.60M437.69 408.15l3.10 -2.60M439.25 395.47l3.10 2.60M439.25 398.07l3.10 -2.60M440.80 396.26l3.10 2.60M440.80 398.86l3.10 -2.60M442.35 393.49l3.10 2.60M442.35 396.09l3.10 -2.60M443.90 392.89l3.10 2.60M443.90 395.49l3.10 -2.60M445.45 392.37l3.10 2.60M445.45 394.97l3.10 -2.60M447.00 387.96l3.10 2.60M447.00 390.56l3.10 -2.60" stroke="#ff7f0e" stroke-width="1.15" fill="none"/>
</g>
<clipPath id="re"><rect x="264.00" y="467.50" width="186.10" height="77.30"/></clipPath>
<g clip-path="url(#re)">
<path d="M264.00 535.78H450.10" stroke="#000" stroke-width="0.9" stroke-dasharray="3.4 1.5" fill="none"/>
<path d="M264.00 477.02H450.10" stroke="#000" stroke-width="0.9" stroke-dasharray="3.4 1.5" fill="none"/>
<path d="M264.00 506.40H450.10" stroke="#000" stroke-width="1.0" fill="none"/>
<path d="M265.06 474.70V494.98M266.43 477.27V497.89M267.80 484.81V501.33M269.18 490.00V501.64M270.55 479.07V490.61M271.92 496.03V517.56M273.29 494.46V513.65M274.66 490.08V507.05M276.04 489.68V504.70M277.82 473.74V490.45M279.19 479.24V495.93M280.57 487.45V502.82M281.94 488.79V502.84M283.58 482.88V507.38M285.64 506.31V523.75M287.43 480.39V494.78M288.80 485.09V496.94M290.17 477.87V491.81M291.54 473.17V492.40M293.47 485.45V504.82M295.25 466.65V482.45M296.62 464.09V480.88M297.99 470.24V485.72M299.37 486.11V498.66M300.74 488.57V509.93M302.11 491.64V509.60M303.48 481.62V507.27M304.86 479.98V493.82M306.23 487.77V503.87M307.60 482.48V502.30M308.97 490.71V506.42M310.34 491.42V502.96M312.13 504.35V517.48M313.78 483.22V500.19M315.15 485.52V503.37M316.52 493.87V510.12M318.17 470.59V490.86M319.54 492.57V512.79M320.64 491.05V508.82M322.28 492.96V509.66M323.38 497.59V513.26M324.75 483.08V501.69M326.13 486.53V506.48M327.50 492.90V509.72M329.15 513.46V531.70M330.52 500.46V515.88M332.30 485.29V496.74M333.67 512.68V525.62M335.05 486.12V505.52M336.42 499.05V517.29M338.20 492.16V514.57M339.85 506.63V523.43M341.50 481.82V501.58M342.87 500.20V521.63M344.65 493.94V514.17M346.02 500.98V515.36M347.40 505.70V521.62M348.77 502.38V519.45M350.14 497.55V510.55M352.20 501.75V520.08M354.26 491.14V511.48M356.69 495.94V510.79M358.47 516.85V540.66M360.12 512.06V527.60M361.76 529.06V544.92M363.14 517.46V533.19M364.51 503.91V517.92M365.88 505.97V524.09M367.66 514.93V531.60M369.45 500.27V522.93M370.82 509.05V527.87M372.19 503.00V521.57M373.57 499.59V515.38M375.21 510.69V522.12M376.58 511.01V527.28M377.96 511.71V525.21M379.60 509.80V529.87M381.39 515.02V531.51M383.45 483.10V505.79M384.82 510.88V530.16M385.92 514.81V534.46M387.56 504.94V522.38M389.21 504.98V522.34M390.99 526.12V545.11M392.78 512.59V532.56M394.15 527.24V541.25M395.80 494.85V513.25M397.17 513.61V539.78M398.54 511.01V527.28M399.91 509.94V525.61M401.56 527.21V541.28M403.34 520.35V531.66M405.13 515.54V536.48M406.78 501.82V518.64M408.15 484.23V501.92M409.52 477.97V501.31M411.58 502.15V527.91M412.54 501.49V514.85M414.73 486.28V506.73M416.11 487.07V505.94M417.48 492.96V511.02M418.85 492.13V510.48M420.22 490.30V506.82M421.60 481.18V503.59M423.24 485.02V503.87M425.30 522.56V540.43M427.09 498.96V520.12M428.46 493.42V513.31M429.83 485.30V503.59M431.20 493.09V510.90M432.85 490.48V513.50M434.50 509.91V528.38M436.28 501.40V517.68M437.65 502.80V516.28M439.44 501.18V516.53M440.81 501.78V514.56M442.46 505.84V522.85M444.10 498.02V515.57M445.47 491.94V501.07M447.26 499.83V516.51M449.04 502.80V521.78" stroke="#000" stroke-width="1.2" stroke-opacity="0.8" fill="none"/>
<path d="M265.05 484.84a1.05 1.05 0 1 0 0.01 0zM266.43 487.58a1.05 1.05 0 1 0 0.01 0zM267.80 493.07a1.05 1.05 0 1 0 0.01 0zM269.17 495.82a1.05 1.05 0 1 0 0.01 0zM270.54 484.84a1.05 1.05 0 1 0 0.01 0zM271.91 506.80a1.05 1.05 0 1 0 0.01 0zM273.29 504.05a1.05 1.05 0 1 0 0.01 0zM274.66 498.56a1.05 1.05 0 1 0 0.01 0zM276.03 497.19a1.05 1.05 0 1 0 0.01 0zM277.82 482.10a1.05 1.05 0 1 0 0.01 0zM279.19 487.58a1.05 1.05 0 1 0 0.01 0zM280.56 495.13a1.05 1.05 0 1 0 0.01 0zM281.93 495.82a1.05 1.05 0 1 0 0.01 0zM283.58 495.13a1.05 1.05 0 1 0 0.01 0zM285.64 515.03a1.05 1.05 0 1 0 0.01 0zM287.42 487.58a1.05 1.05 0 1 0 0.01 0zM288.79 491.02a1.05 1.05 0 1 0 0.01 0zM290.17 484.84a1.05 1.05 0 1 0 0.01 0zM291.54 482.78a1.05 1.05 0 1 0 0.01 0zM293.46 495.13a1.05 1.05 0 1 0 0.01 0zM295.24 474.55a1.05 1.05 0 1 0 0.01 0zM296.62 472.49a1.05 1.05 0 1 0 0.01 0zM297.99 477.98a1.05 1.05 0 1 0 0.01 0zM299.36 492.39a1.05 1.05 0 1 0 0.01 0zM300.73 499.25a1.05 1.05 0 1 0 0.01 0zM302.11 500.62a1.05 1.05 0 1 0 0.01 0zM303.48 494.45a1.05 1.05 0 1 0 0.01 0zM304.85 486.90a1.05 1.05 0 1 0 0.01 0zM306.22 495.82a1.05 1.05 0 1 0 0.01 0zM307.59 492.39a1.05 1.05 0 1 0 0.01 0zM308.97 498.56a1.05 1.05 0 1 0 0.01 0zM310.34 497.19a1.05 1.05 0 1 0 0.01 0zM312.12 510.91a1.05 1.05 0 1 0 0.01 0zM313.77 491.70a1.05 1.05 0 1 0 0.01 0zM315.14 494.45a1.05 1.05 0 1 0 0.01 0zM316.51 501.99a1.05 1.05 0 1 0 0.01 0zM318.16 480.72a1.05 1.05 0 1 0 0.01 0zM319.53 502.68a1.05 1.05 0 1 0 0.01 0zM320.63 499.94a1.05 1.05 0 1 0 0.01 0zM322.28 501.31a1.05 1.05 0 1 0 0.01 0zM323.38 505.42a1.05 1.05 0 1 0 0.01 0zM324.75 492.39a1.05 1.05 0 1 0 0.01 0zM326.12 496.50a1.05 1.05 0 1 0 0.01 0zM327.49 501.31a1.05 1.05 0 1 0 0.01 0zM329.14 522.58a1.05 1.05 0 1 0 0.01 0zM330.51 508.17a1.05 1.05 0 1 0 0.01 0zM332.30 491.02a1.05 1.05 0 1 0 0.01 0zM333.67 519.15a1.05 1.05 0 1 0 0.01 0zM335.04 495.82a1.05 1.05 0 1 0 0.01 0zM336.41 508.17a1.05 1.05 0 1 0 0.01 0zM338.20 503.37a1.05 1.05 0 1 0 0.01 0zM339.84 515.03a1.05 1.05 0 1 0 0.01 0zM341.49 491.70a1.05 1.05 0 1 0 0.01 0zM342.86 510.91a1.05 1.05 0 1 0 0.01 0zM344.65 504.05a1.05 1.05 0 1 0 0.01 0zM346.02 508.17a1.05 1.05 0 1 0 0.01 0zM347.39 513.66a1.05 1.05 0 1 0 0.01 0zM348.76 510.91a1.05 1.05 0 1 0 0.01 0zM350.14 504.05a1.05 1.05 0 1 0 0.01 0zM352.19 510.91a1.05 1.05 0 1 0 0.01 0zM354.25 501.31a1.05 1.05 0 1 0 0.01 0zM356.68 503.37a1.05 1.05 0 1 0 0.01 0zM358.47 528.75a1.05 1.05 0 1 0 0.01 0zM360.11 519.83a1.05 1.05 0 1 0 0.01 0zM361.76 536.99a1.05 1.05 0 1 0 0.01 0zM363.13 525.32a1.05 1.05 0 1 0 0.01 0zM364.50 510.91a1.05 1.05 0 1 0 0.01 0zM365.88 515.03a1.05 1.05 0 1 0 0.01 0zM367.66 523.26a1.05 1.05 0 1 0 0.01 0zM369.44 511.60a1.05 1.05 0 1 0 0.01 0zM370.82 518.46a1.05 1.05 0 1 0 0.01 0zM372.19 512.29a1.05 1.05 0 1 0 0.01 0zM373.56 507.48a1.05 1.05 0 1 0 0.01 0zM375.21 516.40a1.05 1.05 0 1 0 0.01 0zM376.58 519.15a1.05 1.05 0 1 0 0.01 0zM377.95 518.46a1.05 1.05 0 1 0 0.01 0zM379.60 519.83a1.05 1.05 0 1 0 0.01 0zM381.38 523.26a1.05 1.05 0 1 0 0.01 0zM383.44 494.45a1.05 1.05 0 1 0 0.01 0zM384.81 520.52a1.05 1.05 0 1 0 0.01 0zM385.91 524.64a1.05 1.05 0 1 0 0.01 0zM387.56 513.66a1.05 1.05 0 1 0 0.01 0zM389.20 513.66a1.05 1.05 0 1 0 0.01 0zM390.99 535.62a1.05 1.05 0 1 0 0.01 0zM392.77 522.58a1.05 1.05 0 1 0 0.01 0zM394.15 534.24a1.05 1.05 0 1 0 0.01 0zM395.79 504.05a1.05 1.05 0 1 0 0.01 0zM397.16 526.70a1.05 1.05 0 1 0 0.01 0zM398.54 519.15a1.05 1.05 0 1 0 0.01 0zM399.91 517.78a1.05 1.05 0 1 0 0.01 0zM401.56 534.24a1.05 1.05 0 1 0 0.01 0zM403.34 526.01a1.05 1.05 0 1 0 0.01 0zM405.12 526.01a1.05 1.05 0 1 0 0.01 0zM406.77 510.23a1.05 1.05 0 1 0 0.01 0zM408.14 493.07a1.05 1.05 0 1 0 0.01 0zM409.51 489.64a1.05 1.05 0 1 0 0.01 0zM411.57 515.03a1.05 1.05 0 1 0 0.01 0zM412.53 508.17a1.05 1.05 0 1 0 0.01 0zM414.73 496.50a1.05 1.05 0 1 0 0.01 0zM416.10 496.50a1.05 1.05 0 1 0 0.01 0zM417.47 501.99a1.05 1.05 0 1 0 0.01 0zM418.85 501.31a1.05 1.05 0 1 0 0.01 0zM420.22 498.56a1.05 1.05 0 1 0 0.01 0zM421.59 492.39a1.05 1.05 0 1 0 0.01 0zM423.24 494.45a1.05 1.05 0 1 0 0.01 0zM425.30 531.50a1.05 1.05 0 1 0 0.01 0zM427.08 509.54a1.05 1.05 0 1 0 0.01 0zM428.45 503.37a1.05 1.05 0 1 0 0.01 0zM429.83 494.45a1.05 1.05 0 1 0 0.01 0zM431.20 501.99a1.05 1.05 0 1 0 0.01 0zM432.84 501.99a1.05 1.05 0 1 0 0.01 0zM434.49 519.15a1.05 1.05 0 1 0 0.01 0zM436.27 509.54a1.05 1.05 0 1 0 0.01 0zM437.65 509.54a1.05 1.05 0 1 0 0.01 0zM439.43 508.86a1.05 1.05 0 1 0 0.01 0zM440.80 508.17a1.05 1.05 0 1 0 0.01 0zM442.45 514.34a1.05 1.05 0 1 0 0.01 0zM444.10 506.80a1.05 1.05 0 1 0 0.01 0zM445.47 496.50a1.05 1.05 0 1 0 0.01 0zM447.25 508.17a1.05 1.05 0 1 0 0.01 0zM449.04 512.29a1.05 1.05 0 1 0 0.01 0z" fill="#000"/>
</g>
<rect x="264.00" y="305.40" width="186.10" height="154.00" fill="none" stroke="#000" stroke-width="0.95"/>
<rect x="264.00" y="467.50" width="186.10" height="77.30" fill="none" stroke="#000" stroke-width="0.95"/>
<path d="M264.00 459.40v2.1M264.00 544.80v2.1M295.02 459.40v2.1M295.02 544.80v2.1M326.03 459.40v2.1M326.03 544.80v2.1M357.05 459.40v2.1M357.05 544.80v2.1M388.07 459.40v2.1M388.07 544.80v2.1M419.08 459.40v2.1M419.08 544.80v2.1M450.10 459.40v2.1M450.10 544.80v2.1M264.00 448.50h-2.1M264.00 421.24h-2.1M264.00 393.98h-2.1M264.00 366.72h-2.1M264.00 339.46h-2.1M264.00 312.20h-2.1M264.00 532.40h-2.1M264.00 506.40h-2.1M264.00 480.40h-2.1" stroke="#000" stroke-width="0.8" fill="none"/>
<rect x="374.50" y="309.50" width="71.30" height="25.70" rx="1.6" fill="#fff" fill-opacity="0.85" stroke="#d6d6d6" stroke-width="0.8"/>
<path d="M385.90 311.70V320.50" stroke="#1f77b4" stroke-width="1.50" stroke-opacity="0.60"/>
<circle cx="385.90" cy="316.10" r="1.75" fill="#1f77b4"/>
<path d="M385.90 323.70V332.50" stroke="#ff7f0e" stroke-width="1.50" stroke-opacity="0.60"/>
<path d="M384.35 326.80l3.10 2.60M384.35 329.40l3.10 -2.60" stroke="#ff7f0e" stroke-width="1.15"/>
<clipPath id="cf"><rect x="493.30" y="305.40" width="185.90" height="154.10"/></clipPath>
<g clip-path="url(#cf)">
<path d="M493.30 404.44V419.33M494.85 410.26V424.81M496.40 396.32V411.68M497.95 407.10V421.84M499.50 409.42V424.01M501.05 407.63V422.33M502.60 400.04V415.18M504.14 392.80V408.36M505.69 390.83V406.50M507.24 396.73V412.07M508.79 407.73V422.43M510.34 408.19V422.86M511.89 412.53V426.93M513.44 408.32V422.98M514.99 412.51V426.91M516.54 394.62V410.08M518.09 388.52V404.32M519.64 393.86V409.36M521.19 391.00V406.66M522.73 400.39V415.52M524.28 403.78V418.71M525.83 391.62V407.25M527.38 370.84V387.60M528.93 370.80V387.56M530.48 381.87V398.04M532.03 371.51V388.23M533.58 374.02V390.61M535.13 354.30V371.90M536.68 362.01V379.22M538.23 370.68V387.45M539.77 362.86V380.03M541.32 371.98V388.68M542.87 370.77V387.52M544.42 369.35V386.18M545.97 349.92V367.74M547.52 346.13V364.14M549.07 340.89V359.16M550.62 341.13V359.38M552.17 329.18V348.00M553.72 345.02V363.08M555.27 348.74V366.62M556.82 333.79V352.39M558.37 329.23V348.04M559.91 329.97V348.76M561.46 330.29V349.06M563.01 330.65V349.40M564.56 330.44V349.20M566.11 337.92V356.32M567.66 329.49V348.29M569.21 349.35V367.20M570.76 330.49V349.25M572.31 338.90V357.25M573.86 328.06V346.94M575.41 341.30V359.54M576.96 333.34V351.96M578.50 345.01V363.07M580.05 349.94V367.76M581.60 347.11V365.07M583.15 342.50V360.68M584.70 344.35V362.45M586.25 326.25V345.21M587.80 323.19V342.29M589.35 331.11V349.84M590.90 343.27V361.42M592.45 339.19V357.54M594.00 345.00V363.07M595.55 331.16V349.89M597.09 341.00V359.25M598.64 341.68V359.91M600.19 350.07V367.88M601.74 363.67V380.79M603.29 357.36V374.81M604.84 362.37V379.56M606.39 355.09V372.65M607.94 360.74V378.02M609.49 373.08V389.72M611.04 376.60V393.05M612.59 366.36V383.35M614.13 382.05V398.21M615.68 380.56V396.80M617.23 375.31V391.83M618.78 381.58V397.76M620.33 387.86V403.70M621.88 389.77V405.50M623.43 386.29V402.21M624.98 409.76V424.33M626.53 401.22V416.30M628.08 403.88V418.80M629.63 409.53V424.12M631.18 414.66V428.93M632.73 416.98V431.11M634.27 408.52V423.17M635.82 415.62V429.84M637.37 413.06V427.43M638.92 414.12V428.42M640.47 417.75V431.84M642.02 424.28V437.95M643.57 422.07V435.89M645.12 428.94V442.31M646.67 427.53V440.99M648.22 427.99V441.42M649.77 432.48V445.62M651.32 430.99V444.23M652.86 431.56V444.76M654.41 424.08V437.76M655.96 427.84V441.28M657.51 427.80V441.25M659.06 418.29V432.34M660.61 414.44V428.73M662.16 425.76V439.33M663.71 405.46V420.29M665.26 414.12V428.43M666.81 414.32V428.62M668.36 407.25V421.97M669.90 412.76V427.15M671.45 417.20V431.31M673.00 402.94V417.92M674.55 423.01V436.76M676.10 418.38V432.43M677.65 411.71V426.16" stroke="#1f77b4" stroke-width="1.50" stroke-opacity="0.60" fill="none"/>
<path d="M493.30 411.89a1.75 1.75 0 1 0 0.01 0zM494.84 417.54a1.75 1.75 0 1 0 0.01 0zM496.39 404.00a1.75 1.75 0 1 0 0.01 0zM497.94 414.47a1.75 1.75 0 1 0 0.01 0zM499.49 416.71a1.75 1.75 0 1 0 0.01 0zM501.04 414.98a1.75 1.75 0 1 0 0.01 0zM502.59 407.61a1.75 1.75 0 1 0 0.01 0zM504.14 400.58a1.75 1.75 0 1 0 0.01 0zM505.69 398.67a1.75 1.75 0 1 0 0.01 0zM507.24 404.40a1.75 1.75 0 1 0 0.01 0zM508.79 415.08a1.75 1.75 0 1 0 0.01 0zM510.34 415.53a1.75 1.75 0 1 0 0.01 0zM511.88 419.73a1.75 1.75 0 1 0 0.01 0zM513.43 415.65a1.75 1.75 0 1 0 0.01 0zM514.98 419.71a1.75 1.75 0 1 0 0.01 0zM516.53 402.35a1.75 1.75 0 1 0 0.01 0zM518.08 396.42a1.75 1.75 0 1 0 0.01 0zM519.63 401.61a1.75 1.75 0 1 0 0.01 0zM521.18 398.83a1.75 1.75 0 1 0 0.01 0zM522.73 407.95a1.75 1.75 0 1 0 0.01 0zM524.28 411.24a1.75 1.75 0 1 0 0.01 0zM525.83 399.44a1.75 1.75 0 1 0 0.01 0zM527.38 379.22a1.75 1.75 0 1 0 0.01 0zM528.93 379.18a1.75 1.75 0 1 0 0.01 0zM530.48 389.96a1.75 1.75 0 1 0 0.01 0zM532.02 379.87a1.75 1.75 0 1 0 0.01 0zM533.57 382.31a1.75 1.75 0 1 0 0.01 0zM535.12 363.10a1.75 1.75 0 1 0 0.01 0zM536.67 370.61a1.75 1.75 0 1 0 0.01 0zM538.22 379.06a1.75 1.75 0 1 0 0.01 0zM539.77 371.45a1.75 1.75 0 1 0 0.01 0zM541.32 380.33a1.75 1.75 0 1 0 0.01 0zM542.87 379.15a1.75 1.75 0 1 0 0.01 0zM544.42 377.76a1.75 1.75 0 1 0 0.01 0zM545.97 358.83a1.75 1.75 0 1 0 0.01 0zM547.52 355.14a1.75 1.75 0 1 0 0.01 0zM549.07 350.03a1.75 1.75 0 1 0 0.01 0zM550.61 350.25a1.75 1.75 0 1 0 0.01 0zM552.16 338.59a1.75 1.75 0 1 0 0.01 0zM553.71 354.05a1.75 1.75 0 1 0 0.01 0zM555.26 357.68a1.75 1.75 0 1 0 0.01 0zM556.81 343.09a1.75 1.75 0 1 0 0.01 0zM558.36 338.63a1.75 1.75 0 1 0 0.01 0zM559.91 339.37a1.75 1.75 0 1 0 0.01 0zM561.46 339.68a1.75 1.75 0 1 0 0.01 0zM563.01 340.02a1.75 1.75 0 1 0 0.01 0zM564.56 339.82a1.75 1.75 0 1 0 0.01 0zM566.11 347.12a1.75 1.75 0 1 0 0.01 0zM567.65 338.89a1.75 1.75 0 1 0 0.01 0zM569.20 358.28a1.75 1.75 0 1 0 0.01 0zM570.75 339.87a1.75 1.75 0 1 0 0.01 0zM572.30 348.07a1.75 1.75 0 1 0 0.01 0zM573.85 337.50a1.75 1.75 0 1 0 0.01 0zM575.40 350.42a1.75 1.75 0 1 0 0.01 0zM576.95 342.65a1.75 1.75 0 1 0 0.01 0zM578.50 354.04a1.75 1.75 0 1 0 0.01 0zM580.05 358.85a1.75 1.75 0 1 0 0.01 0zM581.60 356.09a1.75 1.75 0 1 0 0.01 0zM583.15 351.59a1.75 1.75 0 1 0 0.01 0zM584.70 353.40a1.75 1.75 0 1 0 0.01 0zM586.25 335.73a1.75 1.75 0 1 0 0.01 0zM587.79 332.74a1.75 1.75 0 1 0 0.01 0zM589.34 340.48a1.75 1.75 0 1 0 0.01 0zM590.89 352.35a1.75 1.75 0 1 0 0.01 0zM592.44 348.36a1.75 1.75 0 1 0 0.01 0zM593.99 354.03a1.75 1.75 0 1 0 0.01 0zM595.54 340.52a1.75 1.75 0 1 0 0.01 0zM597.09 350.13a1.75 1.75 0 1 0 0.01 0zM598.64 350.80a1.75 1.75 0 1 0 0.01 0zM600.19 358.98a1.75 1.75 0 1 0 0.01 0zM601.74 372.23a1.75 1.75 0 1 0 0.01 0zM603.29 366.09a1.75 1.75 0 1 0 0.01 0zM604.84 370.96a1.75 1.75 0 1 0 0.01 0zM606.38 363.87a1.75 1.75 0 1 0 0.01 0zM607.93 369.38a1.75 1.75 0 1 0 0.01 0zM609.48 381.40a1.75 1.75 0 1 0 0.01 0zM611.03 384.82a1.75 1.75 0 1 0 0.01 0zM612.58 374.86a1.75 1.75 0 1 0 0.01 0zM614.13 390.13a1.75 1.75 0 1 0 0.01 0zM615.68 388.68a1.75 1.75 0 1 0 0.01 0zM617.23 383.57a1.75 1.75 0 1 0 0.01 0zM618.78 389.67a1.75 1.75 0 1 0 0.01 0zM620.33 395.78a1.75 1.75 0 1 0 0.01 0zM621.88 397.63a1.75 1.75 0 1 0 0.01 0zM623.43 394.25a1.75 1.75 0 1 0 0.01 0zM624.97 417.05a1.75 1.75 0 1 0 0.01 0zM626.52 408.76a1.75 1.75 0 1 0 0.01 0zM628.07 411.34a1.75 1.75 0 1 0 0.01 0zM629.62 416.82a1.75 1.75 0 1 0 0.01 0zM631.17 421.80a1.75 1.75 0 1 0 0.01 0zM632.72 424.05a1.75 1.75 0 1 0 0.01 0zM634.27 415.84a1.75 1.75 0 1 0 0.01 0zM635.82 422.73a1.75 1.75 0 1 0 0.01 0zM637.37 420.24a1.75 1.75 0 1 0 0.01 0zM638.92 421.27a1.75 1.75 0 1 0 0.01 0zM640.47 424.79a1.75 1.75 0 1 0 0.01 0zM642.01 431.12a1.75 1.75 0 1 0 0.01 0zM643.56 428.98a1.75 1.75 0 1 0 0.01 0zM645.11 435.62a1.75 1.75 0 1 0 0.01 0zM646.66 434.26a1.75 1.75 0 1 0 0.01 0zM648.21 434.71a1.75 1.75 0 1 0 0.01 0zM649.76 439.05a1.75 1.75 0 1 0 0.01 0zM651.31 437.61a1.75 1.75 0 1 0 0.01 0zM652.86 438.16a1.75 1.75 0 1 0 0.01 0zM654.41 430.92a1.75 1.75 0 1 0 0.01 0zM655.96 434.56a1.75 1.75 0 1 0 0.01 0zM657.51 434.52a1.75 1.75 0 1 0 0.01 0zM659.06 425.31a1.75 1.75 0 1 0 0.01 0zM660.61 421.59a1.75 1.75 0 1 0 0.01 0zM662.15 432.55a1.75 1.75 0 1 0 0.01 0zM663.70 412.88a1.75 1.75 0 1 0 0.01 0zM665.25 421.27a1.75 1.75 0 1 0 0.01 0zM666.80 421.47a1.75 1.75 0 1 0 0.01 0zM668.35 414.61a1.75 1.75 0 1 0 0.01 0zM669.90 419.96a1.75 1.75 0 1 0 0.01 0zM671.45 424.26a1.75 1.75 0 1 0 0.01 0zM673.00 410.43a1.75 1.75 0 1 0 0.01 0zM674.55 429.88a1.75 1.75 0 1 0 0.01 0zM676.10 425.41a1.75 1.75 0 1 0 0.01 0zM677.65 418.93a1.75 1.75 0 1 0 0.01 0z" fill="#1f77b4"/>
<path d="M493.30 399.25V414.45M494.85 406.21V421.00M496.40 392.49V408.07M497.95 396.68V412.02M499.50 392.90V408.45M501.05 399.12V414.32M502.60 408.19V422.85M504.14 404.52V419.41M505.69 411.56V426.02M507.24 403.11V418.07M508.79 385.93V401.87M510.34 382.28V398.42M511.89 376.32V392.78M513.44 378.56V394.90M514.99 385.08V401.07M516.54 383.31V399.40M518.09 380.84V397.06M519.64 390.42V406.11M521.19 382.02V398.18M522.73 388.92V404.70M524.28 371.00V387.75M525.83 371.58V388.30M527.38 381.34V397.54M528.93 357.08V374.55M530.48 349.25V367.10M532.03 355.65V373.19M533.58 349.63V367.47M535.13 352.62V370.31M536.68 340.71V358.98M538.23 363.07V380.23M539.77 357.92V375.34M541.32 340.65V358.93M542.87 350.74V368.52M544.42 342.72V360.89M545.97 346.19V364.19M547.52 354.89V372.47M549.07 347.05V365.02M550.62 345.55V363.58M552.17 359.37V376.72M553.72 350.92V368.69M555.27 342.25V360.44M556.82 334.80V353.35M558.37 347.35V365.30M559.91 342.19V360.39M561.46 356.31V373.82M563.01 341.24V359.49M564.56 349.66V367.49M566.11 351.87V369.60M567.66 366.00V383.01M569.21 369.68V386.50M570.76 360.87V378.14M572.31 360.69V377.97M573.86 367.84V384.76M575.41 360.38V377.68M576.96 355.54V373.08M578.50 355.65V373.19M580.05 362.81V379.98M581.60 373.01V389.65M583.15 368.10V385.00M584.70 369.86V386.66M586.25 372.59V389.25M587.80 372.96V389.61M589.35 373.66V390.27M590.90 359.71V377.04M592.45 358.04V375.45M594.00 350.54V368.33M595.55 358.89V376.26M597.09 361.70V378.93M598.64 362.11V379.32M600.19 372.63V389.29M601.74 365.54V382.57M603.29 349.31V367.16M604.84 340.73V359.00M606.39 357.12V374.58M607.94 350.53V368.32M609.49 362.43V379.62M611.04 363.77V380.89M612.59 371.91V388.61M614.13 369.50V386.32M615.68 362.00V379.21M617.23 376.76V393.20M618.78 378.27V394.63M620.33 382.38V398.52M621.88 391.73V407.35M623.43 398.56V413.79M624.98 401.70V416.75M626.53 401.63V416.68M628.08 405.53V420.35M629.63 407.44V422.15M631.18 410.97V425.47M632.73 417.04V431.17M634.27 410.08V424.63M635.82 408.95V423.57M637.37 393.30V408.83M638.92 417.15V431.27M640.47 411.67V426.13M642.02 400.07V415.22M643.57 416.38V430.55M645.12 418.87V432.89M646.67 409.17V423.78M648.22 399.32V414.50M649.77 407.46V422.17M651.32 401.67V416.72M652.86 404.89V419.75M654.41 409.25V423.86M655.96 388.57V404.37M657.51 409.12V423.73M659.06 411.10V425.59M660.61 407.11V421.84M662.16 398.90V414.11M663.71 399.05V414.26M665.26 397.90V413.17M666.81 403.02V418.00M668.36 413.02V427.40M669.90 398.61V413.83M671.45 402.44V417.45M673.00 401.91V416.94M674.55 411.25V425.73M676.10 408.24V422.91M677.65 413.29V427.65" stroke="#ff7f0e" stroke-width="1.50" stroke-opacity="0.60" fill="none"/>
<path d="M491.75 405.55l3.10 2.60M491.75 408.15l3.10 -2.60M493.30 412.31l3.10 2.60M493.30 414.91l3.10 -2.60M494.85 398.98l3.10 2.60M494.85 401.58l3.10 -2.60M496.40 403.05l3.10 2.60M496.40 405.65l3.10 -2.60M497.95 399.38l3.10 2.60M497.95 401.98l3.10 -2.60M499.50 405.42l3.10 2.60M499.50 408.02l3.10 -2.60M501.05 414.22l3.10 2.60M501.05 416.82l3.10 -2.60M502.59 410.67l3.10 2.60M502.59 413.27l3.10 -2.60M504.14 417.49l3.10 2.60M504.14 420.09l3.10 -2.60M505.69 409.29l3.10 2.60M505.69 411.89l3.10 -2.60M507.24 392.60l3.10 2.60M507.24 395.20l3.10 -2.60M508.79 389.05l3.10 2.60M508.79 391.65l3.10 -2.60M510.34 383.25l3.10 2.60M510.34 385.85l3.10 -2.60M511.89 385.43l3.10 2.60M511.89 388.03l3.10 -2.60M513.44 391.77l3.10 2.60M513.44 394.37l3.10 -2.60M514.99 390.05l3.10 2.60M514.99 392.65l3.10 -2.60M516.54 387.65l3.10 2.60M516.54 390.25l3.10 -2.60M518.09 396.97l3.10 2.60M518.09 399.57l3.10 -2.60M519.64 388.80l3.10 2.60M519.64 391.40l3.10 -2.60M521.18 395.51l3.10 2.60M521.18 398.11l3.10 -2.60M522.73 378.07l3.10 2.60M522.73 380.67l3.10 -2.60M524.28 378.64l3.10 2.60M524.28 381.24l3.10 -2.60M525.83 388.14l3.10 2.60M525.83 390.74l3.10 -2.60M527.38 364.52l3.10 2.60M527.38 367.12l3.10 -2.60M528.93 356.87l3.10 2.60M528.93 359.47l3.10 -2.60M530.48 363.12l3.10 2.60M530.48 365.72l3.10 -2.60M532.03 357.25l3.10 2.60M532.03 359.85l3.10 -2.60M533.58 360.16l3.10 2.60M533.58 362.76l3.10 -2.60M535.13 348.54l3.10 2.60M535.13 351.14l3.10 -2.60M536.68 370.35l3.10 2.60M536.68 372.95l3.10 -2.60M538.23 365.33l3.10 2.60M538.23 367.93l3.10 -2.60M539.77 348.49l3.10 2.60M539.77 351.09l3.10 -2.60M541.32 358.33l3.10 2.60M541.32 360.93l3.10 -2.60M542.87 350.51l3.10 2.60M542.87 353.11l3.10 -2.60M544.42 353.89l3.10 2.60M544.42 356.49l3.10 -2.60M545.97 362.38l3.10 2.60M545.97 364.98l3.10 -2.60M547.52 354.73l3.10 2.60M547.52 357.33l3.10 -2.60M549.07 353.27l3.10 2.60M549.07 355.87l3.10 -2.60M550.62 366.75l3.10 2.60M550.62 369.35l3.10 -2.60M552.17 358.51l3.10 2.60M552.17 361.11l3.10 -2.60M553.72 350.05l3.10 2.60M553.72 352.65l3.10 -2.60M555.27 342.77l3.10 2.60M555.27 345.37l3.10 -2.60M556.82 355.02l3.10 2.60M556.82 357.62l3.10 -2.60M558.36 349.99l3.10 2.60M558.36 352.59l3.10 -2.60M559.91 363.77l3.10 2.60M559.91 366.37l3.10 -2.60M561.46 349.07l3.10 2.60M561.46 351.67l3.10 -2.60M563.01 357.28l3.10 2.60M563.01 359.88l3.10 -2.60M564.56 359.43l3.10 2.60M564.56 362.03l3.10 -2.60M566.11 373.20l3.10 2.60M566.11 375.80l3.10 -2.60M567.66 376.79l3.10 2.60M567.66 379.39l3.10 -2.60M569.21 368.21l3.10 2.60M569.21 370.81l3.10 -2.60M570.76 368.03l3.10 2.60M570.76 370.63l3.10 -2.60M572.31 375.00l3.10 2.60M572.31 377.60l3.10 -2.60M573.86 367.73l3.10 2.60M573.86 370.33l3.10 -2.60M575.41 363.01l3.10 2.60M575.41 365.61l3.10 -2.60M576.95 363.12l3.10 2.60M576.95 365.72l3.10 -2.60M578.50 370.10l3.10 2.60M578.50 372.70l3.10 -2.60M580.05 380.03l3.10 2.60M580.05 382.63l3.10 -2.60M581.60 375.25l3.10 2.60M581.60 377.85l3.10 -2.60M583.15 376.96l3.10 2.60M583.15 379.56l3.10 -2.60M584.70 379.62l3.10 2.60M584.70 382.22l3.10 -2.60M586.25 379.99l3.10 2.60M586.25 382.59l3.10 -2.60M587.80 380.67l3.10 2.60M587.80 383.27l3.10 -2.60M589.35 367.08l3.10 2.60M589.35 369.68l3.10 -2.60M590.90 365.45l3.10 2.60M590.90 368.05l3.10 -2.60M592.45 358.13l3.10 2.60M592.45 360.73l3.10 -2.60M594.00 366.28l3.10 2.60M594.00 368.88l3.10 -2.60M595.54 369.01l3.10 2.60M595.54 371.61l3.10 -2.60M597.09 369.42l3.10 2.60M597.09 372.02l3.10 -2.60M598.64 379.66l3.10 2.60M598.64 382.26l3.10 -2.60M600.19 372.76l3.10 2.60M600.19 375.36l3.10 -2.60M601.74 356.93l3.10 2.60M601.74 359.53l3.10 -2.60M603.29 348.56l3.10 2.60M603.29 351.16l3.10 -2.60M604.84 364.55l3.10 2.60M604.84 367.15l3.10 -2.60M606.39 358.12l3.10 2.60M606.39 360.72l3.10 -2.60M607.94 369.73l3.10 2.60M607.94 372.33l3.10 -2.60M609.49 371.03l3.10 2.60M609.49 373.63l3.10 -2.60M611.04 378.96l3.10 2.60M611.04 381.56l3.10 -2.60M612.59 376.61l3.10 2.60M612.59 379.21l3.10 -2.60M614.13 369.30l3.10 2.60M614.13 371.90l3.10 -2.60M615.68 383.68l3.10 2.60M615.68 386.28l3.10 -2.60M617.23 385.15l3.10 2.60M617.23 387.75l3.10 -2.60M618.78 389.15l3.10 2.60M618.78 391.75l3.10 -2.60M620.33 398.24l3.10 2.60M620.33 400.84l3.10 -2.60M621.88 404.88l3.10 2.60M621.88 407.48l3.10 -2.60M623.43 407.93l3.10 2.60M623.43 410.53l3.10 -2.60M624.98 407.85l3.10 2.60M624.98 410.45l3.10 -2.60M626.53 411.64l3.10 2.60M626.53 414.24l3.10 -2.60M628.08 413.49l3.10 2.60M628.08 416.09l3.10 -2.60M629.63 416.92l3.10 2.60M629.63 419.52l3.10 -2.60M631.18 422.80l3.10 2.60M631.18 425.40l3.10 -2.60M632.72 416.05l3.10 2.60M632.72 418.65l3.10 -2.60M634.27 414.96l3.10 2.60M634.27 417.56l3.10 -2.60M635.82 399.76l3.10 2.60M635.82 402.36l3.10 -2.60M637.37 422.91l3.10 2.60M637.37 425.51l3.10 -2.60M638.92 417.60l3.10 2.60M638.92 420.20l3.10 -2.60M640.47 406.35l3.10 2.60M640.47 408.95l3.10 -2.60M642.02 422.16l3.10 2.60M642.02 424.76l3.10 -2.60M643.57 424.58l3.10 2.60M643.57 427.18l3.10 -2.60M645.12 415.18l3.10 2.60M645.12 417.78l3.10 -2.60M646.67 405.61l3.10 2.60M646.67 408.21l3.10 -2.60M648.22 413.52l3.10 2.60M648.22 416.12l3.10 -2.60M649.77 407.89l3.10 2.60M649.77 410.49l3.10 -2.60M651.31 411.02l3.10 2.60M651.31 413.62l3.10 -2.60M652.86 415.26l3.10 2.60M652.86 417.86l3.10 -2.60M654.41 395.17l3.10 2.60M654.41 397.77l3.10 -2.60M655.96 415.13l3.10 2.60M655.96 417.73l3.10 -2.60M657.51 417.04l3.10 2.60M657.51 419.64l3.10 -2.60M659.06 413.17l3.10 2.60M659.06 415.77l3.10 -2.60M660.61 405.21l3.10 2.60M660.61 407.81l3.10 -2.60M662.16 405.35l3.10 2.60M662.16 407.95l3.10 -2.60M663.71 404.24l3.10 2.60M663.71 406.84l3.10 -2.60M665.26 409.21l3.10 2.60M665.26 411.81l3.10 -2.60M666.81 418.91l3.10 2.60M666.81 421.51l3.10 -2.60M668.36 404.92l3.10 2.60M668.36 407.52l3.10 -2.60M669.90 408.65l3.10 2.60M669.90 411.25l3.10 -2.60M671.45 408.13l3.10 2.60M671.45 410.73l3.10 -2.60M673.00 417.19l3.10 2.60M673.00 419.79l3.10 -2.60M674.55 414.27l3.10 2.60M674.55 416.87l3.10 -2.60M676.10 419.17l3.10 2.60M676.10 421.77l3.10 -2.60" stroke="#ff7f0e" stroke-width="1.15" fill="none"/>
</g>
<clipPath id="rf"><rect x="493.30" y="467.50" width="185.90" height="77.00"/></clipPath>
<g clip-path="url(#rf)">
<path d="M493.30 517.69H679.20" stroke="#000" stroke-width="0.9" stroke-dasharray="3.4 1.5" fill="none"/>
<path d="M493.30 494.22H679.20" stroke="#000" stroke-width="0.9" stroke-dasharray="3.4 1.5" fill="none"/>
<path d="M493.30 506.40H679.20" stroke="#000" stroke-width="1.0" fill="none"/>
<path d="M494.37 496.15V503.72M496.02 487.56V495.85M497.39 497.90V512.95M498.76 504.92V516.90M500.14 495.41V509.95M501.51 492.24V509.00M502.88 500.65V512.95M504.25 500.29V510.56M505.63 502.75V508.10M506.72 512.15V526.15M508.10 501.47V512.13M509.88 461.90V476.22M511.53 485.35V499.43M512.90 482.93V492.24M514.27 475.60V494.08M516.05 489.58V506.17M517.43 500.22V516.12M519.07 484.69V494.60M520.45 500.70V512.90M521.82 493.36V505.14M523.88 473.95V486.13M525.25 483.23V493.31M526.62 485.73V500.41M527.99 485.35V499.43M529.37 483.78V498.25M530.74 481.63V493.54M532.11 478.30V495.50M533.48 496.39V510.34M534.86 497.27V502.60M536.23 488.69V500.20M538.01 478.22V491.46M539.38 498.67V514.92M541.03 492.31V504.82M542.40 483.31V495.97M544.05 494.21V505.66M545.56 510.09V525.46M547.21 498.01V510.09M548.58 494.12V505.75M550.36 503.94V515.15M551.73 503.39V518.43M553.11 502.25V514.08M554.75 512.86V521.32M556.40 492.32V507.55M557.77 499.07V510.40M559.56 496.83V511.28M561.20 522.19V536.69M562.71 510.67V527.62M564.09 506.79V523.27M565.46 513.30V525.00M566.83 512.69V525.60M568.48 512.29V521.89M570.12 514.09V532.44M571.91 523.46V538.16M573.69 509.71V527.22M575.06 508.80V521.26M576.71 514.10V521.45M578.08 503.33V521.24M579.46 504.08V517.75M581.10 501.27V515.07M582.47 500.02V513.58M587.10 510.13V525.43M588.74 518.52V533.50M590.12 523.03V531.74M591.76 516.33V532.94M593.55 506.37V518.21M594.92 504.90V516.93M596.29 504.41V522.90M598.35 516.58V532.69M599.72 498.54V510.94M601.37 513.81V521.74M603.15 495.06V508.93M604.53 503.42V518.41M605.90 497.47V510.63M607.27 500.56V510.29M608.64 502.63V513.70M610.43 501.95V511.65M612.35 483.31V497.35M614.13 501.63V517.45M615.50 494.47V510.89M617.29 509.41V520.65M618.66 510.73V524.82M620.03 510.26V525.29M621.68 489.19V501.08M623.33 496.20V509.16M624.70 496.97V516.63M626.07 506.66V520.66M627.86 479.58V495.59M629.64 505.54V517.66M631.01 508.27V521.79M632.66 490.96V499.31M634.03 493.27V506.60M635.40 491.48V508.39M637.46 472.30V491.89M638.83 505.19V522.12M640.62 497.71V513.14M641.58 498.65V512.20M643.36 487.94V499.58M645.01 466.71V479.64M646.38 484.78V499.99M648.03 471.75V482.84M649.13 471.96V488.11M650.50 478.22V488.72M651.87 484.88V493.03M653.24 490.61V501.03M654.34 483.34V491.83M655.99 499.38V508.73M657.36 481.96V498.70M658.73 481.18V493.99M660.10 498.40V512.45M661.48 497.02V513.83M663.26 480.40V497.51M664.63 490.55V502.46M666.28 517.35V534.67M668.06 492.67V507.20M669.44 485.00V498.41M671.08 496.01V510.72M672.46 488.48V497.67M674.51 506.74V517.83M675.89 501.63V514.71M677.26 486.16V501.36" stroke="#000" stroke-width="1.2" stroke-opacity="0.8" fill="none"/>
<path d="M494.37 499.94a1.05 1.05 0 1 0 0.01 0zM496.01 491.70a1.05 1.05 0 1 0 0.01 0zM497.39 505.42a1.05 1.05 0 1 0 0.01 0zM498.76 510.91a1.05 1.05 0 1 0 0.01 0zM500.13 502.68a1.05 1.05 0 1 0 0.01 0zM501.50 500.62a1.05 1.05 0 1 0 0.01 0zM502.88 506.80a1.05 1.05 0 1 0 0.01 0zM504.25 505.42a1.05 1.05 0 1 0 0.01 0zM505.62 505.42a1.05 1.05 0 1 0 0.01 0zM506.72 519.15a1.05 1.05 0 1 0 0.01 0zM508.09 506.80a1.05 1.05 0 1 0 0.01 0zM509.87 469.06a1.05 1.05 0 1 0 0.01 0zM511.52 492.39a1.05 1.05 0 1 0 0.01 0zM512.89 487.58a1.05 1.05 0 1 0 0.01 0zM514.27 484.84a1.05 1.05 0 1 0 0.01 0zM516.05 497.88a1.05 1.05 0 1 0 0.01 0zM517.42 508.17a1.05 1.05 0 1 0 0.01 0zM519.07 489.64a1.05 1.05 0 1 0 0.01 0zM520.44 506.80a1.05 1.05 0 1 0 0.01 0zM521.81 499.25a1.05 1.05 0 1 0 0.01 0zM523.87 480.04a1.05 1.05 0 1 0 0.01 0zM525.24 488.27a1.05 1.05 0 1 0 0.01 0zM526.62 493.07a1.05 1.05 0 1 0 0.01 0zM527.99 492.39a1.05 1.05 0 1 0 0.01 0zM529.36 491.02a1.05 1.05 0 1 0 0.01 0zM530.73 487.58a1.05 1.05 0 1 0 0.01 0zM532.11 486.90a1.05 1.05 0 1 0 0.01 0zM533.48 503.37a1.05 1.05 0 1 0 0.01 0zM534.85 499.94a1.05 1.05 0 1 0 0.01 0zM536.22 494.45a1.05 1.05 0 1 0 0.01 0zM538.01 484.84a1.05 1.05 0 1 0 0.01 0zM539.38 506.80a1.05 1.05 0 1 0 0.01 0zM541.03 498.56a1.05 1.05 0 1 0 0.01 0zM542.40 489.64a1.05 1.05 0 1 0 0.01 0zM544.04 499.94a1.05 1.05 0 1 0 0.01 0zM545.55 517.78a1.05 1.05 0 1 0 0.01 0zM547.20 504.05a1.05 1.05 0 1 0 0.01 0zM548.57 499.94a1.05 1.05 0 1 0 0.01 0zM550.36 509.54a1.05 1.05 0 1 0 0.01 0zM551.73 510.91a1.05 1.05 0 1 0 0.01 0zM553.10 508.17a1.05 1.05 0 1 0 0.01 0zM554.75 517.09a1.05 1.05 0 1 0 0.01 0zM556.40 499.94a1.05 1.05 0 1 0 0.01 0zM557.77 504.74a1.05 1.05 0 1 0 0.01 0zM559.55 504.05a1.05 1.05 0 1 0 0.01 0zM561.20 529.44a1.05 1.05 0 1 0 0.01 0zM562.71 519.15a1.05 1.05 0 1 0 0.01 0zM564.08 515.03a1.05 1.05 0 1 0 0.01 0zM565.45 519.15a1.05 1.05 0 1 0 0.01 0zM566.83 519.15a1.05 1.05 0 1 0 0.01 0zM568.47 517.09a1.05 1.05 0 1 0 0.01 0zM570.12 523.26a1.05 1.05 0 1 0 0.01 0zM571.90 530.81a1.05 1.05 0 1 0 0.01 0zM573.69 518.46a1.05 1.05 0 1 0 0.01 0zM575.06 515.03a1.05 1.05 0 1 0 0.01 0zM576.71 517.78a1.05 1.05 0 1 0 0.01 0zM578.08 512.29a1.05 1.05 0 1 0 0.01 0zM579.45 510.91a1.05 1.05 0 1 0 0.01 0zM581.10 508.17a1.05 1.05 0 1 0 0.01 0zM582.47 506.80a1.05 1.05 0 1 0 0.01 0zM587.09 517.78a1.05 1.05 0 1 0 0.01 0zM588.74 526.01a1.05 1.05 0 1 0 0.01 0zM590.11 527.38a1.05 1.05 0 1 0 0.01 0zM591.76 524.64a1.05 1.05 0 1 0 0.01 0zM593.54 512.29a1.05 1.05 0 1 0 0.01 0zM594.91 510.91a1.05 1.05 0 1 0 0.01 0zM596.29 513.66a1.05 1.05 0 1 0 0.01 0zM598.35 524.64a1.05 1.05 0 1 0 0.01 0zM599.72 504.74a1.05 1.05 0 1 0 0.01 0zM601.36 517.78a1.05 1.05 0 1 0 0.01 0zM603.15 501.99a1.05 1.05 0 1 0 0.01 0zM604.52 510.91a1.05 1.05 0 1 0 0.01 0zM605.89 504.05a1.05 1.05 0 1 0 0.01 0zM607.27 505.42a1.05 1.05 0 1 0 0.01 0zM608.64 508.17a1.05 1.05 0 1 0 0.01 0zM610.42 506.80a1.05 1.05 0 1 0 0.01 0zM612.34 490.33a1.05 1.05 0 1 0 0.01 0zM614.13 509.54a1.05 1.05 0 1 0 0.01 0zM615.50 502.68a1.05 1.05 0 1 0 0.01 0zM617.28 515.03a1.05 1.05 0 1 0 0.01 0zM618.66 517.78a1.05 1.05 0 1 0 0.01 0zM620.03 517.78a1.05 1.05 0 1 0 0.01 0zM621.67 495.13a1.05 1.05 0 1 0 0.01 0zM623.32 502.68a1.05 1.05 0 1 0 0.01 0zM624.69 506.80a1.05 1.05 0 1 0 0.01 0zM626.07 513.66a1.05 1.05 0 1 0 0.01 0zM627.85 487.58a1.05 1.05 0 1 0 0.01 0zM629.63 511.60a1.05 1.05 0 1 0 0.01 0zM631.01 515.03a1.05 1.05 0 1 0 0.01 0zM632.65 495.13a1.05 1.05 0 1 0 0.01 0zM634.03 499.94a1.05 1.05 0 1 0 0.01 0zM635.40 499.94a1.05 1.05 0 1 0 0.01 0zM637.46 482.10a1.05 1.05 0 1 0 0.01 0zM638.83 513.66a1.05 1.05 0 1 0 0.01 0zM640.61 505.42a1.05 1.05 0 1 0 0.01 0zM641.57 505.42a1.05 1.05 0 1 0 0.01 0zM643.36 493.76a1.05 1.05 0 1 0 0.01 0zM645.00 473.18a1.05 1.05 0 1 0 0.01 0zM646.38 492.39a1.05 1.05 0 1 0 0.01 0zM648.02 477.29a1.05 1.05 0 1 0 0.01 0zM649.12 480.04a1.05 1.05 0 1 0 0.01 0zM650.49 483.47a1.05 1.05 0 1 0 0.01 0zM651.87 488.96a1.05 1.05 0 1 0 0.01 0zM653.24 495.82a1.05 1.05 0 1 0 0.01 0zM654.34 487.58a1.05 1.05 0 1 0 0.01 0zM655.98 504.05a1.05 1.05 0 1 0 0.01 0zM657.35 490.33a1.05 1.05 0 1 0 0.01 0zM658.73 487.58a1.05 1.05 0 1 0 0.01 0zM660.10 505.42a1.05 1.05 0 1 0 0.01 0zM661.47 505.42a1.05 1.05 0 1 0 0.01 0zM663.26 488.96a1.05 1.05 0 1 0 0.01 0zM664.63 496.50a1.05 1.05 0 1 0 0.01 0zM666.27 526.01a1.05 1.05 0 1 0 0.01 0zM668.06 499.94a1.05 1.05 0 1 0 0.01 0zM669.43 491.70a1.05 1.05 0 1 0 0.01 0zM671.08 503.37a1.05 1.05 0 1 0 0.01 0zM672.45 493.07a1.05 1.05 0 1 0 0.01 0zM674.51 512.29a1.05 1.05 0 1 0 0.01 0zM675.88 508.17a1.05 1.05 0 1 0 0.01 0zM677.25 493.76a1.05 1.05 0 1 0 0.01 0z" fill="#000"/>
</g>
<rect x="493.30" y="305.40" width="185.90" height="154.10" fill="none" stroke="#000" stroke-width="0.95"/>
<rect x="493.30" y="467.50" width="185.90" height="77.00" fill="none" stroke="#000" stroke-width="0.95"/>
<path d="M493.30 459.50v2.1M493.30 544.50v2.1M524.28 459.50v2.1M524.28 544.50v2.1M555.27 459.50v2.1M555.27 544.50v2.1M586.25 459.50v2.1M586.25 544.50v2.1M617.23 459.50v2.1M617.23 544.50v2.1M648.22 459.50v2.1M648.22 544.50v2.1M679.20 459.50v2.1M679.20 544.50v2.1M493.30 454.30h-2.1M493.30 427.56h-2.1M493.30 400.82h-2.1M493.30 374.08h-2.1M493.30 347.34h-2.1M493.30 320.60h-2.1M493.30 526.20h-2.1M493.30 506.40h-2.1M493.30 486.60h-2.1" stroke="#000" stroke-width="0.8" fill="none"/>
<rect x="603.50" y="309.50" width="71.30" height="26.10" rx="1.6" fill="#fff" fill-opacity="0.85" stroke="#d6d6d6" stroke-width="0.8"/>
<path d="M614.90 311.70V320.50" stroke="#1f77b4" stroke-width="1.50" stroke-opacity="0.60"/>
<circle cx="614.90" cy="316.10" r="1.75" fill="#1f77b4"/>
<path d="M614.90 323.70V332.50" stroke="#ff7f0e" stroke-width="1.50" stroke-opacity="0.60"/>
<path d="M613.35 326.80l3.10 2.60M613.35 329.40l3.10 -2.60" stroke="#ff7f0e" stroke-width="1.15"/></svg>
<svg class="t" width="685" height="598" viewBox="0 0 685 598"><text x="39.50" y="248.61" font-size="6.90" text-anchor="middle" font-family="Liberation Sans" textLength="4.20" lengthAdjust="spacingAndGlyphs" stroke="#000" stroke-width="0.30">0</text>
<text x="69.78" y="248.61" font-size="6.90" text-anchor="middle" font-family="Liberation Sans" textLength="8.40" lengthAdjust="spacingAndGlyphs" stroke="#000" stroke-width="0.30">20</text>
<text x="100.07" y="248.61" font-size="6.90" text-anchor="middle" font-family="Liberation Sans" textLength="8.40" lengthAdjust="spacingAndGlyphs" stroke="#000" stroke-width="0.30">40</text>
<text x="130.35" y="248.61" font-size="6.90" text-anchor="middle" font-family="Liberation Sans" textLength="8.40" lengthAdjust="spacingAndGlyphs" stroke="#000" stroke-width="0.30">60</text>
<text x="160.63" y="248.61" font-size="6.90" text-anchor="middle" font-family="Liberation Sans" textLength="8.40" lengthAdjust="spacingAndGlyphs" stroke="#000" stroke-width="0.30">80</text>
<text x="190.92" y="248.61" font-size="6.90" text-anchor="middle" font-family="Liberation Sans" textLength="12.60" lengthAdjust="spacingAndGlyphs" stroke="#000" stroke-width="0.30">100</text>
<text x="221.20" y="248.61" font-size="6.90" text-anchor="middle" font-family="Liberation Sans" textLength="12.60" lengthAdjust="spacingAndGlyphs" stroke="#000" stroke-width="0.30">120</text>
<text x="35.80" y="145.61" font-size="6.90" text-anchor="end" font-family="Liberation Sans" textLength="20.99" lengthAdjust="spacingAndGlyphs" stroke="#000" stroke-width="0.30">10000</text>
<text x="35.80" y="128.08" font-size="6.90" text-anchor="end" font-family="Liberation Sans" textLength="20.99" lengthAdjust="spacingAndGlyphs" stroke="#000" stroke-width="0.30">12500</text>
<text x="35.80" y="110.54" font-size="6.90" text-anchor="end" font-family="Liberation Sans" textLength="20.99" lengthAdjust="spacingAndGlyphs" stroke="#000" stroke-width="0.30">15000</text>
<text x="35.80" y="93.00" font-size="6.90" text-anchor="end" font-family="Liberation Sans" textLength="20.99" lengthAdjust="spacingAndGlyphs" stroke="#000" stroke-width="0.30">17500</text>
<text x="35.80" y="75.47" font-size="6.90" text-anchor="end" font-family="Liberation Sans" textLength="20.99" lengthAdjust="spacingAndGlyphs" stroke="#000" stroke-width="0.30">20000</text>
<text x="35.80" y="57.93" font-size="6.90" text-anchor="end" font-family="Liberation Sans" textLength="20.99" lengthAdjust="spacingAndGlyphs" stroke="#000" stroke-width="0.30">22500</text>
<text x="35.80" y="40.39" font-size="6.90" text-anchor="end" font-family="Liberation Sans" textLength="20.99" lengthAdjust="spacingAndGlyphs" stroke="#000" stroke-width="0.30">25000</text>
<text x="35.80" y="22.85" font-size="6.90" text-anchor="end" font-family="Liberation Sans" textLength="20.99" lengthAdjust="spacingAndGlyphs" stroke="#000" stroke-width="0.30">27500</text>
<text x="35.80" y="5.32" font-size="6.90" text-anchor="end" font-family="Liberation Sans" textLength="20.99" lengthAdjust="spacingAndGlyphs" stroke="#000" stroke-width="0.30">30000</text>
<text x="35.80" y="228.12" font-size="6.90" text-anchor="end" font-family="Liberation Sans" textLength="14.69" lengthAdjust="spacingAndGlyphs" stroke="#000" stroke-width="0.30">0.95</text>
<text x="35.80" y="204.22" font-size="6.90" text-anchor="end" font-family="Liberation Sans" textLength="14.69" lengthAdjust="spacingAndGlyphs" stroke="#000" stroke-width="0.30">1.00</text>
<text x="35.80" y="180.31" font-size="6.90" text-anchor="end" font-family="Liberation Sans" textLength="14.69" lengthAdjust="spacingAndGlyphs" stroke="#000" stroke-width="0.30">1.05</text>
<text x="10.20" y="77.43" font-size="9.40" text-anchor="middle" font-family="Liberation Sans" textLength="32.20" lengthAdjust="spacingAndGlyphs" transform="rotate(-90 10.20 77.43)" stroke="#000" stroke-width="0.30">Counts</text>
<text x="6.90" y="201.40" font-size="9.40" text-anchor="middle" font-family="Liberation Sans" textLength="23.60" lengthAdjust="spacingAndGlyphs" transform="rotate(-90 6.90 201.40)" stroke="#000" stroke-width="0.30">Ratio</text>
<text x="17.50" y="201.40" font-size="9.40" text-anchor="middle" font-family="Liberation Sans" textLength="48.60" lengthAdjust="spacingAndGlyphs" transform="rotate(-90 17.50 201.40)" stroke="#000" stroke-width="0.30">sim/SPECT</text>
<text x="130.35" y="258.70" font-size="9.40" text-anchor="middle" font-family="Liberation Sans" textLength="45.40" lengthAdjust="spacingAndGlyphs" stroke="#000" stroke-width="0.30">Projection</text>
<text x="166.30" y="14.75" font-size="9.30" text-anchor="start" font-family="Liberation Sans" textLength="47.60" lengthAdjust="spacingAndGlyphs" stroke="#000" stroke-width="0.30">Experiment</text>
<text x="166.30" y="26.75" font-size="9.30" text-anchor="start" font-family="Liberation Sans" textLength="43.60" lengthAdjust="spacingAndGlyphs" stroke="#000" stroke-width="0.30">Simulation</text>
<text x="94.00" y="288.30" font-size="22.40" text-anchor="start" font-family="Liberation Serif" textLength="6.30" lengthAdjust="spacingAndGlyphs">(</text>
<text x="112.60" y="288.30" font-size="22.40" text-anchor="start" font-family="Liberation Serif" textLength="6.30" lengthAdjust="spacingAndGlyphs">)</text>
<text x="106.45" y="288.30" font-size="19.60" text-anchor="middle" font-family="Liberation Serif">a</text>
<text x="126.30" y="288.30" font-size="19.60" text-anchor="start" font-family="Liberation Serif" textLength="42.10" lengthAdjust="spacingAndGlyphs">EM1</text>
<text x="268.50" y="248.61" font-size="6.90" text-anchor="middle" font-family="Liberation Sans" textLength="4.20" lengthAdjust="spacingAndGlyphs" stroke="#000" stroke-width="0.30">0</text>
<text x="298.75" y="248.61" font-size="6.90" text-anchor="middle" font-family="Liberation Sans" textLength="8.40" lengthAdjust="spacingAndGlyphs" stroke="#000" stroke-width="0.30">20</text>
<text x="329.00" y="248.61" font-size="6.90" text-anchor="middle" font-family="Liberation Sans" textLength="8.40" lengthAdjust="spacingAndGlyphs" stroke="#000" stroke-width="0.30">40</text>
<text x="359.25" y="248.61" font-size="6.90" text-anchor="middle" font-family="Liberation Sans" textLength="8.40" lengthAdjust="spacingAndGlyphs" stroke="#000" stroke-width="0.30">60</text>
<text x="389.50" y="248.61" font-size="6.90" text-anchor="middle" font-family="Liberation Sans" textLength="8.40" lengthAdjust="spacingAndGlyphs" stroke="#000" stroke-width="0.30">80</text>
<text x="419.75" y="248.61" font-size="6.90" text-anchor="middle" font-family="Liberation Sans" textLength="12.60" lengthAdjust="spacingAndGlyphs" stroke="#000" stroke-width="0.30">100</text>
<text x="450.00" y="248.61" font-size="6.90" text-anchor="middle" font-family="Liberation Sans" textLength="12.60" lengthAdjust="spacingAndGlyphs" stroke="#000" stroke-width="0.30">120</text>
<text x="264.80" y="134.72" font-size="6.90" text-anchor="end" font-family="Liberation Sans" textLength="16.80" lengthAdjust="spacingAndGlyphs" stroke="#000" stroke-width="0.30">3000</text>
<text x="264.80" y="102.22" font-size="6.90" text-anchor="end" font-family="Liberation Sans" textLength="16.80" lengthAdjust="spacingAndGlyphs" stroke="#000" stroke-width="0.30">4000</text>
<text x="264.80" y="69.72" font-size="6.90" text-anchor="end" font-family="Liberation Sans" textLength="16.80" lengthAdjust="spacingAndGlyphs" stroke="#000" stroke-width="0.30">5000</text>
<text x="264.80" y="37.21" font-size="6.90" text-anchor="end" font-family="Liberation Sans" textLength="16.80" lengthAdjust="spacingAndGlyphs" stroke="#000" stroke-width="0.30">6000</text>
<text x="264.80" y="4.71" font-size="6.90" text-anchor="end" font-family="Liberation Sans" textLength="16.80" lengthAdjust="spacingAndGlyphs" stroke="#000" stroke-width="0.30">7000</text>
<text x="264.80" y="234.31" font-size="6.90" text-anchor="end" font-family="Liberation Sans" textLength="14.69" lengthAdjust="spacingAndGlyphs" stroke="#000" stroke-width="0.30">0.90</text>
<text x="264.80" y="219.11" font-size="6.90" text-anchor="end" font-family="Liberation Sans" textLength="14.69" lengthAdjust="spacingAndGlyphs" stroke="#000" stroke-width="0.30">0.95</text>
<text x="264.80" y="203.91" font-size="6.90" text-anchor="end" font-family="Liberation Sans" textLength="14.69" lengthAdjust="spacingAndGlyphs" stroke="#000" stroke-width="0.30">1.00</text>
<text x="264.80" y="188.72" font-size="6.90" text-anchor="end" font-family="Liberation Sans" textLength="14.69" lengthAdjust="spacingAndGlyphs" stroke="#000" stroke-width="0.30">1.05</text>
<text x="264.80" y="173.51" font-size="6.90" text-anchor="end" font-family="Liberation Sans" textLength="14.69" lengthAdjust="spacingAndGlyphs" stroke="#000" stroke-width="0.30">1.10</text>
<text x="244.30" y="79.00" font-size="9.40" text-anchor="middle" font-family="Liberation Sans" textLength="32.20" lengthAdjust="spacingAndGlyphs" transform="rotate(-90 244.30 79.00)" stroke="#000" stroke-width="0.30">Counts</text>
<text x="235.80" y="201.85" font-size="9.40" text-anchor="middle" font-family="Liberation Sans" textLength="23.60" lengthAdjust="spacingAndGlyphs" transform="rotate(-90 235.80 201.85)" stroke="#000" stroke-width="0.30">Ratio</text>
<text x="246.80" y="201.85" font-size="9.40" text-anchor="middle" font-family="Liberation Sans" textLength="48.60" lengthAdjust="spacingAndGlyphs" transform="rotate(-90 246.80 201.85)" stroke="#000" stroke-width="0.30">sim/SPECT</text>
<text x="359.25" y="258.70" font-size="9.40" text-anchor="middle" font-family="Liberation Sans" textLength="45.40" lengthAdjust="spacingAndGlyphs" stroke="#000" stroke-width="0.30">Projection</text>
<text x="394.90" y="16.05" font-size="9.30" text-anchor="start" font-family="Liberation Sans" textLength="47.60" lengthAdjust="spacingAndGlyphs" stroke="#000" stroke-width="0.30">Experiment</text>
<text x="394.90" y="28.05" font-size="9.30" text-anchor="start" font-family="Liberation Sans" textLength="43.60" lengthAdjust="spacingAndGlyphs" stroke="#000" stroke-width="0.30">Simulation</text>
<text x="325.40" y="288.30" font-size="22.40" text-anchor="start" font-family="Liberation Serif" textLength="6.30" lengthAdjust="spacingAndGlyphs">(</text>
<text x="345.60" y="288.30" font-size="22.40" text-anchor="start" font-family="Liberation Serif" textLength="6.30" lengthAdjust="spacingAndGlyphs">)</text>
<text x="338.65" y="288.30" font-size="19.60" text-anchor="middle" font-family="Liberation Serif">b</text>
<text x="358.80" y="288.30" font-size="19.60" text-anchor="start" font-family="Liberation Serif" textLength="36.30" lengthAdjust="spacingAndGlyphs">SC1</text>
<text x="493.00" y="248.61" font-size="6.90" text-anchor="middle" font-family="Liberation Sans" textLength="4.20" lengthAdjust="spacingAndGlyphs" stroke="#000" stroke-width="0.30">0</text>
<text x="524.00" y="248.61" font-size="6.90" text-anchor="middle" font-family="Liberation Sans" textLength="8.40" lengthAdjust="spacingAndGlyphs" stroke="#000" stroke-width="0.30">20</text>
<text x="555.00" y="248.61" font-size="6.90" text-anchor="middle" font-family="Liberation Sans" textLength="8.40" lengthAdjust="spacingAndGlyphs" stroke="#000" stroke-width="0.30">40</text>
<text x="586.00" y="248.61" font-size="6.90" text-anchor="middle" font-family="Liberation Sans" textLength="8.40" lengthAdjust="spacingAndGlyphs" stroke="#000" stroke-width="0.30">60</text>
<text x="617.00" y="248.61" font-size="6.90" text-anchor="middle" font-family="Liberation Sans" textLength="8.40" lengthAdjust="spacingAndGlyphs" stroke="#000" stroke-width="0.30">80</text>
<text x="648.00" y="248.61" font-size="6.90" text-anchor="middle" font-family="Liberation Sans" textLength="12.60" lengthAdjust="spacingAndGlyphs" stroke="#000" stroke-width="0.30">100</text>
<text x="679.00" y="248.61" font-size="6.90" text-anchor="middle" font-family="Liberation Sans" textLength="12.60" lengthAdjust="spacingAndGlyphs" stroke="#000" stroke-width="0.30">120</text>
<text x="489.30" y="155.41" font-size="6.90" text-anchor="end" font-family="Liberation Sans" textLength="16.80" lengthAdjust="spacingAndGlyphs" stroke="#000" stroke-width="0.30">1500</text>
<text x="489.30" y="130.80" font-size="6.90" text-anchor="end" font-family="Liberation Sans" textLength="16.80" lengthAdjust="spacingAndGlyphs" stroke="#000" stroke-width="0.30">2000</text>
<text x="489.30" y="106.18" font-size="6.90" text-anchor="end" font-family="Liberation Sans" textLength="16.80" lengthAdjust="spacingAndGlyphs" stroke="#000" stroke-width="0.30">2500</text>
<text x="489.30" y="81.56" font-size="6.90" text-anchor="end" font-family="Liberation Sans" textLength="16.80" lengthAdjust="spacingAndGlyphs" stroke="#000" stroke-width="0.30">3000</text>
<text x="489.30" y="56.95" font-size="6.90" text-anchor="end" font-family="Liberation Sans" textLength="16.80" lengthAdjust="spacingAndGlyphs" stroke="#000" stroke-width="0.30">3500</text>
<text x="489.30" y="32.33" font-size="6.90" text-anchor="end" font-family="Liberation Sans" textLength="16.80" lengthAdjust="spacingAndGlyphs" stroke="#000" stroke-width="0.30">4000</text>
<text x="489.30" y="7.71" font-size="6.90" text-anchor="end" font-family="Liberation Sans" textLength="16.80" lengthAdjust="spacingAndGlyphs" stroke="#000" stroke-width="0.30">4500</text>
<text x="489.30" y="230.51" font-size="6.90" text-anchor="end" font-family="Liberation Sans" textLength="10.50" lengthAdjust="spacingAndGlyphs" stroke="#000" stroke-width="0.30">0.9</text>
<text x="489.30" y="203.91" font-size="6.90" text-anchor="end" font-family="Liberation Sans" textLength="10.50" lengthAdjust="spacingAndGlyphs" stroke="#000" stroke-width="0.30">1.0</text>
<text x="489.30" y="177.31" font-size="6.90" text-anchor="end" font-family="Liberation Sans" textLength="10.50" lengthAdjust="spacingAndGlyphs" stroke="#000" stroke-width="0.30">1.1</text>
<text x="469.00" y="77.00" font-size="9.40" text-anchor="middle" font-family="Liberation Sans" textLength="32.20" lengthAdjust="spacingAndGlyphs" transform="rotate(-90 469.00 77.00)" stroke="#000" stroke-width="0.30">Counts</text>
<text x="465.00" y="201.75" font-size="9.40" text-anchor="middle" font-family="Liberation Sans" textLength="23.60" lengthAdjust="spacingAndGlyphs" transform="rotate(-90 465.00 201.75)" stroke="#000" stroke-width="0.30">Ratio</text>
<text x="475.00" y="201.75" font-size="9.40" text-anchor="middle" font-family="Liberation Sans" textLength="48.60" lengthAdjust="spacingAndGlyphs" transform="rotate(-90 475.00 201.75)" stroke="#000" stroke-width="0.30">sim/SPECT</text>
<text x="586.00" y="258.70" font-size="9.40" text-anchor="middle" font-family="Liberation Sans" textLength="45.40" lengthAdjust="spacingAndGlyphs" stroke="#000" stroke-width="0.30">Projection</text>
<text x="624.20" y="14.15" font-size="9.30" text-anchor="start" font-family="Liberation Sans" textLength="47.60" lengthAdjust="spacingAndGlyphs" stroke="#000" stroke-width="0.30">Experiment</text>
<text x="624.20" y="26.15" font-size="9.30" text-anchor="start" font-family="Liberation Sans" textLength="43.60" lengthAdjust="spacingAndGlyphs" stroke="#000" stroke-width="0.30">Simulation</text>
<text x="555.40" y="288.30" font-size="22.40" text-anchor="start" font-family="Liberation Serif" textLength="6.30" lengthAdjust="spacingAndGlyphs">(</text>
<text x="573.30" y="288.30" font-size="22.40" text-anchor="start" font-family="Liberation Serif" textLength="6.30" lengthAdjust="spacingAndGlyphs">)</text>
<text x="567.50" y="288.30" font-size="19.60" text-anchor="middle" font-family="Liberation Serif">c</text>
<text x="586.50" y="288.30" font-size="19.60" text-anchor="start" font-family="Liberation Serif" textLength="37.40" lengthAdjust="spacingAndGlyphs">SC2</text>
<text x="39.50" y="553.12" font-size="6.90" text-anchor="middle" font-family="Liberation Sans" textLength="4.20" lengthAdjust="spacingAndGlyphs" stroke="#000" stroke-width="0.30">0</text>
<text x="69.75" y="553.12" font-size="6.90" text-anchor="middle" font-family="Liberation Sans" textLength="8.40" lengthAdjust="spacingAndGlyphs" stroke="#000" stroke-width="0.30">20</text>
<text x="100.00" y="553.12" font-size="6.90" text-anchor="middle" font-family="Liberation Sans" textLength="8.40" lengthAdjust="spacingAndGlyphs" stroke="#000" stroke-width="0.30">40</text>
<text x="130.25" y="553.12" font-size="6.90" text-anchor="middle" font-family="Liberation Sans" textLength="8.40" lengthAdjust="spacingAndGlyphs" stroke="#000" stroke-width="0.30">60</text>
<text x="160.50" y="553.12" font-size="6.90" text-anchor="middle" font-family="Liberation Sans" textLength="8.40" lengthAdjust="spacingAndGlyphs" stroke="#000" stroke-width="0.30">80</text>
<text x="190.75" y="553.12" font-size="6.90" text-anchor="middle" font-family="Liberation Sans" textLength="12.60" lengthAdjust="spacingAndGlyphs" stroke="#000" stroke-width="0.30">100</text>
<text x="221.00" y="553.12" font-size="6.90" text-anchor="middle" font-family="Liberation Sans" textLength="12.60" lengthAdjust="spacingAndGlyphs" stroke="#000" stroke-width="0.30">120</text>
<text x="35.80" y="441.92" font-size="6.90" text-anchor="end" font-family="Liberation Sans" textLength="20.99" lengthAdjust="spacingAndGlyphs" stroke="#000" stroke-width="0.30">10000</text>
<text x="35.80" y="422.40" font-size="6.90" text-anchor="end" font-family="Liberation Sans" textLength="20.99" lengthAdjust="spacingAndGlyphs" stroke="#000" stroke-width="0.30">12500</text>
<text x="35.80" y="402.88" font-size="6.90" text-anchor="end" font-family="Liberation Sans" textLength="20.99" lengthAdjust="spacingAndGlyphs" stroke="#000" stroke-width="0.30">15000</text>
<text x="35.80" y="383.37" font-size="6.90" text-anchor="end" font-family="Liberation Sans" textLength="20.99" lengthAdjust="spacingAndGlyphs" stroke="#000" stroke-width="0.30">17500</text>
<text x="35.80" y="363.85" font-size="6.90" text-anchor="end" font-family="Liberation Sans" textLength="20.99" lengthAdjust="spacingAndGlyphs" stroke="#000" stroke-width="0.30">20000</text>
<text x="35.80" y="344.33" font-size="6.90" text-anchor="end" font-family="Liberation Sans" textLength="20.99" lengthAdjust="spacingAndGlyphs" stroke="#000" stroke-width="0.30">22500</text>
<text x="35.80" y="324.81" font-size="6.90" text-anchor="end" font-family="Liberation Sans" textLength="20.99" lengthAdjust="spacingAndGlyphs" stroke="#000" stroke-width="0.30">25000</text>
<text x="35.80" y="545.61" font-size="6.90" text-anchor="end" font-family="Liberation Sans" textLength="14.69" lengthAdjust="spacingAndGlyphs" stroke="#000" stroke-width="0.30">0.90</text>
<text x="35.80" y="527.21" font-size="6.90" text-anchor="end" font-family="Liberation Sans" textLength="14.69" lengthAdjust="spacingAndGlyphs" stroke="#000" stroke-width="0.30">0.95</text>
<text x="35.80" y="508.81" font-size="6.90" text-anchor="end" font-family="Liberation Sans" textLength="14.69" lengthAdjust="spacingAndGlyphs" stroke="#000" stroke-width="0.30">1.00</text>
<text x="35.80" y="490.42" font-size="6.90" text-anchor="end" font-family="Liberation Sans" textLength="14.69" lengthAdjust="spacingAndGlyphs" stroke="#000" stroke-width="0.30">1.05</text>
<text x="35.80" y="472.02" font-size="6.90" text-anchor="end" font-family="Liberation Sans" textLength="14.69" lengthAdjust="spacingAndGlyphs" stroke="#000" stroke-width="0.30">1.10</text>
<text x="10.80" y="382.15" font-size="9.40" text-anchor="middle" font-family="Liberation Sans" textLength="32.20" lengthAdjust="spacingAndGlyphs" transform="rotate(-90 10.80 382.15)" stroke="#000" stroke-width="0.30">Counts</text>
<text x="6.70" y="506.05" font-size="9.40" text-anchor="middle" font-family="Liberation Sans" textLength="23.60" lengthAdjust="spacingAndGlyphs" transform="rotate(-90 6.70 506.05)" stroke="#000" stroke-width="0.30">Ratio</text>
<text x="17.60" y="506.05" font-size="9.40" text-anchor="middle" font-family="Liberation Sans" textLength="48.60" lengthAdjust="spacingAndGlyphs" transform="rotate(-90 17.60 506.05)" stroke="#000" stroke-width="0.30">sim/SPECT</text>
<text x="130.25" y="563.20" font-size="9.40" text-anchor="middle" font-family="Liberation Sans" textLength="45.40" lengthAdjust="spacingAndGlyphs" stroke="#000" stroke-width="0.30">Projection</text>
<text x="166.20" y="319.25" font-size="9.30" text-anchor="start" font-family="Liberation Sans" textLength="47.60" lengthAdjust="spacingAndGlyphs" stroke="#000" stroke-width="0.30">Experiment</text>
<text x="166.20" y="331.25" font-size="9.30" text-anchor="start" font-family="Liberation Sans" textLength="43.60" lengthAdjust="spacingAndGlyphs" stroke="#000" stroke-width="0.30">Simulation</text>
<text x="93.70" y="592.80" font-size="22.40" text-anchor="start" font-family="Liberation Serif" textLength="6.30" lengthAdjust="spacingAndGlyphs">(</text>
<text x="113.30" y="592.80" font-size="22.40" text-anchor="start" font-family="Liberation Serif" textLength="6.30" lengthAdjust="spacingAndGlyphs">)</text>
<text x="106.65" y="592.80" font-size="19.60" text-anchor="middle" font-family="Liberation Serif">d</text>
<text x="127.10" y="592.80" font-size="19.60" text-anchor="start" font-family="Liberation Serif" textLength="43.40" lengthAdjust="spacingAndGlyphs">EM2</text>
<text x="264.00" y="553.31" font-size="6.90" text-anchor="middle" font-family="Liberation Sans" textLength="4.20" lengthAdjust="spacingAndGlyphs" stroke="#000" stroke-width="0.30">0</text>
<text x="295.02" y="553.31" font-size="6.90" text-anchor="middle" font-family="Liberation Sans" textLength="8.40" lengthAdjust="spacingAndGlyphs" stroke="#000" stroke-width="0.30">20</text>
<text x="326.03" y="553.31" font-size="6.90" text-anchor="middle" font-family="Liberation Sans" textLength="8.40" lengthAdjust="spacingAndGlyphs" stroke="#000" stroke-width="0.30">40</text>
<text x="357.05" y="553.31" font-size="6.90" text-anchor="middle" font-family="Liberation Sans" textLength="8.40" lengthAdjust="spacingAndGlyphs" stroke="#000" stroke-width="0.30">60</text>
<text x="388.07" y="553.31" font-size="6.90" text-anchor="middle" font-family="Liberation Sans" textLength="8.40" lengthAdjust="spacingAndGlyphs" stroke="#000" stroke-width="0.30">80</text>
<text x="419.08" y="553.31" font-size="6.90" text-anchor="middle" font-family="Liberation Sans" textLength="12.60" lengthAdjust="spacingAndGlyphs" stroke="#000" stroke-width="0.30">100</text>
<text x="450.10" y="553.31" font-size="6.90" text-anchor="middle" font-family="Liberation Sans" textLength="12.60" lengthAdjust="spacingAndGlyphs" stroke="#000" stroke-width="0.30">120</text>
<text x="260.30" y="450.92" font-size="6.90" text-anchor="end" font-family="Liberation Sans" textLength="16.80" lengthAdjust="spacingAndGlyphs" stroke="#000" stroke-width="0.30">2000</text>
<text x="260.30" y="423.66" font-size="6.90" text-anchor="end" font-family="Liberation Sans" textLength="16.80" lengthAdjust="spacingAndGlyphs" stroke="#000" stroke-width="0.30">2500</text>
<text x="260.30" y="396.40" font-size="6.90" text-anchor="end" font-family="Liberation Sans" textLength="16.80" lengthAdjust="spacingAndGlyphs" stroke="#000" stroke-width="0.30">3000</text>
<text x="260.30" y="369.13" font-size="6.90" text-anchor="end" font-family="Liberation Sans" textLength="16.80" lengthAdjust="spacingAndGlyphs" stroke="#000" stroke-width="0.30">3500</text>
<text x="260.30" y="341.88" font-size="6.90" text-anchor="end" font-family="Liberation Sans" textLength="16.80" lengthAdjust="spacingAndGlyphs" stroke="#000" stroke-width="0.30">4000</text>
<text x="260.30" y="314.62" font-size="6.90" text-anchor="end" font-family="Liberation Sans" textLength="16.80" lengthAdjust="spacingAndGlyphs" stroke="#000" stroke-width="0.30">4500</text>
<text x="260.30" y="534.81" font-size="6.90" text-anchor="end" font-family="Liberation Sans" textLength="10.50" lengthAdjust="spacingAndGlyphs" stroke="#000" stroke-width="0.30">0.9</text>
<text x="260.30" y="508.81" font-size="6.90" text-anchor="end" font-family="Liberation Sans" textLength="10.50" lengthAdjust="spacingAndGlyphs" stroke="#000" stroke-width="0.30">1.0</text>
<text x="260.30" y="482.81" font-size="6.90" text-anchor="end" font-family="Liberation Sans" textLength="10.50" lengthAdjust="spacingAndGlyphs" stroke="#000" stroke-width="0.30">1.1</text>
<text x="240.30" y="382.40" font-size="9.40" text-anchor="middle" font-family="Liberation Sans" textLength="32.20" lengthAdjust="spacingAndGlyphs" transform="rotate(-90 240.30 382.40)" stroke="#000" stroke-width="0.30">Counts</text>
<text x="236.60" y="506.15" font-size="9.40" text-anchor="middle" font-family="Liberation Sans" textLength="23.60" lengthAdjust="spacingAndGlyphs" transform="rotate(-90 236.60 506.15)" stroke="#000" stroke-width="0.30">Ratio</text>
<text x="246.60" y="506.15" font-size="9.40" text-anchor="middle" font-family="Liberation Sans" textLength="48.60" lengthAdjust="spacingAndGlyphs" transform="rotate(-90 246.60 506.15)" stroke="#000" stroke-width="0.30">sim/SPECT</text>
<text x="357.05" y="563.20" font-size="9.40" text-anchor="middle" font-family="Liberation Sans" textLength="45.40" lengthAdjust="spacingAndGlyphs" stroke="#000" stroke-width="0.30">Projection</text>
<text x="395.20" y="319.25" font-size="9.30" text-anchor="start" font-family="Liberation Sans" textLength="47.60" lengthAdjust="spacingAndGlyphs" stroke="#000" stroke-width="0.30">Experiment</text>
<text x="395.20" y="331.25" font-size="9.30" text-anchor="start" font-family="Liberation Sans" textLength="43.60" lengthAdjust="spacingAndGlyphs" stroke="#000" stroke-width="0.30">Simulation</text>
<text x="326.20" y="592.80" font-size="22.40" text-anchor="start" font-family="Liberation Serif" textLength="6.30" lengthAdjust="spacingAndGlyphs">(</text>
<text x="343.90" y="592.80" font-size="22.40" text-anchor="start" font-family="Liberation Serif" textLength="6.30" lengthAdjust="spacingAndGlyphs">)</text>
<text x="338.20" y="592.80" font-size="19.60" text-anchor="middle" font-family="Liberation Serif">e</text>
<text x="357.60" y="592.80" font-size="19.60" text-anchor="start" font-family="Liberation Serif" textLength="37.50" lengthAdjust="spacingAndGlyphs">SC3</text>
<text x="493.30" y="553.31" font-size="6.90" text-anchor="middle" font-family="Liberation Sans" textLength="4.20" lengthAdjust="spacingAndGlyphs" stroke="#000" stroke-width="0.30">0</text>
<text x="524.28" y="553.31" font-size="6.90" text-anchor="middle" font-family="Liberation Sans" textLength="8.40" lengthAdjust="spacingAndGlyphs" stroke="#000" stroke-width="0.30">20</text>
<text x="555.27" y="553.31" font-size="6.90" text-anchor="middle" font-family="Liberation Sans" textLength="8.40" lengthAdjust="spacingAndGlyphs" stroke="#000" stroke-width="0.30">40</text>
<text x="586.25" y="553.31" font-size="6.90" text-anchor="middle" font-family="Liberation Sans" textLength="8.40" lengthAdjust="spacingAndGlyphs" stroke="#000" stroke-width="0.30">60</text>
<text x="617.23" y="553.31" font-size="6.90" text-anchor="middle" font-family="Liberation Sans" textLength="8.40" lengthAdjust="spacingAndGlyphs" stroke="#000" stroke-width="0.30">80</text>
<text x="648.22" y="553.31" font-size="6.90" text-anchor="middle" font-family="Liberation Sans" textLength="12.60" lengthAdjust="spacingAndGlyphs" stroke="#000" stroke-width="0.30">100</text>
<text x="679.20" y="553.31" font-size="6.90" text-anchor="middle" font-family="Liberation Sans" textLength="12.60" lengthAdjust="spacingAndGlyphs" stroke="#000" stroke-width="0.30">120</text>
<text x="489.60" y="456.72" font-size="6.90" text-anchor="end" font-family="Liberation Sans" textLength="12.60" lengthAdjust="spacingAndGlyphs" stroke="#000" stroke-width="0.30">300</text>
<text x="489.60" y="429.98" font-size="6.90" text-anchor="end" font-family="Liberation Sans" textLength="12.60" lengthAdjust="spacingAndGlyphs" stroke="#000" stroke-width="0.30">400</text>
<text x="489.60" y="403.24" font-size="6.90" text-anchor="end" font-family="Liberation Sans" textLength="12.60" lengthAdjust="spacingAndGlyphs" stroke="#000" stroke-width="0.30">500</text>
<text x="489.60" y="376.50" font-size="6.90" text-anchor="end" font-family="Liberation Sans" textLength="12.60" lengthAdjust="spacingAndGlyphs" stroke="#000" stroke-width="0.30">600</text>
<text x="489.60" y="349.76" font-size="6.90" text-anchor="end" font-family="Liberation Sans" textLength="12.60" lengthAdjust="spacingAndGlyphs" stroke="#000" stroke-width="0.30">700</text>
<text x="489.60" y="323.02" font-size="6.90" text-anchor="end" font-family="Liberation Sans" textLength="12.60" lengthAdjust="spacingAndGlyphs" stroke="#000" stroke-width="0.30">800</text>
<text x="489.60" y="528.61" font-size="6.90" text-anchor="end" font-family="Liberation Sans" textLength="10.50" lengthAdjust="spacingAndGlyphs" stroke="#000" stroke-width="0.30">0.8</text>
<text x="489.60" y="508.81" font-size="6.90" text-anchor="end" font-family="Liberation Sans" textLength="10.50" lengthAdjust="spacingAndGlyphs" stroke="#000" stroke-width="0.30">1.0</text>
<text x="489.60" y="489.02" font-size="6.90" text-anchor="end" font-family="Liberation Sans" textLength="10.50" lengthAdjust="spacingAndGlyphs" stroke="#000" stroke-width="0.30">1.2</text>
<text x="473.60" y="382.45" font-size="9.40" text-anchor="middle" font-family="Liberation Sans" textLength="32.20" lengthAdjust="spacingAndGlyphs" transform="rotate(-90 473.60 382.45)" stroke="#000" stroke-width="0.30">Counts</text>
<text x="465.30" y="506.00" font-size="9.40" text-anchor="middle" font-family="Liberation Sans" textLength="23.60" lengthAdjust="spacingAndGlyphs" transform="rotate(-90 465.30 506.00)" stroke="#000" stroke-width="0.30">Ratio</text>
<text x="475.60" y="506.00" font-size="9.40" text-anchor="middle" font-family="Liberation Sans" textLength="48.60" lengthAdjust="spacingAndGlyphs" transform="rotate(-90 475.60 506.00)" stroke="#000" stroke-width="0.30">sim/SPECT</text>
<text x="586.25" y="563.20" font-size="9.40" text-anchor="middle" font-family="Liberation Sans" textLength="45.40" lengthAdjust="spacingAndGlyphs" stroke="#000" stroke-width="0.30">Projection</text>
<text x="624.20" y="319.25" font-size="9.30" text-anchor="start" font-family="Liberation Sans" textLength="47.60" lengthAdjust="spacingAndGlyphs" stroke="#000" stroke-width="0.30">Experiment</text>
<text x="624.20" y="331.25" font-size="9.30" text-anchor="start" font-family="Liberation Sans" textLength="43.60" lengthAdjust="spacingAndGlyphs" stroke="#000" stroke-width="0.30">Simulation</text>
<text x="551.70" y="592.80" font-size="22.40" text-anchor="start" font-family="Liberation Serif" textLength="6.30" lengthAdjust="spacingAndGlyphs">(</text>
<text x="567.20" y="592.80" font-size="22.40" text-anchor="start" font-family="Liberation Serif" textLength="6.30" lengthAdjust="spacingAndGlyphs">)</text>
<text x="562.60" y="592.80" font-size="19.60" text-anchor="middle" font-family="Liberation Serif">f</text>
<text x="581.40" y="592.80" font-size="19.60" text-anchor="start" font-family="Liberation Serif" textLength="47.20" lengthAdjust="spacingAndGlyphs">SC24</text></svg>
</body></html>
